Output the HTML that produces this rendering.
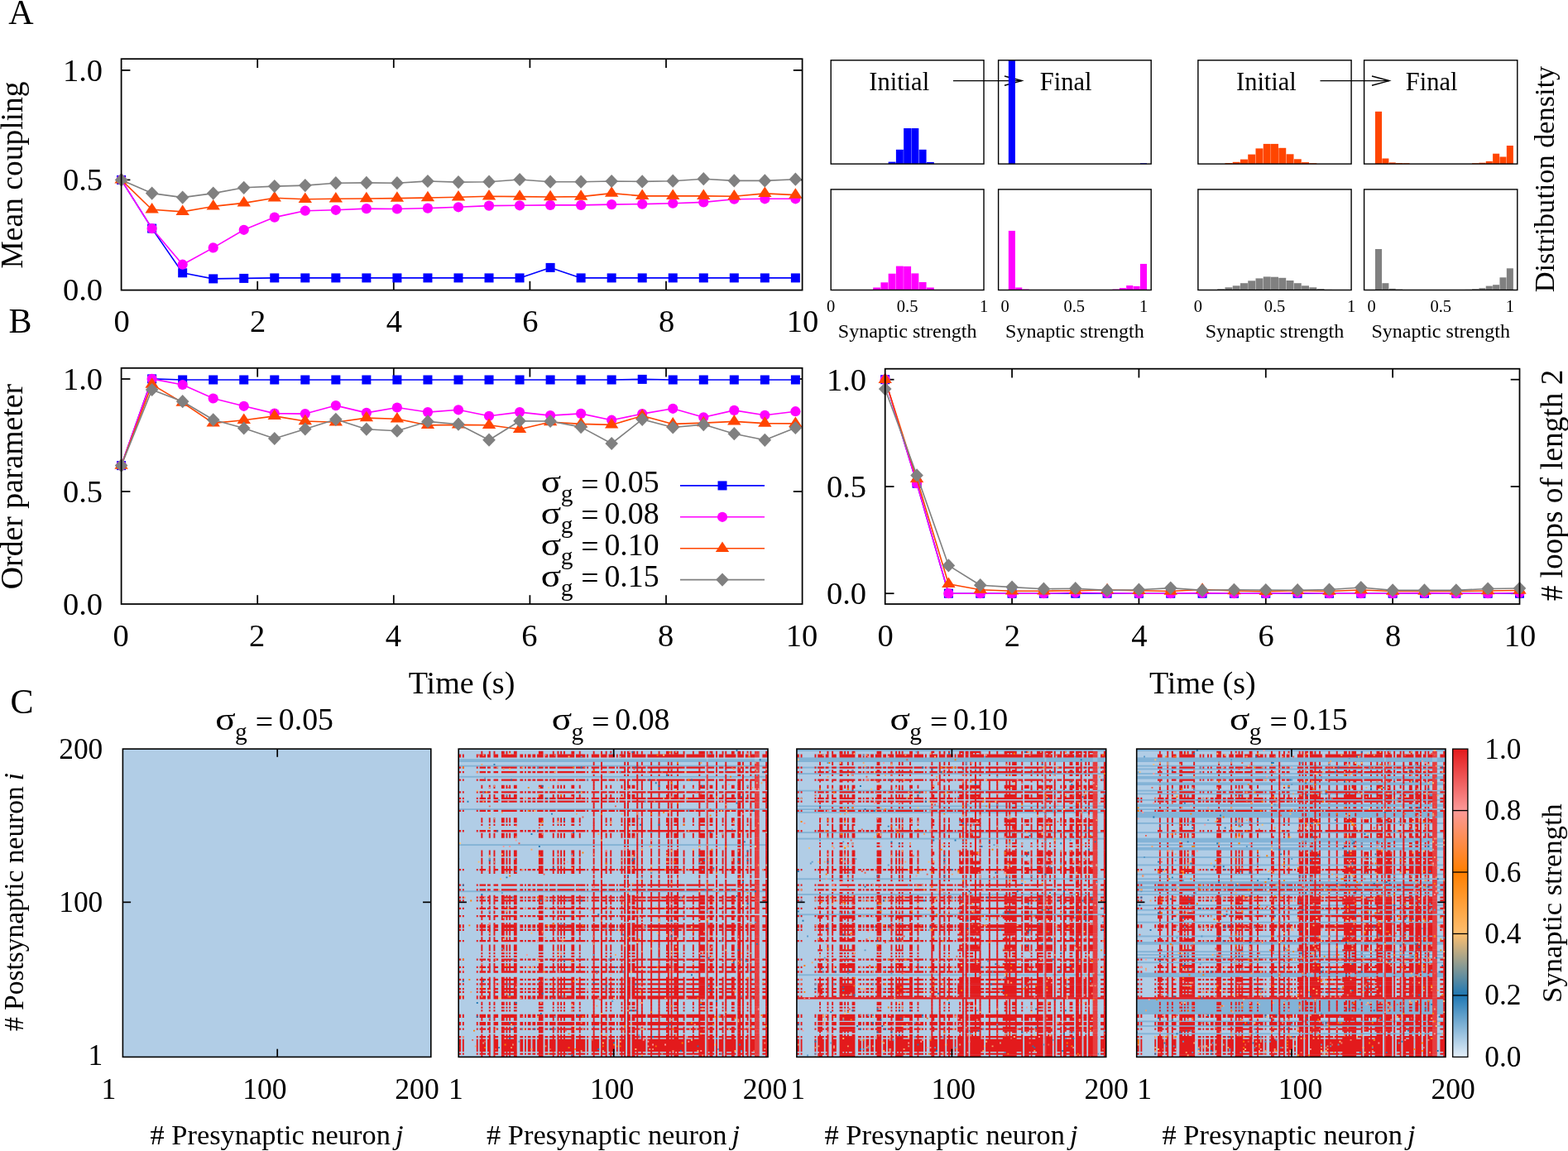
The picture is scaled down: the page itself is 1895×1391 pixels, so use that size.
<!DOCTYPE html>
<html lang="en"><head><meta charset="utf-8"><title>Figure</title>
<style>
html,body{margin:0;padding:0;background:#fff;}
body{width:1895px;height:1391px;overflow:hidden;}
svg{display:block;font-family:'Liberation Serif', 'DejaVu Serif', serif;fill:#000;}
svg text{fill:#000;}
</style></head><body>
<svg width="1895" height="1391" viewBox="0 0 1895 1391">
<rect width="1895" height="1391" fill="#fff"/>
<line x1="311.20" y1="350.60" x2="311.20" y2="339.80" stroke="#000" stroke-width="1.75"/>
<line x1="311.20" y1="71.20" x2="311.20" y2="82.00" stroke="#000" stroke-width="1.75"/>
<line x1="475.80" y1="350.60" x2="475.80" y2="339.80" stroke="#000" stroke-width="1.75"/>
<line x1="475.80" y1="71.20" x2="475.80" y2="82.00" stroke="#000" stroke-width="1.75"/>
<line x1="640.40" y1="350.60" x2="640.40" y2="339.80" stroke="#000" stroke-width="1.75"/>
<line x1="640.40" y1="71.20" x2="640.40" y2="82.00" stroke="#000" stroke-width="1.75"/>
<line x1="805.00" y1="350.60" x2="805.00" y2="339.80" stroke="#000" stroke-width="1.75"/>
<line x1="805.00" y1="71.20" x2="805.00" y2="82.00" stroke="#000" stroke-width="1.75"/>
<line x1="146.60" y1="84.90" x2="157.40" y2="84.90" stroke="#000" stroke-width="1.75"/>
<line x1="969.60" y1="84.90" x2="958.80" y2="84.90" stroke="#000" stroke-width="1.75"/>
<line x1="146.60" y1="217.40" x2="157.40" y2="217.40" stroke="#000" stroke-width="1.75"/>
<line x1="969.60" y1="217.40" x2="958.80" y2="217.40" stroke="#000" stroke-width="1.75"/>
<polyline points="146.60,217.40 183.63,276.10 220.67,329.80 257.71,336.90 294.74,336.40 331.77,335.90 368.81,335.90 405.85,335.90 442.88,335.90 479.91,335.90 516.95,335.90 553.99,335.90 591.02,335.90 628.06,335.90 665.09,323.40 702.12,335.90 739.16,335.90 776.20,335.90 813.23,335.90 850.27,335.90 887.30,335.90 924.34,335.90 961.37,335.90" fill="none" stroke="#0000ff" stroke-width="1.6" stroke-linejoin="round"/>
<rect x="141.10" y="211.90" width="11.00" height="11.00" fill="#0000ff"/>
<rect x="178.13" y="270.60" width="11.00" height="11.00" fill="#0000ff"/>
<rect x="215.17" y="324.30" width="11.00" height="11.00" fill="#0000ff"/>
<rect x="252.21" y="331.40" width="11.00" height="11.00" fill="#0000ff"/>
<rect x="289.24" y="330.90" width="11.00" height="11.00" fill="#0000ff"/>
<rect x="326.27" y="330.40" width="11.00" height="11.00" fill="#0000ff"/>
<rect x="363.31" y="330.40" width="11.00" height="11.00" fill="#0000ff"/>
<rect x="400.35" y="330.40" width="11.00" height="11.00" fill="#0000ff"/>
<rect x="437.38" y="330.40" width="11.00" height="11.00" fill="#0000ff"/>
<rect x="474.41" y="330.40" width="11.00" height="11.00" fill="#0000ff"/>
<rect x="511.45" y="330.40" width="11.00" height="11.00" fill="#0000ff"/>
<rect x="548.49" y="330.40" width="11.00" height="11.00" fill="#0000ff"/>
<rect x="585.52" y="330.40" width="11.00" height="11.00" fill="#0000ff"/>
<rect x="622.56" y="330.40" width="11.00" height="11.00" fill="#0000ff"/>
<rect x="659.59" y="317.90" width="11.00" height="11.00" fill="#0000ff"/>
<rect x="696.62" y="330.40" width="11.00" height="11.00" fill="#0000ff"/>
<rect x="733.66" y="330.40" width="11.00" height="11.00" fill="#0000ff"/>
<rect x="770.70" y="330.40" width="11.00" height="11.00" fill="#0000ff"/>
<rect x="807.73" y="330.40" width="11.00" height="11.00" fill="#0000ff"/>
<rect x="844.77" y="330.40" width="11.00" height="11.00" fill="#0000ff"/>
<rect x="881.80" y="330.40" width="11.00" height="11.00" fill="#0000ff"/>
<rect x="918.84" y="330.40" width="11.00" height="11.00" fill="#0000ff"/>
<rect x="955.87" y="330.40" width="11.00" height="11.00" fill="#0000ff"/>
<polyline points="146.60,217.40 183.63,276.10 220.67,319.70 257.71,299.40 294.74,277.80 331.77,262.60 368.81,254.70 405.85,253.80 442.88,252.10 479.91,252.50 516.95,251.60 553.99,250.30 591.02,248.60 628.06,248.30 665.09,247.90 702.12,247.90 739.16,247.10 776.20,246.60 813.23,245.70 850.27,244.40 887.30,240.70 924.34,240.30 961.37,240.30" fill="none" stroke="#ff00ff" stroke-width="1.6" stroke-linejoin="round"/>
<circle cx="146.60" cy="217.40" r="6.1" fill="#ff00ff"/>
<circle cx="183.63" cy="276.10" r="6.1" fill="#ff00ff"/>
<circle cx="220.67" cy="319.70" r="6.1" fill="#ff00ff"/>
<circle cx="257.71" cy="299.40" r="6.1" fill="#ff00ff"/>
<circle cx="294.74" cy="277.80" r="6.1" fill="#ff00ff"/>
<circle cx="331.77" cy="262.60" r="6.1" fill="#ff00ff"/>
<circle cx="368.81" cy="254.70" r="6.1" fill="#ff00ff"/>
<circle cx="405.85" cy="253.80" r="6.1" fill="#ff00ff"/>
<circle cx="442.88" cy="252.10" r="6.1" fill="#ff00ff"/>
<circle cx="479.91" cy="252.50" r="6.1" fill="#ff00ff"/>
<circle cx="516.95" cy="251.60" r="6.1" fill="#ff00ff"/>
<circle cx="553.99" cy="250.30" r="6.1" fill="#ff00ff"/>
<circle cx="591.02" cy="248.60" r="6.1" fill="#ff00ff"/>
<circle cx="628.06" cy="248.30" r="6.1" fill="#ff00ff"/>
<circle cx="665.09" cy="247.90" r="6.1" fill="#ff00ff"/>
<circle cx="702.12" cy="247.90" r="6.1" fill="#ff00ff"/>
<circle cx="739.16" cy="247.10" r="6.1" fill="#ff00ff"/>
<circle cx="776.20" cy="246.60" r="6.1" fill="#ff00ff"/>
<circle cx="813.23" cy="245.70" r="6.1" fill="#ff00ff"/>
<circle cx="850.27" cy="244.40" r="6.1" fill="#ff00ff"/>
<circle cx="887.30" cy="240.70" r="6.1" fill="#ff00ff"/>
<circle cx="924.34" cy="240.30" r="6.1" fill="#ff00ff"/>
<circle cx="961.37" cy="240.30" r="6.1" fill="#ff00ff"/>
<polyline points="146.60,217.40 183.63,253.30 220.67,255.90 257.71,249.40 294.74,245.40 331.77,239.30 368.81,240.70 405.85,240.30 442.88,240.00 479.91,239.60 516.95,239.00 553.99,238.30 591.02,237.30 628.06,237.60 665.09,238.00 702.12,237.60 739.16,233.60 776.20,236.90 813.23,236.90 850.27,236.90 887.30,237.30 924.34,233.90 961.37,235.60" fill="none" stroke="#ff4500" stroke-width="1.6" stroke-linejoin="round"/>
<polygon points="146.60,209.10 154.80,221.60 138.40,221.60" fill="#ff4500"/>
<polygon points="183.63,245.00 191.83,257.50 175.44,257.50" fill="#ff4500"/>
<polygon points="220.67,247.60 228.87,260.10 212.47,260.10" fill="#ff4500"/>
<polygon points="257.71,241.10 265.91,253.60 249.51,253.60" fill="#ff4500"/>
<polygon points="294.74,237.10 302.94,249.60 286.54,249.60" fill="#ff4500"/>
<polygon points="331.77,231.00 339.97,243.50 323.57,243.50" fill="#ff4500"/>
<polygon points="368.81,232.40 377.01,244.90 360.61,244.90" fill="#ff4500"/>
<polygon points="405.85,232.00 414.05,244.50 397.65,244.50" fill="#ff4500"/>
<polygon points="442.88,231.70 451.08,244.20 434.68,244.20" fill="#ff4500"/>
<polygon points="479.91,231.30 488.11,243.80 471.71,243.80" fill="#ff4500"/>
<polygon points="516.95,230.70 525.15,243.20 508.75,243.20" fill="#ff4500"/>
<polygon points="553.99,230.00 562.19,242.50 545.78,242.50" fill="#ff4500"/>
<polygon points="591.02,229.00 599.22,241.50 582.82,241.50" fill="#ff4500"/>
<polygon points="628.06,229.30 636.26,241.80 619.86,241.80" fill="#ff4500"/>
<polygon points="665.09,229.70 673.29,242.20 656.89,242.20" fill="#ff4500"/>
<polygon points="702.12,229.30 710.33,241.80 693.92,241.80" fill="#ff4500"/>
<polygon points="739.16,225.30 747.36,237.80 730.96,237.80" fill="#ff4500"/>
<polygon points="776.20,228.60 784.40,241.10 768.00,241.10" fill="#ff4500"/>
<polygon points="813.23,228.60 821.43,241.10 805.03,241.10" fill="#ff4500"/>
<polygon points="850.27,228.60 858.47,241.10 842.07,241.10" fill="#ff4500"/>
<polygon points="887.30,229.00 895.50,241.50 879.10,241.50" fill="#ff4500"/>
<polygon points="924.34,225.60 932.54,238.10 916.14,238.10" fill="#ff4500"/>
<polygon points="961.37,227.30 969.57,239.80 953.17,239.80" fill="#ff4500"/>
<polyline points="146.60,217.40 183.63,233.60 220.67,238.60 257.71,233.60 294.74,226.80 331.77,225.10 368.81,224.10 405.85,221.20 442.88,220.90 479.91,221.20 516.95,219.00 553.99,220.10 591.02,219.70 628.06,217.00 665.09,219.70 702.12,219.70 739.16,219.00 776.20,219.40 813.23,218.70 850.27,216.20 887.30,218.40 924.34,218.40 961.37,216.70" fill="none" stroke="#808080" stroke-width="1.6" stroke-linejoin="round"/>
<polygon points="146.60,209.30 154.40,217.40 146.60,225.50 138.80,217.40" fill="#808080"/>
<polygon points="183.63,225.50 191.44,233.60 183.63,241.70 175.83,233.60" fill="#808080"/>
<polygon points="220.67,230.50 228.47,238.60 220.67,246.70 212.87,238.60" fill="#808080"/>
<polygon points="257.71,225.50 265.51,233.60 257.71,241.70 249.91,233.60" fill="#808080"/>
<polygon points="294.74,218.70 302.54,226.80 294.74,234.90 286.94,226.80" fill="#808080"/>
<polygon points="331.77,217.00 339.57,225.10 331.77,233.20 323.97,225.10" fill="#808080"/>
<polygon points="368.81,216.00 376.61,224.10 368.81,232.20 361.01,224.10" fill="#808080"/>
<polygon points="405.85,213.10 413.65,221.20 405.85,229.30 398.05,221.20" fill="#808080"/>
<polygon points="442.88,212.80 450.68,220.90 442.88,229.00 435.08,220.90" fill="#808080"/>
<polygon points="479.91,213.10 487.71,221.20 479.91,229.30 472.11,221.20" fill="#808080"/>
<polygon points="516.95,210.90 524.75,219.00 516.95,227.10 509.15,219.00" fill="#808080"/>
<polygon points="553.99,212.00 561.78,220.10 553.99,228.20 546.19,220.10" fill="#808080"/>
<polygon points="591.02,211.60 598.82,219.70 591.02,227.80 583.22,219.70" fill="#808080"/>
<polygon points="628.06,208.90 635.86,217.00 628.06,225.10 620.26,217.00" fill="#808080"/>
<polygon points="665.09,211.60 672.89,219.70 665.09,227.80 657.29,219.70" fill="#808080"/>
<polygon points="702.12,211.60 709.92,219.70 702.12,227.80 694.33,219.70" fill="#808080"/>
<polygon points="739.16,210.90 746.96,219.00 739.16,227.10 731.36,219.00" fill="#808080"/>
<polygon points="776.20,211.30 784.00,219.40 776.20,227.50 768.40,219.40" fill="#808080"/>
<polygon points="813.23,210.60 821.03,218.70 813.23,226.80 805.43,218.70" fill="#808080"/>
<polygon points="850.27,208.10 858.07,216.20 850.27,224.30 842.47,216.20" fill="#808080"/>
<polygon points="887.30,210.30 895.10,218.40 887.30,226.50 879.50,218.40" fill="#808080"/>
<polygon points="924.34,210.30 932.14,218.40 924.34,226.50 916.54,218.40" fill="#808080"/>
<polygon points="961.37,208.60 969.17,216.70 961.37,224.80 953.57,216.70" fill="#808080"/>
<rect x="146.60" y="71.20" width="823.00" height="279.40" fill="none" stroke="#000" stroke-width="1.75"/>
<text x="124.00" y="97.90" font-size="38.5" text-anchor="end">1.0</text>
<text x="124.00" y="230.40" font-size="38.5" text-anchor="end">0.5</text>
<text x="124.00" y="363.00" font-size="38.5" text-anchor="end">0.0</text>
<text x="147.10" y="401.30" font-size="38.5" text-anchor="middle">0</text>
<text x="311.70" y="401.30" font-size="38.5" text-anchor="middle">2</text>
<text x="476.30" y="401.30" font-size="38.5" text-anchor="middle">4</text>
<text x="640.90" y="401.30" font-size="38.5" text-anchor="middle">6</text>
<text x="805.50" y="401.30" font-size="38.5" text-anchor="middle">8</text>
<text x="970.10" y="401.30" font-size="38.5" text-anchor="middle">10</text>
<text x="27.00" y="211.50" font-size="37.5" text-anchor="middle" transform="rotate(-90 27.00 211.50)">Mean coupling</text>
<text x="25.50" y="29.20" font-size="42" text-anchor="middle">A</text>
<text x="24.50" y="401.70" font-size="42" text-anchor="middle">B</text>
<text x="26.50" y="862.00" font-size="42" text-anchor="middle">C</text>
<g fill="#0000ff">
<rect x="1073.65" y="195.60" width="8.94" height="2.50"/>
<rect x="1082.89" y="180.80" width="8.94" height="17.30"/>
<rect x="1092.13" y="155.00" width="8.94" height="43.10"/>
<rect x="1101.37" y="155.00" width="8.94" height="43.10"/>
<rect x="1110.61" y="180.80" width="8.94" height="17.30"/>
<rect x="1119.85" y="195.90" width="8.94" height="2.20"/>
</g>
<rect x="1004.20" y="72.80" width="184.80" height="125.30" fill="none" stroke="#000" stroke-width="1.4"/>
<line x1="1152.00" y1="97.60" x2="1235.00" y2="97.60" stroke="#000" stroke-width="1.4"/>
<polyline points="1214.00,92.00 1235.00,97.60 1214.00,103.20" fill="none" stroke="#000" stroke-width="1.4"/>
<g fill="#0000ff">
<rect x="1218.84" y="72.80" width="8.07" height="125.30"/>
<rect x="1377.96" y="197.30" width="8.07" height="0.80"/>
</g>
<rect x="1206.60" y="72.80" width="184.60" height="125.30" fill="none" stroke="#000" stroke-width="1.4"/>
<g fill="#ff00ff">
<rect x="1055.17" y="347.50" width="8.94" height="3.00"/>
<rect x="1064.41" y="341.30" width="8.94" height="9.20"/>
<rect x="1073.65" y="330.70" width="8.94" height="19.80"/>
<rect x="1082.89" y="321.60" width="8.94" height="28.90"/>
<rect x="1092.13" y="321.90" width="8.94" height="28.60"/>
<rect x="1101.37" y="330.40" width="8.94" height="20.10"/>
<rect x="1110.61" y="341.00" width="8.94" height="9.50"/>
<rect x="1119.85" y="347.50" width="8.94" height="3.00"/>
</g>
<rect x="1004.20" y="228.90" width="184.80" height="121.60" fill="none" stroke="#000" stroke-width="1.4"/>
<g fill="#ff00ff">
<rect x="1218.84" y="278.90" width="8.07" height="71.60"/>
<rect x="1227.21" y="347.50" width="8.07" height="3.00"/>
<rect x="1235.59" y="349.60" width="8.07" height="0.90"/>
<rect x="1344.46" y="349.60" width="8.07" height="0.90"/>
<rect x="1352.84" y="348.10" width="8.07" height="2.40"/>
<rect x="1361.21" y="345.00" width="8.07" height="5.50"/>
<rect x="1369.59" y="345.90" width="8.07" height="4.60"/>
<rect x="1377.96" y="318.90" width="8.07" height="31.60"/>
</g>
<rect x="1206.60" y="228.90" width="184.60" height="121.60" fill="none" stroke="#000" stroke-width="1.4"/>
<g fill="#ff4500">
<rect x="1480.46" y="197.10" width="8.96" height="1.00"/>
<rect x="1489.72" y="195.80" width="8.96" height="2.30"/>
<rect x="1498.98" y="192.60" width="8.96" height="5.50"/>
<rect x="1508.24" y="186.60" width="8.96" height="11.50"/>
<rect x="1517.50" y="179.40" width="8.96" height="18.70"/>
<rect x="1526.76" y="173.90" width="8.96" height="24.20"/>
<rect x="1536.02" y="173.90" width="8.96" height="24.20"/>
<rect x="1545.28" y="178.80" width="8.96" height="19.30"/>
<rect x="1554.54" y="186.30" width="8.96" height="11.80"/>
<rect x="1563.80" y="192.30" width="8.96" height="5.80"/>
<rect x="1573.06" y="196.10" width="8.96" height="2.00"/>
<rect x="1582.32" y="197.30" width="8.96" height="0.80"/>
</g>
<rect x="1447.90" y="72.80" width="185.20" height="125.30" fill="none" stroke="#000" stroke-width="1.4"/>
<line x1="1595.50" y1="97.60" x2="1679.00" y2="97.60" stroke="#000" stroke-width="1.4"/>
<polyline points="1658.00,92.00 1679.00,97.60 1658.00,103.20" fill="none" stroke="#000" stroke-width="1.4"/>
<g fill="#ff4500">
<rect x="1661.98" y="134.80" width="8.06" height="63.30"/>
<rect x="1670.34" y="191.50" width="8.06" height="6.60"/>
<rect x="1678.70" y="196.40" width="8.06" height="1.70"/>
<rect x="1687.06" y="197.10" width="8.06" height="1.00"/>
<rect x="1695.42" y="197.30" width="8.06" height="0.80"/>
<rect x="1779.02" y="197.30" width="8.06" height="0.80"/>
<rect x="1787.38" y="196.70" width="8.06" height="1.40"/>
<rect x="1795.74" y="194.90" width="8.06" height="3.20"/>
<rect x="1804.10" y="185.70" width="8.06" height="12.40"/>
<rect x="1812.46" y="189.50" width="8.06" height="8.60"/>
<rect x="1820.82" y="176.00" width="8.06" height="22.10"/>
</g>
<rect x="1648.60" y="72.80" width="185.20" height="125.30" fill="none" stroke="#000" stroke-width="1.4"/>
<g fill="#808080">
<rect x="1471.20" y="349.30" width="8.96" height="1.20"/>
<rect x="1480.46" y="347.30" width="8.96" height="3.20"/>
<rect x="1489.72" y="345.30" width="8.96" height="5.20"/>
<rect x="1498.98" y="342.20" width="8.96" height="8.30"/>
<rect x="1508.24" y="339.30" width="8.96" height="11.20"/>
<rect x="1517.50" y="336.40" width="8.96" height="14.10"/>
<rect x="1526.76" y="334.40" width="8.96" height="16.10"/>
<rect x="1536.02" y="334.70" width="8.96" height="15.80"/>
<rect x="1545.28" y="335.80" width="8.96" height="14.70"/>
<rect x="1554.54" y="339.00" width="8.96" height="11.50"/>
<rect x="1563.80" y="342.20" width="8.96" height="8.30"/>
<rect x="1573.06" y="345.30" width="8.96" height="5.20"/>
<rect x="1582.32" y="347.30" width="8.96" height="3.20"/>
<rect x="1591.58" y="349.10" width="8.96" height="1.40"/>
<rect x="1600.84" y="349.90" width="8.96" height="0.60"/>
</g>
<rect x="1447.90" y="228.90" width="185.20" height="121.60" fill="none" stroke="#000" stroke-width="1.4"/>
<g fill="#808080">
<rect x="1661.98" y="301.00" width="8.06" height="49.50"/>
<rect x="1670.34" y="342.20" width="8.06" height="8.30"/>
<rect x="1678.70" y="348.80" width="8.06" height="1.70"/>
<rect x="1687.06" y="349.60" width="8.06" height="0.90"/>
<rect x="1770.66" y="349.90" width="8.06" height="0.60"/>
<rect x="1779.02" y="349.30" width="8.06" height="1.20"/>
<rect x="1787.38" y="348.20" width="8.06" height="2.30"/>
<rect x="1795.74" y="345.60" width="8.06" height="4.90"/>
<rect x="1804.10" y="344.20" width="8.06" height="6.30"/>
<rect x="1812.46" y="335.30" width="8.06" height="15.20"/>
<rect x="1820.82" y="324.30" width="8.06" height="26.20"/>
</g>
<rect x="1648.60" y="228.90" width="185.20" height="121.60" fill="none" stroke="#000" stroke-width="1.4"/>
<text x="1086.70" y="108.50" font-size="30.5" text-anchor="middle">Initial</text>
<text x="1288.10" y="108.50" font-size="30.5" text-anchor="middle">Final</text>
<text x="1096.60" y="407.70" font-size="24.05" text-anchor="middle">Synaptic strength</text>
<text x="1298.90" y="407.70" font-size="24.05" text-anchor="middle">Synaptic strength</text>
<text x="1004.20" y="376.60" font-size="20.5" text-anchor="middle">0</text>
<text x="1096.60" y="376.60" font-size="20.5" text-anchor="middle">0.5</text>
<text x="1189.00" y="376.60" font-size="20.5" text-anchor="middle">1</text>
<text x="1214.50" y="376.60" font-size="20.5" text-anchor="middle">0</text>
<text x="1298.25" y="376.60" font-size="20.5" text-anchor="middle">0.5</text>
<text x="1382.00" y="376.60" font-size="20.5" text-anchor="middle">1</text>
<text x="1530.40" y="108.50" font-size="30.5" text-anchor="middle">Initial</text>
<text x="1730.10" y="108.50" font-size="30.5" text-anchor="middle">Final</text>
<text x="1540.50" y="407.70" font-size="24.05" text-anchor="middle">Synaptic strength</text>
<text x="1741.20" y="407.70" font-size="24.05" text-anchor="middle">Synaptic strength</text>
<text x="1447.90" y="376.60" font-size="20.5" text-anchor="middle">0</text>
<text x="1540.50" y="376.60" font-size="20.5" text-anchor="middle">0.5</text>
<text x="1633.10" y="376.60" font-size="20.5" text-anchor="middle">1</text>
<text x="1657.65" y="376.60" font-size="20.5" text-anchor="middle">0</text>
<text x="1741.25" y="376.60" font-size="20.5" text-anchor="middle">0.5</text>
<text x="1824.85" y="376.60" font-size="20.5" text-anchor="middle">1</text>
<text x="1878.00" y="216.50" font-size="34.3" text-anchor="middle" transform="rotate(-90 1878.00 216.50)">Distribution density</text>
<line x1="311.20" y1="730.00" x2="311.20" y2="719.20" stroke="#000" stroke-width="1.75"/>
<line x1="311.20" y1="444.80" x2="311.20" y2="455.60" stroke="#000" stroke-width="1.75"/>
<line x1="475.80" y1="730.00" x2="475.80" y2="719.20" stroke="#000" stroke-width="1.75"/>
<line x1="475.80" y1="444.80" x2="475.80" y2="455.60" stroke="#000" stroke-width="1.75"/>
<line x1="640.40" y1="730.00" x2="640.40" y2="719.20" stroke="#000" stroke-width="1.75"/>
<line x1="640.40" y1="444.80" x2="640.40" y2="455.60" stroke="#000" stroke-width="1.75"/>
<line x1="805.00" y1="730.00" x2="805.00" y2="719.20" stroke="#000" stroke-width="1.75"/>
<line x1="805.00" y1="444.80" x2="805.00" y2="455.60" stroke="#000" stroke-width="1.75"/>
<line x1="146.60" y1="458.00" x2="157.40" y2="458.00" stroke="#000" stroke-width="1.75"/>
<line x1="969.60" y1="458.00" x2="958.80" y2="458.00" stroke="#000" stroke-width="1.75"/>
<line x1="146.60" y1="594.00" x2="157.40" y2="594.00" stroke="#000" stroke-width="1.75"/>
<line x1="969.60" y1="594.00" x2="958.80" y2="594.00" stroke="#000" stroke-width="1.75"/>
<polyline points="146.60,562.60 183.63,457.90 220.67,459.00 257.71,459.00 294.74,459.00 331.77,459.00 368.81,459.00 405.85,459.00 442.88,459.00 479.91,459.00 516.95,459.00 553.99,459.00 591.02,459.00 628.06,459.00 665.09,459.00 702.12,459.00 739.16,459.00 776.20,458.40 813.23,459.00 850.27,459.00 887.30,459.00 924.34,459.00 961.37,459.00" fill="none" stroke="#0000ff" stroke-width="1.6" stroke-linejoin="round"/>
<rect x="141.10" y="557.10" width="11.00" height="11.00" fill="#0000ff"/>
<rect x="178.13" y="452.40" width="11.00" height="11.00" fill="#0000ff"/>
<rect x="215.17" y="453.50" width="11.00" height="11.00" fill="#0000ff"/>
<rect x="252.21" y="453.50" width="11.00" height="11.00" fill="#0000ff"/>
<rect x="289.24" y="453.50" width="11.00" height="11.00" fill="#0000ff"/>
<rect x="326.27" y="453.50" width="11.00" height="11.00" fill="#0000ff"/>
<rect x="363.31" y="453.50" width="11.00" height="11.00" fill="#0000ff"/>
<rect x="400.35" y="453.50" width="11.00" height="11.00" fill="#0000ff"/>
<rect x="437.38" y="453.50" width="11.00" height="11.00" fill="#0000ff"/>
<rect x="474.41" y="453.50" width="11.00" height="11.00" fill="#0000ff"/>
<rect x="511.45" y="453.50" width="11.00" height="11.00" fill="#0000ff"/>
<rect x="548.49" y="453.50" width="11.00" height="11.00" fill="#0000ff"/>
<rect x="585.52" y="453.50" width="11.00" height="11.00" fill="#0000ff"/>
<rect x="622.56" y="453.50" width="11.00" height="11.00" fill="#0000ff"/>
<rect x="659.59" y="453.50" width="11.00" height="11.00" fill="#0000ff"/>
<rect x="696.62" y="453.50" width="11.00" height="11.00" fill="#0000ff"/>
<rect x="733.66" y="453.50" width="11.00" height="11.00" fill="#0000ff"/>
<rect x="770.70" y="452.90" width="11.00" height="11.00" fill="#0000ff"/>
<rect x="807.73" y="453.50" width="11.00" height="11.00" fill="#0000ff"/>
<rect x="844.77" y="453.50" width="11.00" height="11.00" fill="#0000ff"/>
<rect x="881.80" y="453.50" width="11.00" height="11.00" fill="#0000ff"/>
<rect x="918.84" y="453.50" width="11.00" height="11.00" fill="#0000ff"/>
<rect x="955.87" y="453.50" width="11.00" height="11.00" fill="#0000ff"/>
<polyline points="146.60,562.60 183.63,457.90 220.67,465.00 257.71,481.50 294.74,490.80 331.77,499.60 368.81,500.10 405.85,490.10 442.88,498.90 479.91,492.50 516.95,498.10 553.99,495.30 591.02,502.80 628.06,498.10 665.09,502.10 702.12,499.90 739.16,507.70 776.20,500.10 813.23,493.80 850.27,504.30 887.30,495.90 924.34,501.80 961.37,497.20" fill="none" stroke="#ff00ff" stroke-width="1.6" stroke-linejoin="round"/>
<circle cx="146.60" cy="562.60" r="6.1" fill="#ff00ff"/>
<circle cx="183.63" cy="457.90" r="6.1" fill="#ff00ff"/>
<circle cx="220.67" cy="465.00" r="6.1" fill="#ff00ff"/>
<circle cx="257.71" cy="481.50" r="6.1" fill="#ff00ff"/>
<circle cx="294.74" cy="490.80" r="6.1" fill="#ff00ff"/>
<circle cx="331.77" cy="499.60" r="6.1" fill="#ff00ff"/>
<circle cx="368.81" cy="500.10" r="6.1" fill="#ff00ff"/>
<circle cx="405.85" cy="490.10" r="6.1" fill="#ff00ff"/>
<circle cx="442.88" cy="498.90" r="6.1" fill="#ff00ff"/>
<circle cx="479.91" cy="492.50" r="6.1" fill="#ff00ff"/>
<circle cx="516.95" cy="498.10" r="6.1" fill="#ff00ff"/>
<circle cx="553.99" cy="495.30" r="6.1" fill="#ff00ff"/>
<circle cx="591.02" cy="502.80" r="6.1" fill="#ff00ff"/>
<circle cx="628.06" cy="498.10" r="6.1" fill="#ff00ff"/>
<circle cx="665.09" cy="502.10" r="6.1" fill="#ff00ff"/>
<circle cx="702.12" cy="499.90" r="6.1" fill="#ff00ff"/>
<circle cx="739.16" cy="507.70" r="6.1" fill="#ff00ff"/>
<circle cx="776.20" cy="500.10" r="6.1" fill="#ff00ff"/>
<circle cx="813.23" cy="493.80" r="6.1" fill="#ff00ff"/>
<circle cx="850.27" cy="504.30" r="6.1" fill="#ff00ff"/>
<circle cx="887.30" cy="495.90" r="6.1" fill="#ff00ff"/>
<circle cx="924.34" cy="501.80" r="6.1" fill="#ff00ff"/>
<circle cx="961.37" cy="497.20" r="6.1" fill="#ff00ff"/>
<polyline points="146.60,562.60 183.63,464.60 220.67,486.60 257.71,511.40 294.74,507.70 331.77,502.90 368.81,509.00 405.85,510.20 442.88,505.10 479.91,506.30 516.95,513.90 553.99,513.40 591.02,513.80 628.06,518.70 665.09,510.00 702.12,512.40 739.16,513.40 776.20,502.60 813.23,512.40 850.27,511.10 887.30,509.40 924.34,511.60 961.37,511.90" fill="none" stroke="#ff4500" stroke-width="1.6" stroke-linejoin="round"/>
<polygon points="146.60,554.30 154.80,566.80 138.40,566.80" fill="#ff4500"/>
<polygon points="183.63,456.30 191.83,468.80 175.44,468.80" fill="#ff4500"/>
<polygon points="220.67,478.30 228.87,490.80 212.47,490.80" fill="#ff4500"/>
<polygon points="257.71,503.10 265.91,515.60 249.51,515.60" fill="#ff4500"/>
<polygon points="294.74,499.40 302.94,511.90 286.54,511.90" fill="#ff4500"/>
<polygon points="331.77,494.60 339.97,507.10 323.57,507.10" fill="#ff4500"/>
<polygon points="368.81,500.70 377.01,513.20 360.61,513.20" fill="#ff4500"/>
<polygon points="405.85,501.90 414.05,514.40 397.65,514.40" fill="#ff4500"/>
<polygon points="442.88,496.80 451.08,509.30 434.68,509.30" fill="#ff4500"/>
<polygon points="479.91,498.00 488.11,510.50 471.71,510.50" fill="#ff4500"/>
<polygon points="516.95,505.60 525.15,518.10 508.75,518.10" fill="#ff4500"/>
<polygon points="553.99,505.10 562.19,517.60 545.78,517.60" fill="#ff4500"/>
<polygon points="591.02,505.50 599.22,518.00 582.82,518.00" fill="#ff4500"/>
<polygon points="628.06,510.40 636.26,522.90 619.86,522.90" fill="#ff4500"/>
<polygon points="665.09,501.70 673.29,514.20 656.89,514.20" fill="#ff4500"/>
<polygon points="702.12,504.10 710.33,516.60 693.92,516.60" fill="#ff4500"/>
<polygon points="739.16,505.10 747.36,517.60 730.96,517.60" fill="#ff4500"/>
<polygon points="776.20,494.30 784.40,506.80 768.00,506.80" fill="#ff4500"/>
<polygon points="813.23,504.10 821.43,516.60 805.03,516.60" fill="#ff4500"/>
<polygon points="850.27,502.80 858.47,515.30 842.07,515.30" fill="#ff4500"/>
<polygon points="887.30,501.10 895.50,513.60 879.10,513.60" fill="#ff4500"/>
<polygon points="924.34,503.30 932.54,515.80 916.14,515.80" fill="#ff4500"/>
<polygon points="961.37,503.60 969.57,516.10 953.17,516.10" fill="#ff4500"/>
<polyline points="146.60,562.60 183.63,471.00 220.67,485.20 257.71,507.30 294.74,517.50 331.77,530.00 368.81,518.50 405.85,506.80 442.88,518.70 479.91,520.70 516.95,509.40 553.99,512.70 591.02,531.70 628.06,508.70 665.09,509.00 702.12,516.10 739.16,536.00 776.20,506.80 813.23,516.50 850.27,513.10 887.30,524.20 924.34,531.80 961.37,517.00" fill="none" stroke="#808080" stroke-width="1.6" stroke-linejoin="round"/>
<polygon points="146.60,554.50 154.40,562.60 146.60,570.70 138.80,562.60" fill="#808080"/>
<polygon points="183.63,462.90 191.44,471.00 183.63,479.10 175.83,471.00" fill="#808080"/>
<polygon points="220.67,477.10 228.47,485.20 220.67,493.30 212.87,485.20" fill="#808080"/>
<polygon points="257.71,499.20 265.51,507.30 257.71,515.40 249.91,507.30" fill="#808080"/>
<polygon points="294.74,509.40 302.54,517.50 294.74,525.60 286.94,517.50" fill="#808080"/>
<polygon points="331.77,521.90 339.57,530.00 331.77,538.10 323.97,530.00" fill="#808080"/>
<polygon points="368.81,510.40 376.61,518.50 368.81,526.60 361.01,518.50" fill="#808080"/>
<polygon points="405.85,498.70 413.65,506.80 405.85,514.90 398.05,506.80" fill="#808080"/>
<polygon points="442.88,510.60 450.68,518.70 442.88,526.80 435.08,518.70" fill="#808080"/>
<polygon points="479.91,512.60 487.71,520.70 479.91,528.80 472.11,520.70" fill="#808080"/>
<polygon points="516.95,501.30 524.75,509.40 516.95,517.50 509.15,509.40" fill="#808080"/>
<polygon points="553.99,504.60 561.78,512.70 553.99,520.80 546.19,512.70" fill="#808080"/>
<polygon points="591.02,523.60 598.82,531.70 591.02,539.80 583.22,531.70" fill="#808080"/>
<polygon points="628.06,500.60 635.86,508.70 628.06,516.80 620.26,508.70" fill="#808080"/>
<polygon points="665.09,500.90 672.89,509.00 665.09,517.10 657.29,509.00" fill="#808080"/>
<polygon points="702.12,508.00 709.92,516.10 702.12,524.20 694.33,516.10" fill="#808080"/>
<polygon points="739.16,527.90 746.96,536.00 739.16,544.10 731.36,536.00" fill="#808080"/>
<polygon points="776.20,498.70 784.00,506.80 776.20,514.90 768.40,506.80" fill="#808080"/>
<polygon points="813.23,508.40 821.03,516.50 813.23,524.60 805.43,516.50" fill="#808080"/>
<polygon points="850.27,505.00 858.07,513.10 850.27,521.20 842.47,513.10" fill="#808080"/>
<polygon points="887.30,516.10 895.10,524.20 887.30,532.30 879.50,524.20" fill="#808080"/>
<polygon points="924.34,523.70 932.14,531.80 924.34,539.90 916.54,531.80" fill="#808080"/>
<polygon points="961.37,508.90 969.17,517.00 961.37,525.10 953.57,517.00" fill="#808080"/>
<rect x="146.60" y="444.80" width="823.00" height="285.20" fill="none" stroke="#000" stroke-width="1.75"/>
<text x="124.00" y="471.00" font-size="38.5" text-anchor="end">1.0</text>
<text x="124.00" y="607.00" font-size="38.5" text-anchor="end">0.5</text>
<text x="124.00" y="743.00" font-size="38.5" text-anchor="end">0.0</text>
<text x="146.10" y="780.80" font-size="38.5" text-anchor="middle">0</text>
<text x="310.70" y="780.80" font-size="38.5" text-anchor="middle">2</text>
<text x="475.30" y="780.80" font-size="38.5" text-anchor="middle">4</text>
<text x="639.90" y="780.80" font-size="38.5" text-anchor="middle">6</text>
<text x="804.50" y="780.80" font-size="38.5" text-anchor="middle">8</text>
<text x="969.10" y="780.80" font-size="38.5" text-anchor="middle">10</text>
<text x="27.00" y="588.00" font-size="37.75" text-anchor="middle" transform="rotate(-90 27.00 588.00)">Order parameter</text>
<text x="558.00" y="838.10" font-size="38.1" text-anchor="middle">Time (s)</text>
<text transform="translate(653.80 594.90) scale(1.2 1)" font-size="37.8">σ</text>
<text x="677.68" y="606.24" font-size="29.48">g</text>
<text x="702.30" y="597.50" font-size="37.8">=</text>
<text x="796.60" y="594.90" font-size="37.8" text-anchor="end">0.05</text>
<line x1="822.00" y1="586.90" x2="924.00" y2="586.90" stroke="#0000ff" stroke-width="1.6"/>
<rect x="867.50" y="581.40" width="11.00" height="11.00" fill="#0000ff"/>
<text transform="translate(653.80 632.80) scale(1.2 1)" font-size="37.8">σ</text>
<text x="677.68" y="644.14" font-size="29.48">g</text>
<text x="702.30" y="635.40" font-size="37.8">=</text>
<text x="796.60" y="632.80" font-size="37.8" text-anchor="end">0.08</text>
<line x1="822.00" y1="624.80" x2="924.00" y2="624.80" stroke="#ff00ff" stroke-width="1.6"/>
<circle cx="873.00" cy="624.80" r="6.1" fill="#ff00ff"/>
<text transform="translate(653.80 670.70) scale(1.2 1)" font-size="37.8">σ</text>
<text x="677.68" y="682.04" font-size="29.48">g</text>
<text x="702.30" y="673.30" font-size="37.8">=</text>
<text x="796.60" y="670.70" font-size="37.8" text-anchor="end">0.10</text>
<line x1="822.00" y1="662.70" x2="924.00" y2="662.70" stroke="#ff4500" stroke-width="1.6"/>
<polygon points="873.00,654.40 881.20,666.90 864.80,666.90" fill="#ff4500"/>
<text transform="translate(653.80 708.60) scale(1.2 1)" font-size="37.8">σ</text>
<text x="677.68" y="719.94" font-size="29.48">g</text>
<text x="702.30" y="711.20" font-size="37.8">=</text>
<text x="796.60" y="708.60" font-size="37.8" text-anchor="end">0.15</text>
<line x1="822.00" y1="700.60" x2="924.00" y2="700.60" stroke="#808080" stroke-width="1.6"/>
<polygon points="873.00,692.50 880.80,700.60 873.00,708.70 865.20,700.60" fill="#808080"/>
<line x1="1223.06" y1="730.00" x2="1223.06" y2="719.20" stroke="#000" stroke-width="1.75"/>
<line x1="1223.06" y1="445.70" x2="1223.06" y2="456.50" stroke="#000" stroke-width="1.75"/>
<line x1="1376.42" y1="730.00" x2="1376.42" y2="719.20" stroke="#000" stroke-width="1.75"/>
<line x1="1376.42" y1="445.70" x2="1376.42" y2="456.50" stroke="#000" stroke-width="1.75"/>
<line x1="1529.78" y1="730.00" x2="1529.78" y2="719.20" stroke="#000" stroke-width="1.75"/>
<line x1="1529.78" y1="445.70" x2="1529.78" y2="456.50" stroke="#000" stroke-width="1.75"/>
<line x1="1683.14" y1="730.00" x2="1683.14" y2="719.20" stroke="#000" stroke-width="1.75"/>
<line x1="1683.14" y1="445.70" x2="1683.14" y2="456.50" stroke="#000" stroke-width="1.75"/>
<line x1="1069.70" y1="458.70" x2="1080.50" y2="458.70" stroke="#000" stroke-width="1.75"/>
<line x1="1836.50" y1="458.70" x2="1825.70" y2="458.70" stroke="#000" stroke-width="1.75"/>
<line x1="1069.70" y1="588.00" x2="1080.50" y2="588.00" stroke="#000" stroke-width="1.75"/>
<line x1="1836.50" y1="588.00" x2="1825.70" y2="588.00" stroke="#000" stroke-width="1.75"/>
<line x1="1069.70" y1="717.20" x2="1080.50" y2="717.20" stroke="#000" stroke-width="1.75"/>
<line x1="1836.50" y1="717.20" x2="1825.70" y2="717.20" stroke="#000" stroke-width="1.75"/>
<polyline points="1069.70,458.70 1108.04,584.20 1146.38,717.20 1184.72,717.20 1223.06,717.20 1261.40,717.20 1299.74,717.20 1338.08,717.20 1376.42,717.20 1414.76,717.20 1453.10,717.20 1491.44,717.20 1529.78,717.20 1568.12,717.20 1606.46,717.20 1644.80,717.20 1683.14,717.20 1721.48,717.20 1759.82,717.20 1798.16,717.20 1836.50,717.20" fill="none" stroke="#0000ff" stroke-width="1.6" stroke-linejoin="round"/>
<rect x="1064.20" y="453.20" width="11.00" height="11.00" fill="#0000ff"/>
<rect x="1102.54" y="578.70" width="11.00" height="11.00" fill="#0000ff"/>
<rect x="1140.88" y="711.70" width="11.00" height="11.00" fill="#0000ff"/>
<rect x="1179.22" y="711.70" width="11.00" height="11.00" fill="#0000ff"/>
<rect x="1217.56" y="711.70" width="11.00" height="11.00" fill="#0000ff"/>
<rect x="1255.90" y="711.70" width="11.00" height="11.00" fill="#0000ff"/>
<rect x="1294.24" y="711.70" width="11.00" height="11.00" fill="#0000ff"/>
<rect x="1332.58" y="711.70" width="11.00" height="11.00" fill="#0000ff"/>
<rect x="1370.92" y="711.70" width="11.00" height="11.00" fill="#0000ff"/>
<rect x="1409.26" y="711.70" width="11.00" height="11.00" fill="#0000ff"/>
<rect x="1447.60" y="711.70" width="11.00" height="11.00" fill="#0000ff"/>
<rect x="1485.94" y="711.70" width="11.00" height="11.00" fill="#0000ff"/>
<rect x="1524.28" y="711.70" width="11.00" height="11.00" fill="#0000ff"/>
<rect x="1562.62" y="711.70" width="11.00" height="11.00" fill="#0000ff"/>
<rect x="1600.96" y="711.70" width="11.00" height="11.00" fill="#0000ff"/>
<rect x="1639.30" y="711.70" width="11.00" height="11.00" fill="#0000ff"/>
<rect x="1677.64" y="711.70" width="11.00" height="11.00" fill="#0000ff"/>
<rect x="1715.98" y="711.70" width="11.00" height="11.00" fill="#0000ff"/>
<rect x="1754.32" y="711.70" width="11.00" height="11.00" fill="#0000ff"/>
<rect x="1792.66" y="711.70" width="11.00" height="11.00" fill="#0000ff"/>
<rect x="1831.00" y="711.70" width="11.00" height="11.00" fill="#0000ff"/>
<polyline points="1069.70,458.70 1108.04,584.20 1146.38,717.20 1184.72,717.20 1223.06,717.20 1261.40,717.20 1299.74,716.30 1338.08,716.80 1376.42,717.20 1414.76,717.20 1453.10,716.60 1491.44,717.20 1529.78,717.20 1568.12,716.50 1606.46,717.20 1644.80,717.20 1683.14,717.20 1721.48,716.60 1759.82,717.20 1798.16,717.20 1836.50,716.50" fill="none" stroke="#ff00ff" stroke-width="1.6" stroke-linejoin="round"/>
<circle cx="1069.70" cy="458.70" r="6.1" fill="#ff00ff"/>
<circle cx="1108.04" cy="584.20" r="6.1" fill="#ff00ff"/>
<circle cx="1146.38" cy="717.20" r="6.1" fill="#ff00ff"/>
<circle cx="1184.72" cy="717.20" r="6.1" fill="#ff00ff"/>
<circle cx="1223.06" cy="717.20" r="6.1" fill="#ff00ff"/>
<circle cx="1261.40" cy="717.20" r="6.1" fill="#ff00ff"/>
<circle cx="1299.74" cy="716.30" r="6.1" fill="#ff00ff"/>
<circle cx="1338.08" cy="716.80" r="6.1" fill="#ff00ff"/>
<circle cx="1376.42" cy="717.20" r="6.1" fill="#ff00ff"/>
<circle cx="1414.76" cy="717.20" r="6.1" fill="#ff00ff"/>
<circle cx="1453.10" cy="716.60" r="6.1" fill="#ff00ff"/>
<circle cx="1491.44" cy="717.20" r="6.1" fill="#ff00ff"/>
<circle cx="1529.78" cy="717.20" r="6.1" fill="#ff00ff"/>
<circle cx="1568.12" cy="716.50" r="6.1" fill="#ff00ff"/>
<circle cx="1606.46" cy="717.20" r="6.1" fill="#ff00ff"/>
<circle cx="1644.80" cy="717.20" r="6.1" fill="#ff00ff"/>
<circle cx="1683.14" cy="717.20" r="6.1" fill="#ff00ff"/>
<circle cx="1721.48" cy="716.60" r="6.1" fill="#ff00ff"/>
<circle cx="1759.82" cy="717.20" r="6.1" fill="#ff00ff"/>
<circle cx="1798.16" cy="717.20" r="6.1" fill="#ff00ff"/>
<circle cx="1836.50" cy="716.50" r="6.1" fill="#ff00ff"/>
<polyline points="1069.70,458.70 1108.04,578.90 1146.38,705.70 1184.72,712.70 1223.06,714.20 1261.40,714.20 1299.74,713.80 1338.08,713.00 1376.42,713.80 1414.76,714.50 1453.10,712.50 1491.44,714.00 1529.78,714.80 1568.12,713.80 1606.46,714.50 1644.80,713.00 1683.14,714.50 1721.48,714.50 1759.82,714.50 1798.16,714.00 1836.50,713.50" fill="none" stroke="#ff4500" stroke-width="1.6" stroke-linejoin="round"/>
<polygon points="1069.70,450.40 1077.90,462.90 1061.50,462.90" fill="#ff4500"/>
<polygon points="1108.04,570.60 1116.24,583.10 1099.84,583.10" fill="#ff4500"/>
<polygon points="1146.38,697.40 1154.58,709.90 1138.18,709.90" fill="#ff4500"/>
<polygon points="1184.72,704.40 1192.92,716.90 1176.52,716.90" fill="#ff4500"/>
<polygon points="1223.06,705.90 1231.26,718.40 1214.86,718.40" fill="#ff4500"/>
<polygon points="1261.40,705.90 1269.60,718.40 1253.20,718.40" fill="#ff4500"/>
<polygon points="1299.74,705.50 1307.94,718.00 1291.54,718.00" fill="#ff4500"/>
<polygon points="1338.08,704.70 1346.28,717.20 1329.88,717.20" fill="#ff4500"/>
<polygon points="1376.42,705.50 1384.62,718.00 1368.22,718.00" fill="#ff4500"/>
<polygon points="1414.76,706.20 1422.96,718.70 1406.56,718.70" fill="#ff4500"/>
<polygon points="1453.10,704.20 1461.30,716.70 1444.90,716.70" fill="#ff4500"/>
<polygon points="1491.44,705.70 1499.64,718.20 1483.24,718.20" fill="#ff4500"/>
<polygon points="1529.78,706.50 1537.98,719.00 1521.58,719.00" fill="#ff4500"/>
<polygon points="1568.12,705.50 1576.32,718.00 1559.92,718.00" fill="#ff4500"/>
<polygon points="1606.46,706.20 1614.66,718.70 1598.26,718.70" fill="#ff4500"/>
<polygon points="1644.80,704.70 1653.00,717.20 1636.60,717.20" fill="#ff4500"/>
<polygon points="1683.14,706.20 1691.34,718.70 1674.94,718.70" fill="#ff4500"/>
<polygon points="1721.48,706.20 1729.68,718.70 1713.28,718.70" fill="#ff4500"/>
<polygon points="1759.82,706.20 1768.02,718.70 1751.62,718.70" fill="#ff4500"/>
<polygon points="1798.16,705.70 1806.36,718.20 1789.96,718.20" fill="#ff4500"/>
<polygon points="1836.50,705.20 1844.70,717.70 1828.30,717.70" fill="#ff4500"/>
<polyline points="1069.70,470.10 1108.04,574.40 1146.38,683.40 1184.72,707.20 1223.06,709.60 1261.40,711.70 1299.74,711.20 1338.08,713.40 1376.42,712.70 1414.76,710.60 1453.10,713.40 1491.44,712.80 1529.78,713.00 1568.12,713.20 1606.46,712.50 1644.80,710.00 1683.14,713.40 1721.48,713.40 1759.82,713.40 1798.16,711.50 1836.50,711.00" fill="none" stroke="#808080" stroke-width="1.6" stroke-linejoin="round"/>
<polygon points="1069.70,462.00 1077.50,470.10 1069.70,478.20 1061.90,470.10" fill="#808080"/>
<polygon points="1108.04,566.30 1115.84,574.40 1108.04,582.50 1100.24,574.40" fill="#808080"/>
<polygon points="1146.38,675.30 1154.18,683.40 1146.38,691.50 1138.58,683.40" fill="#808080"/>
<polygon points="1184.72,699.10 1192.52,707.20 1184.72,715.30 1176.92,707.20" fill="#808080"/>
<polygon points="1223.06,701.50 1230.86,709.60 1223.06,717.70 1215.26,709.60" fill="#808080"/>
<polygon points="1261.40,703.60 1269.20,711.70 1261.40,719.80 1253.60,711.70" fill="#808080"/>
<polygon points="1299.74,703.10 1307.54,711.20 1299.74,719.30 1291.94,711.20" fill="#808080"/>
<polygon points="1338.08,705.30 1345.88,713.40 1338.08,721.50 1330.28,713.40" fill="#808080"/>
<polygon points="1376.42,704.60 1384.22,712.70 1376.42,720.80 1368.62,712.70" fill="#808080"/>
<polygon points="1414.76,702.50 1422.56,710.60 1414.76,718.70 1406.96,710.60" fill="#808080"/>
<polygon points="1453.10,705.30 1460.90,713.40 1453.10,721.50 1445.30,713.40" fill="#808080"/>
<polygon points="1491.44,704.70 1499.24,712.80 1491.44,720.90 1483.64,712.80" fill="#808080"/>
<polygon points="1529.78,704.90 1537.58,713.00 1529.78,721.10 1521.98,713.00" fill="#808080"/>
<polygon points="1568.12,705.10 1575.92,713.20 1568.12,721.30 1560.32,713.20" fill="#808080"/>
<polygon points="1606.46,704.40 1614.26,712.50 1606.46,720.60 1598.66,712.50" fill="#808080"/>
<polygon points="1644.80,701.90 1652.60,710.00 1644.80,718.10 1637.00,710.00" fill="#808080"/>
<polygon points="1683.14,705.30 1690.94,713.40 1683.14,721.50 1675.34,713.40" fill="#808080"/>
<polygon points="1721.48,705.30 1729.28,713.40 1721.48,721.50 1713.68,713.40" fill="#808080"/>
<polygon points="1759.82,705.30 1767.62,713.40 1759.82,721.50 1752.02,713.40" fill="#808080"/>
<polygon points="1798.16,703.40 1805.96,711.50 1798.16,719.60 1790.36,711.50" fill="#808080"/>
<polygon points="1836.50,702.90 1844.30,711.00 1836.50,719.10 1828.70,711.00" fill="#808080"/>
<rect x="1069.70" y="445.70" width="766.80" height="284.30" fill="none" stroke="#000" stroke-width="1.75"/>
<text x="1047.00" y="471.70" font-size="38.5" text-anchor="end">1.0</text>
<text x="1047.00" y="601.00" font-size="38.5" text-anchor="end">0.5</text>
<text x="1047.00" y="730.20" font-size="38.5" text-anchor="end">0.0</text>
<text x="1070.10" y="780.80" font-size="38.5" text-anchor="middle">0</text>
<text x="1223.46" y="780.80" font-size="38.5" text-anchor="middle">2</text>
<text x="1376.82" y="780.80" font-size="38.5" text-anchor="middle">4</text>
<text x="1530.18" y="780.80" font-size="38.5" text-anchor="middle">6</text>
<text x="1683.54" y="780.80" font-size="38.5" text-anchor="middle">8</text>
<text x="1836.90" y="780.80" font-size="38.5" text-anchor="middle">10</text>
<text x="1453.30" y="838.10" font-size="38.1" text-anchor="middle">Time (s)</text>
<text x="1888.00" y="586.50" font-size="37.3" text-anchor="middle" transform="rotate(-90 1888.00 586.50)"># loops of length 2</text>
<rect x="148.40" y="905.10" width="372.40" height="372.30" fill="#b1cde6"/>
<line x1="335.20" y1="905.10" x2="335.20" y2="914.82" stroke="#000" stroke-width="1.7"/>
<line x1="335.20" y1="1277.40" x2="335.20" y2="1267.68" stroke="#000" stroke-width="1.7"/>
<line x1="148.40" y1="1090.35" x2="158.12" y2="1090.35" stroke="#000" stroke-width="1.7"/>
<line x1="520.80" y1="1090.35" x2="511.08" y2="1090.35" stroke="#000" stroke-width="1.7"/>
<rect x="148.40" y="905.10" width="372.40" height="372.30" fill="none" stroke="#000" stroke-width="1.6"/>
<text transform="translate(260.20 882.30) scale(1.2 1)" font-size="37.8">σ</text>
<text x="284.08" y="893.64" font-size="29.48">g</text>
<text x="308.70" y="884.90" font-size="37.8">=</text>
<text x="403.00" y="882.30" font-size="37.8" text-anchor="end">0.05</text>
<text x="131.50" y="1328.10" font-size="35.6" text-anchor="middle">1</text>
<text x="319.90" y="1328.10" font-size="35.6" text-anchor="middle">100</text>
<text x="504.00" y="1328.10" font-size="35.6" text-anchor="middle">200</text>
<text x="334.50" y="1382.5" font-size="34.4" text-anchor="middle"># Presynaptic neuron <tspan font-style="italic" dx="-2.6">j</tspan></text>
<rect x="554.20" y="905.10" width="373.80" height="372.30" fill="#b1cde6"/>
<clipPath id="h1c"><rect x="554.20" y="905.10" width="373.80" height="372.30"/></clipPath>
<g clip-path="url(#h1c)">
<rect x="554.20" y="1076.28" width="373.80" height="1.87" fill="#74a9cf" opacity="0.75"/>
<rect x="554.20" y="1020.16" width="373.80" height="1.87" fill="#74a9cf" opacity="0.75"/>
<rect x="554.20" y="977.13" width="373.80" height="1.87" fill="#74a9cf" opacity="0.75"/>
<rect x="554.20" y="937.84" width="373.80" height="1.87" fill="#74a9cf" opacity="0.75"/>
<rect x="554.20" y="924.74" width="373.80" height="1.87" fill="#74a9cf" opacity="0.75"/>
<rect x="554.20" y="917.26" width="373.80" height="3.74" fill="#74a9cf" opacity="0.75"/>
<defs>
<path id="h1p0" d="M553.3 0h3.8v1h-3.8zM558.9 0h1.9v1h-1.9zM575.8 0h1.9v1h-1.9zM579.6 0h7.5v1h-7.5zM589.0 0h3.8v1h-3.8zM596.5 0h5.6v1h-5.6zM605.9 0h18.8v1h-18.8zM628.4 0h3.8v1h-3.8zM634.0 0h1.9v1h-1.9zM637.8 0h3.8v1h-3.8zM643.4 0h3.8v1h-3.8zM649.1 0h7.5v1h-7.5zM658.5 0h3.8v1h-3.8zM664.1 0h7.5v1h-7.5zM673.5 0h20.7v1h-20.7zM696.0 0h11.3v1h-11.3zM709.2 0h1.9v1h-1.9zM714.8 0h9.4v1h-9.4zM726.1 0h7.5v1h-7.5zM735.5 0h7.5v1h-7.5zM744.9 0h1.9v1h-1.9zM748.6 0h7.5v1h-7.5zM758.0 0h3.8v1h-3.8zM763.6 0h16.9v1h-16.9zM782.4 0h45.1v1h-45.1zM829.4 0h22.5v1h-22.5zM853.8 0h9.4v1h-9.4zM865.1 0h1.9v1h-1.9zM868.8 0h5.6v1h-5.6zM876.3 0h13.1v1h-13.1zM891.4 0h7.5v1h-7.5zM900.8 0h3.8v1h-3.8zM906.4 0h11.3v1h-11.3zM921.4 0h7.5v1h-7.5z"/>
<path id="h1p1" d="M581.4 0h1.9v1h-1.9zM590.8 0h1.9v1h-1.9zM596.5 0h1.9v1h-1.9zM605.9 0h3.8v1h-3.8zM611.5 0h1.9v1h-1.9zM615.2 0h1.9v1h-1.9zM620.9 0h3.8v1h-3.8zM650.9 0h5.6v1h-5.6zM667.8 0h1.9v1h-1.9zM673.5 0h1.9v1h-1.9zM677.2 0h1.9v1h-1.9zM681.0 0h1.9v1h-1.9zM690.4 0h3.8v1h-3.8zM699.8 0h1.9v1h-1.9zM716.7 0h1.9v1h-1.9zM726.1 0h1.9v1h-1.9zM731.7 0h1.9v1h-1.9zM737.3 0h1.9v1h-1.9zM750.5 0h1.9v1h-1.9zM754.2 0h1.9v1h-1.9zM758.0 0h3.8v1h-3.8zM763.6 0h3.8v1h-3.8zM769.3 0h1.9v1h-1.9zM774.9 0h1.9v1h-1.9zM786.2 0h1.9v1h-1.9zM795.6 0h1.9v1h-1.9zM805.0 0h3.8v1h-3.8zM810.6 0h1.9v1h-1.9zM814.4 0h5.6v1h-5.6zM825.6 0h1.9v1h-1.9zM836.9 0h1.9v1h-1.9zM844.4 0h7.5v1h-7.5zM853.8 0h1.9v1h-1.9zM857.6 0h3.8v1h-3.8zM865.1 0h1.9v1h-1.9zM872.6 0h1.9v1h-1.9zM876.3 0h1.9v1h-1.9zM883.9 0h3.8v1h-3.8zM891.4 0h3.8v1h-3.8zM897.0 0h1.9v1h-1.9zM902.6 0h1.9v1h-1.9zM906.4 0h1.9v1h-1.9zM912.0 0h5.6v1h-5.6zM925.2 0h3.8v1h-3.8z"/>
<path id="h1p2" d="M716.7 0h1.9v1h-1.9zM726.1 0h1.9v1h-1.9zM754.2 0h1.9v1h-1.9zM758.0 0h1.9v1h-1.9zM769.3 0h1.9v1h-1.9zM774.9 0h1.9v1h-1.9zM786.2 0h1.9v1h-1.9zM795.6 0h1.9v1h-1.9zM806.8 0h1.9v1h-1.9zM810.6 0h1.9v1h-1.9zM818.1 0h1.9v1h-1.9zM844.4 0h1.9v1h-1.9zM853.8 0h1.9v1h-1.9zM865.1 0h1.9v1h-1.9zM876.3 0h1.9v1h-1.9zM891.4 0h3.8v1h-3.8zM897.0 0h1.9v1h-1.9zM906.4 0h1.9v1h-1.9zM912.0 0h5.6v1h-5.6zM925.2 0h3.8v1h-3.8z"/>
<path id="h1p3" d="M716.7 0h1.9v1h-1.9zM726.1 0h1.9v1h-1.9zM754.2 0h1.9v1h-1.9zM758.0 0h1.9v1h-1.9zM769.3 0h1.9v1h-1.9zM774.9 0h1.9v1h-1.9zM786.2 0h1.9v1h-1.9zM795.6 0h1.9v1h-1.9zM806.8 0h1.9v1h-1.9zM810.6 0h1.9v1h-1.9zM818.1 0h1.9v1h-1.9zM844.4 0h1.9v1h-1.9zM853.8 0h1.9v1h-1.9zM865.1 0h1.9v1h-1.9zM876.3 0h1.9v1h-1.9zM891.4 0h3.8v1h-3.8zM897.0 0h1.9v1h-1.9zM906.4 0h1.9v1h-1.9zM912.0 0h5.6v1h-5.6zM925.2 0h3.8v1h-3.8z"/>
<path id="h1p4" d="M726.1 0h1.9v1h-1.9zM769.3 0h1.9v1h-1.9zM853.8 0h1.9v1h-1.9zM876.3 0h1.9v1h-1.9zM897.0 0h1.9v1h-1.9zM912.0 0h5.6v1h-5.6zM925.2 0h3.8v1h-3.8z"/>
<path id="h1p5" d=""/>
</defs>
<g fill="#e31a1c">
<use href="#h1p1" transform="translate(0 1274.39) scale(1 4.14)"/>
<use href="#h1p0" transform="translate(0 1272.52) scale(1 2.27)"/>
<use href="#h1p1" transform="translate(0 1270.65) scale(1 2.27)"/>
<use href="#h1p0" transform="translate(0 1255.69) scale(1 15.37)"/>
<use href="#h1p1" transform="translate(0 1253.81) scale(1 2.27)"/>
<use href="#h1p0" transform="translate(0 1251.94) scale(1 2.27)"/>
<use href="#h1p1" transform="translate(0 1250.07) scale(1 2.27)"/>
<use href="#h1p3" transform="translate(0 1248.20) scale(1 2.27)"/>
<use href="#h1p1" transform="translate(0 1244.46) scale(1 4.14)"/>
<use href="#h1p0" transform="translate(0 1242.59) scale(1 2.27)"/>
<use href="#h1p1" transform="translate(0 1240.72) scale(1 2.27)"/>
<use href="#h1p3" transform="translate(0 1238.85) scale(1 2.27)"/>
<use href="#h1p0" transform="translate(0 1235.11) scale(1 4.14)"/>
<use href="#h1p3" transform="translate(0 1233.23) scale(1 2.27)"/>
<use href="#h1p1" transform="translate(0 1229.49) scale(1 4.14)"/>
<use href="#h1p0" transform="translate(0 1225.75) scale(1 4.14)"/>
<use href="#h1p3" transform="translate(0 1222.01) scale(1 4.14)"/>
<use href="#h1p1" transform="translate(0 1220.14) scale(1 2.27)"/>
<use href="#h1p3" transform="translate(0 1218.27) scale(1 2.27)"/>
<use href="#h1p1" transform="translate(0 1216.40) scale(1 2.27)"/>
<use href="#h1p3" transform="translate(0 1214.53) scale(1 2.27)"/>
<use href="#h1p1" transform="translate(0 1210.78) scale(1 4.14)"/>
<use href="#h1p3" transform="translate(0 1207.04) scale(1 4.14)"/>
<use href="#h1p0" transform="translate(0 1203.30) scale(1 4.14)"/>
<use href="#h1p1" transform="translate(0 1199.56) scale(1 4.14)"/>
<use href="#h1p0" transform="translate(0 1197.69) scale(1 2.27)"/>
<use href="#h1p1" transform="translate(0 1195.82) scale(1 2.27)"/>
<use href="#h1p0" transform="translate(0 1193.95) scale(1 2.27)"/>
<use href="#h1p1" transform="translate(0 1190.21) scale(1 4.14)"/>
<use href="#h1p0" transform="translate(0 1188.33) scale(1 2.27)"/>
<use href="#h1p1" transform="translate(0 1184.59) scale(1 4.14)"/>
<use href="#h1p0" transform="translate(0 1182.72) scale(1 2.27)"/>
<use href="#h1p1" transform="translate(0 1180.85) scale(1 2.27)"/>
<use href="#h1p3" transform="translate(0 1175.24) scale(1 6.01)"/>
<use href="#h1p0" transform="translate(0 1173.37) scale(1 2.27)"/>
<use href="#h1p1" transform="translate(0 1169.63) scale(1 4.14)"/>
<use href="#h1p0" transform="translate(0 1167.76) scale(1 2.27)"/>
<use href="#h1p1" transform="translate(0 1164.01) scale(1 4.14)"/>
<use href="#h1p3" transform="translate(0 1162.14) scale(1 2.27)"/>
<use href="#h1p1" transform="translate(0 1160.27) scale(1 2.27)"/>
<use href="#h1p0" transform="translate(0 1158.40) scale(1 2.27)"/>
<use href="#h1p3" transform="translate(0 1156.53) scale(1 2.27)"/>
<use href="#h1p1" transform="translate(0 1154.66) scale(1 2.27)"/>
<use href="#h1p3" transform="translate(0 1152.79) scale(1 2.27)"/>
<use href="#h1p1" transform="translate(0 1150.92) scale(1 2.27)"/>
<use href="#h1p3" transform="translate(0 1149.05) scale(1 2.27)"/>
<use href="#h1p1" transform="translate(0 1141.56) scale(1 7.88)"/>
<use href="#h1p3" transform="translate(0 1137.82) scale(1 4.14)"/>
<use href="#h1p0" transform="translate(0 1135.95) scale(1 2.27)"/>
<use href="#h1p1" transform="translate(0 1132.21) scale(1 4.14)"/>
<use href="#h1p3" transform="translate(0 1130.34) scale(1 2.27)"/>
<use href="#h1p1" transform="translate(0 1124.73) scale(1 6.01)"/>
<use href="#h1p0" transform="translate(0 1122.85) scale(1 2.27)"/>
<use href="#h1p1" transform="translate(0 1120.98) scale(1 2.27)"/>
<use href="#h1p0" transform="translate(0 1117.24) scale(1 4.14)"/>
<use href="#h1p1" transform="translate(0 1115.37) scale(1 2.27)"/>
<use href="#h1p4" transform="translate(0 1113.50) scale(1 2.27)"/>
<use href="#h1p2" transform="translate(0 1111.63) scale(1 2.27)"/>
<use href="#h1p1" transform="translate(0 1107.89) scale(1 4.14)"/>
<use href="#h1p0" transform="translate(0 1106.02) scale(1 2.27)"/>
<use href="#h1p1" transform="translate(0 1100.40) scale(1 4.14)"/>
<use href="#h1p3" transform="translate(0 1098.53) scale(1 2.27)"/>
<use href="#h1p0" transform="translate(0 1096.66) scale(1 2.27)"/>
<use href="#h1p1" transform="translate(0 1094.79) scale(1 2.27)"/>
<use href="#h1p3" transform="translate(0 1092.92) scale(1 2.27)"/>
<use href="#h1p1" transform="translate(0 1089.18) scale(1 4.14)"/>
<use href="#h1p0" transform="translate(0 1087.31) scale(1 2.27)"/>
<use href="#h1p1" transform="translate(0 1085.44) scale(1 2.27)"/>
<use href="#h1p0" transform="translate(0 1083.57) scale(1 2.27)"/>
<use href="#h1p1" transform="translate(0 1081.70) scale(1 2.27)"/>
<use href="#h1p3" transform="translate(0 1079.82) scale(1 2.27)"/>
<use href="#h1p2" transform="translate(0 1077.95) scale(1 2.27)"/>
<use href="#h1p4" transform="translate(0 1076.08) scale(1 2.27)"/>
<use href="#h1p0" transform="translate(0 1074.21) scale(1 2.27)"/>
<use href="#h1p4" transform="translate(0 1072.34) scale(1 2.27)"/>
<use href="#h1p3" transform="translate(0 1070.47) scale(1 2.27)"/>
<use href="#h1p0" transform="translate(0 1068.60) scale(1 2.27)"/>
<use href="#h1p3" transform="translate(0 1064.86) scale(1 4.14)"/>
<use href="#h1p2" transform="translate(0 1062.99) scale(1 2.27)"/>
<use href="#h1p2" transform="translate(0 1057.37) scale(1 4.14)"/>
<use href="#h1p4" transform="translate(0 1055.50) scale(1 2.27)"/>
<use href="#h1p1" transform="translate(0 1051.76) scale(1 4.14)"/>
<use href="#h1p0" transform="translate(0 1049.89) scale(1 2.27)"/>
<use href="#h1p1" transform="translate(0 1046.15) scale(1 4.14)"/>
<use href="#h1p4" transform="translate(0 1044.28) scale(1 2.27)"/>
<use href="#h1p1" transform="translate(0 1036.80) scale(1 7.88)"/>
<use href="#h1p4" transform="translate(0 1034.92) scale(1 2.27)"/>
<use href="#h1p1" transform="translate(0 1027.44) scale(1 7.88)"/>
<use href="#h1p3" transform="translate(0 1025.57) scale(1 2.27)"/>
<use href="#h1p4" transform="translate(0 1023.70) scale(1 2.27)"/>
<use href="#h1p2" transform="translate(0 1021.83) scale(1 2.27)"/>
<use href="#h1p4" transform="translate(0 1019.96) scale(1 2.27)"/>
<use href="#h1p2" transform="translate(0 1018.09) scale(1 2.27)"/>
<use href="#h1p3" transform="translate(0 1014.34) scale(1 4.14)"/>
<use href="#h1p4" transform="translate(0 1012.47) scale(1 2.27)"/>
<use href="#h1p1" transform="translate(0 1006.86) scale(1 6.01)"/>
<use href="#h1p3" transform="translate(0 1004.99) scale(1 2.27)"/>
<use href="#h1p0" transform="translate(0 1003.12) scale(1 2.27)"/>
<use href="#h1p2" transform="translate(0 997.51) scale(1 6.01)"/>
<use href="#h1p1" transform="translate(0 995.64) scale(1 2.27)"/>
<use href="#h1p3" transform="translate(0 993.77) scale(1 2.27)"/>
<use href="#h1p1" transform="translate(0 988.15) scale(1 6.01)"/>
<use href="#h1p4" transform="translate(0 986.28) scale(1 2.27)"/>
<use href="#h1p3" transform="translate(0 980.67) scale(1 6.01)"/>
<use href="#h1p0" transform="translate(0 978.80) scale(1 2.27)"/>
<use href="#h1p2" transform="translate(0 975.06) scale(1 2.27)"/>
<use href="#h1p3" transform="translate(0 971.32) scale(1 4.14)"/>
<use href="#h1p2" transform="translate(0 969.44) scale(1 2.27)"/>
<use href="#h1p0" transform="translate(0 967.57) scale(1 2.27)"/>
<use href="#h1p4" transform="translate(0 965.70) scale(1 2.27)"/>
<use href="#h1p0" transform="translate(0 963.83) scale(1 2.27)"/>
<use href="#h1p1" transform="translate(0 960.09) scale(1 4.14)"/>
<use href="#h1p3" transform="translate(0 958.22) scale(1 2.27)"/>
<use href="#h1p0" transform="translate(0 956.35) scale(1 2.27)"/>
<use href="#h1p2" transform="translate(0 952.61) scale(1 2.27)"/>
<use href="#h1p1" transform="translate(0 948.87) scale(1 4.14)"/>
<use href="#h1p3" transform="translate(0 945.12) scale(1 4.14)"/>
<use href="#h1p2" transform="translate(0 943.25) scale(1 2.27)"/>
<use href="#h1p0" transform="translate(0 941.38) scale(1 2.27)"/>
<use href="#h1p4" transform="translate(0 937.64) scale(1 4.14)"/>
<use href="#h1p2" transform="translate(0 935.77) scale(1 2.27)"/>
<use href="#h1p0" transform="translate(0 932.03) scale(1 2.27)"/>
<use href="#h1p2" transform="translate(0 930.16) scale(1 2.27)"/>
<use href="#h1p3" transform="translate(0 928.29) scale(1 2.27)"/>
<use href="#h1p0" transform="translate(0 926.41) scale(1 2.27)"/>
<use href="#h1p4" transform="translate(0 924.54) scale(1 2.27)"/>
<use href="#h1p2" transform="translate(0 920.80) scale(1 4.14)"/>
<use href="#h1p0" transform="translate(0 911.45) scale(1 4.14)"/>
<use href="#h1p1" transform="translate(0 907.71) scale(1 4.14)"/>
</g>
<rect x="853.80" y="905.10" width="1.88" height="372.30" fill="#fff" opacity="0.16"/>
<rect x="912.03" y="905.10" width="1.88" height="372.30" fill="#fff" opacity="0.16"/>
<rect x="913.91" y="905.10" width="1.88" height="372.30" fill="#fff" opacity="0.16"/>
<rect x="915.79" y="905.10" width="1.88" height="372.30" fill="#fff" opacity="0.16"/>
<path fill="#5b9bc9" d="M699.8 1156.7h1.9v1.9h-1.9zM900.8 1033.3h1.9v1.9h-1.9zM765.5 1037.0h1.9v1.9h-1.9zM891.4 1035.1h1.9v1.9h-1.9zM716.7 1153.0h1.9v1.9h-1.9zM882.0 1074.4h1.9v1.9h-1.9zM774.9 1059.4h1.9v1.9h-1.9zM912.0 1113.7h1.9v1.9h-1.9zM913.9 936.0h1.9v1.9h-1.9zM709.2 941.6h1.9v1.9h-1.9zM895.1 1269.0h1.9v1.9h-1.9zM666.0 1205.4h1.9v1.9h-1.9zM590.8 1037.0h1.9v1.9h-1.9zM641.5 1205.4h1.9v1.9h-1.9zM816.2 1048.2h1.9v1.9h-1.9zM786.2 1053.8h1.9v1.9h-1.9zM666.0 1087.5h1.9v1.9h-1.9zM613.4 1188.5h1.9v1.9h-1.9zM910.2 1182.9h1.9v1.9h-1.9zM870.7 1136.2h1.9v1.9h-1.9zM895.1 1203.5h1.9v1.9h-1.9zM737.3 909.8h1.9v1.9h-1.9zM630.3 1242.8h1.9v1.9h-1.9zM825.6 1108.1h1.9v1.9h-1.9zM619.0 1158.6h1.9v1.9h-1.9zM605.9 1078.2h1.9v1.9h-1.9zM743.0 1123.1h1.9v1.9h-1.9zM669.7 1227.8h1.9v1.9h-1.9zM876.3 930.4h1.9v1.9h-1.9zM716.7 1239.0h1.9v1.9h-1.9zM821.9 1083.8h1.9v1.9h-1.9zM786.2 1005.2h1.9v1.9h-1.9zM650.9 1184.8h1.9v1.9h-1.9zM649.1 926.6h1.9v1.9h-1.9zM748.6 932.2h1.9v1.9h-1.9zM857.6 909.8h1.9v1.9h-1.9zM895.1 1158.6h1.9v1.9h-1.9zM771.2 988.4h1.9v1.9h-1.9zM883.9 1001.4h1.9v1.9h-1.9zM669.7 1242.8h1.9v1.9h-1.9zM622.8 1052.0h1.9v1.9h-1.9zM831.3 979.0h1.9v1.9h-1.9zM679.1 1203.5h1.9v1.9h-1.9zM853.8 1100.6h1.9v1.9h-1.9zM684.7 1087.5h1.9v1.9h-1.9zM808.7 1201.6h1.9v1.9h-1.9zM605.9 1145.5h1.9v1.9h-1.9zM778.7 1119.3h1.9v1.9h-1.9zM865.1 1254.0h1.9v1.9h-1.9zM619.0 1083.8h1.9v1.9h-1.9zM677.2 1115.6h1.9v1.9h-1.9zM602.1 965.9h1.9v1.9h-1.9zM908.3 1205.4h1.9v1.9h-1.9zM620.9 1239.0h1.9v1.9h-1.9zM729.8 1194.1h1.9v1.9h-1.9zM553.3 1037.0h1.9v1.9h-1.9zM690.4 1031.4h1.9v1.9h-1.9zM583.3 956.5h1.9v1.9h-1.9zM771.2 1250.3h1.9v1.9h-1.9zM731.7 1121.2h1.9v1.9h-1.9zM682.9 1117.4h1.9v1.9h-1.9zM848.2 1050.1h1.9v1.9h-1.9zM684.7 1272.7h1.9v1.9h-1.9zM626.5 1257.8h1.9v1.9h-1.9zM855.7 1115.6h1.9v1.9h-1.9zM778.7 967.8h1.9v1.9h-1.9zM705.4 1276.5h1.9v1.9h-1.9zM870.7 1272.7h1.9v1.9h-1.9zM611.5 960.3h1.9v1.9h-1.9zM620.9 1037.0h1.9v1.9h-1.9zM868.8 1226.0h1.9v1.9h-1.9zM585.2 939.7h1.9v1.9h-1.9zM590.8 1229.7h1.9v1.9h-1.9zM805.0 1239.0h1.9v1.9h-1.9zM867.0 1267.1h1.9v1.9h-1.9zM902.6 949.1h1.9v1.9h-1.9zM701.7 913.5h1.9v1.9h-1.9zM795.6 1156.7h1.9v1.9h-1.9zM752.4 1173.6h1.9v1.9h-1.9zM596.5 1040.7h1.9v1.9h-1.9zM773.0 1252.1h1.9v1.9h-1.9zM590.8 1100.6h1.9v1.9h-1.9zM739.2 1209.1h1.9v1.9h-1.9zM735.5 1158.6h1.9v1.9h-1.9z"/>
<path fill="#fb9a99" d="M709.2 1194.1h1.9v1.9h-1.9zM754.2 1025.8h1.9v1.9h-1.9zM611.5 1239.0h1.9v1.9h-1.9zM673.5 1031.4h1.9v1.9h-1.9zM820.0 1053.8h1.9v1.9h-1.9zM635.9 1153.0h1.9v1.9h-1.9zM806.8 1162.3h1.9v1.9h-1.9zM716.7 1070.7h1.9v1.9h-1.9zM831.3 1257.8h1.9v1.9h-1.9zM759.9 907.9h1.9v1.9h-1.9zM743.0 1050.1h1.9v1.9h-1.9zM782.4 1257.8h1.9v1.9h-1.9zM780.5 1254.0h1.9v1.9h-1.9zM774.9 1192.3h1.9v1.9h-1.9zM897.0 982.7h1.9v1.9h-1.9zM810.6 1126.8h1.9v1.9h-1.9zM859.4 1143.6h1.9v1.9h-1.9zM844.4 1151.1h1.9v1.9h-1.9zM776.8 1117.4h1.9v1.9h-1.9zM774.9 1239.0h1.9v1.9h-1.9zM782.4 1263.4h1.9v1.9h-1.9zM684.7 1040.7h1.9v1.9h-1.9zM838.8 979.0h1.9v1.9h-1.9zM868.8 1023.9h1.9v1.9h-1.9zM915.8 952.8h1.9v1.9h-1.9zM878.2 1151.1h1.9v1.9h-1.9zM872.6 1070.7h1.9v1.9h-1.9zM598.3 1188.5h1.9v1.9h-1.9zM773.0 1211.0h1.9v1.9h-1.9zM806.8 980.9h1.9v1.9h-1.9zM624.6 1188.5h1.9v1.9h-1.9zM803.1 1261.5h1.9v1.9h-1.9zM673.5 945.3h1.9v1.9h-1.9zM816.2 1270.9h1.9v1.9h-1.9zM748.6 1124.9h1.9v1.9h-1.9zM902.6 1048.2h1.9v1.9h-1.9zM891.4 1134.3h1.9v1.9h-1.9zM902.6 1240.9h1.9v1.9h-1.9zM690.4 962.2h1.9v1.9h-1.9zM590.8 950.9h1.9v1.9h-1.9zM831.3 1096.9h1.9v1.9h-1.9zM590.8 1115.6h1.9v1.9h-1.9zM810.6 1091.3h1.9v1.9h-1.9zM829.4 1252.1h1.9v1.9h-1.9zM844.4 1042.6h1.9v1.9h-1.9zM821.9 1192.3h1.9v1.9h-1.9zM607.7 1111.8h1.9v1.9h-1.9zM675.4 1173.6h1.9v1.9h-1.9zM611.5 1139.9h1.9v1.9h-1.9zM622.8 1192.3h1.9v1.9h-1.9zM812.5 1173.6h1.9v1.9h-1.9zM737.3 1177.3h1.9v1.9h-1.9zM716.7 1199.8h1.9v1.9h-1.9zM731.7 1027.6h1.9v1.9h-1.9zM558.9 1171.7h1.9v1.9h-1.9zM855.7 1123.1h1.9v1.9h-1.9zM865.1 1035.1h1.9v1.9h-1.9zM697.9 1072.5h1.9v1.9h-1.9zM833.1 1132.4h1.9v1.9h-1.9zM589.0 1050.1h1.9v1.9h-1.9zM615.2 1022.0h1.9v1.9h-1.9zM613.4 967.8h1.9v1.9h-1.9zM915.8 1218.5h1.9v1.9h-1.9zM870.7 967.8h1.9v1.9h-1.9zM585.2 1083.8h1.9v1.9h-1.9zM865.1 1216.6h1.9v1.9h-1.9zM607.7 1022.0h1.9v1.9h-1.9zM784.3 1022.0h1.9v1.9h-1.9zM912.0 952.8h1.9v1.9h-1.9zM690.4 1212.9h1.9v1.9h-1.9zM711.0 1252.1h1.9v1.9h-1.9zM602.1 1188.5h1.9v1.9h-1.9zM788.1 1261.5h1.9v1.9h-1.9zM846.3 1269.0h1.9v1.9h-1.9zM823.7 1123.1h1.9v1.9h-1.9zM726.1 930.4h1.9v1.9h-1.9zM649.1 1136.2h1.9v1.9h-1.9zM761.8 1182.9h1.9v1.9h-1.9zM622.8 1014.5h1.9v1.9h-1.9zM677.2 1134.3h1.9v1.9h-1.9zM774.9 924.7h1.9v1.9h-1.9zM906.4 986.5h1.9v1.9h-1.9zM690.4 1033.3h1.9v1.9h-1.9zM733.6 913.5h1.9v1.9h-1.9zM786.2 1014.5h1.9v1.9h-1.9zM634.0 1096.9h1.9v1.9h-1.9zM836.9 1274.6h1.9v1.9h-1.9zM622.8 997.7h1.9v1.9h-1.9zM776.8 1255.9h1.9v1.9h-1.9zM767.4 1029.5h1.9v1.9h-1.9zM906.4 980.9h1.9v1.9h-1.9zM791.8 941.6h1.9v1.9h-1.9zM677.2 1151.1h1.9v1.9h-1.9zM712.9 1098.7h1.9v1.9h-1.9zM641.5 1074.4h1.9v1.9h-1.9zM553.3 969.6h1.9v1.9h-1.9zM666.0 941.6h1.9v1.9h-1.9zM609.6 1254.0h1.9v1.9h-1.9zM833.1 1186.7h1.9v1.9h-1.9zM867.0 1173.6h1.9v1.9h-1.9zM880.1 947.2h1.9v1.9h-1.9z"/>
<path fill="#1f78b4" d="M722.3 1104.3h1.9v1.9h-1.9zM701.7 926.6h1.9v1.9h-1.9zM681.0 1160.5h1.9v1.9h-1.9zM835.0 1255.9h1.9v1.9h-1.9zM893.2 1261.5h1.9v1.9h-1.9zM654.7 949.1h1.9v1.9h-1.9zM581.4 1080.0h1.9v1.9h-1.9zM602.1 1265.2h1.9v1.9h-1.9zM805.0 936.0h1.9v1.9h-1.9zM917.7 917.3h1.9v1.9h-1.9zM897.0 1065.1h1.9v1.9h-1.9zM812.5 1123.1h1.9v1.9h-1.9zM716.7 1186.7h1.9v1.9h-1.9zM743.0 1168.0h1.9v1.9h-1.9zM846.3 1154.9h1.9v1.9h-1.9zM761.8 1220.3h1.9v1.9h-1.9zM865.1 1209.1h1.9v1.9h-1.9zM855.7 1156.7h1.9v1.9h-1.9zM795.6 949.1h1.9v1.9h-1.9zM596.5 922.9h1.9v1.9h-1.9zM731.7 1190.4h1.9v1.9h-1.9zM575.8 1211.0h1.9v1.9h-1.9zM615.2 1235.3h1.9v1.9h-1.9zM681.0 1154.9h1.9v1.9h-1.9zM906.4 1171.7h1.9v1.9h-1.9zM649.1 1003.3h1.9v1.9h-1.9zM564.5 967.8h1.9v1.9h-1.9zM851.9 1074.4h1.9v1.9h-1.9zM765.5 1037.0h1.9v1.9h-1.9zM885.7 1162.3h1.9v1.9h-1.9zM912.0 1076.3h1.9v1.9h-1.9zM720.4 1173.6h1.9v1.9h-1.9zM701.7 1087.5h1.9v1.9h-1.9zM690.4 1274.6h1.9v1.9h-1.9zM575.8 1227.8h1.9v1.9h-1.9zM891.4 1147.4h1.9v1.9h-1.9zM758.0 1057.6h1.9v1.9h-1.9zM660.3 964.0h1.9v1.9h-1.9zM889.5 1081.9h1.9v1.9h-1.9zM773.0 995.8h1.9v1.9h-1.9zM641.5 1007.1h1.9v1.9h-1.9zM650.9 1022.0h1.9v1.9h-1.9zM788.1 1252.1h1.9v1.9h-1.9zM844.4 1033.3h1.9v1.9h-1.9zM767.4 1220.3h1.9v1.9h-1.9zM667.8 1048.2h1.9v1.9h-1.9zM697.9 1226.0h1.9v1.9h-1.9zM767.4 1188.5h1.9v1.9h-1.9zM752.4 1128.7h1.9v1.9h-1.9zM902.6 1091.3h1.9v1.9h-1.9zM763.6 907.9h1.9v1.9h-1.9zM898.9 1016.4h1.9v1.9h-1.9zM927.1 969.6h1.9v1.9h-1.9zM810.6 1111.8h1.9v1.9h-1.9zM835.0 941.6h1.9v1.9h-1.9zM681.0 990.2h1.9v1.9h-1.9zM821.9 1269.0h1.9v1.9h-1.9zM654.7 1199.8h1.9v1.9h-1.9zM857.6 1005.2h1.9v1.9h-1.9zM891.4 1040.7h1.9v1.9h-1.9zM615.2 1254.0h1.9v1.9h-1.9zM927.1 1224.1h1.9v1.9h-1.9zM835.0 1177.3h1.9v1.9h-1.9zM558.9 1184.8h1.9v1.9h-1.9zM795.6 995.8h1.9v1.9h-1.9zM763.6 1038.9h1.9v1.9h-1.9zM600.2 1003.3h1.9v1.9h-1.9zM844.4 1042.6h1.9v1.9h-1.9zM622.8 1211.0h1.9v1.9h-1.9zM617.1 1242.8h1.9v1.9h-1.9zM784.3 941.6h1.9v1.9h-1.9zM558.9 1068.8h1.9v1.9h-1.9zM861.3 1048.2h1.9v1.9h-1.9zM842.5 1263.4h1.9v1.9h-1.9zM791.8 945.3h1.9v1.9h-1.9zM652.8 1224.1h1.9v1.9h-1.9zM615.2 1276.5h1.9v1.9h-1.9zM590.8 1038.9h1.9v1.9h-1.9zM850.0 1038.9h1.9v1.9h-1.9zM688.5 1106.2h1.9v1.9h-1.9zM910.2 979.0h1.9v1.9h-1.9zM666.0 982.7h1.9v1.9h-1.9zM664.1 1242.8h1.9v1.9h-1.9zM855.7 1190.4h1.9v1.9h-1.9zM699.8 956.5h1.9v1.9h-1.9zM722.3 1267.1h1.9v1.9h-1.9zM857.6 1196.0h1.9v1.9h-1.9zM895.1 962.2h1.9v1.9h-1.9zM900.8 1160.5h1.9v1.9h-1.9zM767.4 926.6h1.9v1.9h-1.9zM737.3 1156.7h1.9v1.9h-1.9zM617.1 941.6h1.9v1.9h-1.9zM902.6 1027.6h1.9v1.9h-1.9zM846.3 1212.9h1.9v1.9h-1.9zM583.3 1184.8h1.9v1.9h-1.9zM889.5 906.0h1.9v1.9h-1.9zM611.5 1059.4h1.9v1.9h-1.9zM615.2 1201.6h1.9v1.9h-1.9zM889.5 969.6h1.9v1.9h-1.9zM848.2 949.1h1.9v1.9h-1.9zM913.9 1139.9h1.9v1.9h-1.9zM652.8 1087.5h1.9v1.9h-1.9zM808.7 1237.2h1.9v1.9h-1.9zM902.6 1038.9h1.9v1.9h-1.9zM921.4 932.2h1.9v1.9h-1.9zM692.3 1005.2h1.9v1.9h-1.9zM810.6 1130.5h1.9v1.9h-1.9zM645.3 1242.8h1.9v1.9h-1.9zM741.1 1259.6h1.9v1.9h-1.9z"/>
<path fill="#c9a98e" d="M774.9 1110.0h1.9v1.9h-1.9zM728.0 1269.0h1.9v1.9h-1.9zM681.0 1046.3h1.9v1.9h-1.9zM652.8 1089.4h1.9v1.9h-1.9zM850.0 1124.9h1.9v1.9h-1.9zM596.5 988.4h1.9v1.9h-1.9zM805.0 1029.5h1.9v1.9h-1.9zM925.2 1005.2h1.9v1.9h-1.9zM677.2 1108.1h1.9v1.9h-1.9zM759.9 1216.6h1.9v1.9h-1.9zM816.2 907.9h1.9v1.9h-1.9zM801.2 911.6h1.9v1.9h-1.9zM784.3 1267.1h1.9v1.9h-1.9zM716.7 1139.9h1.9v1.9h-1.9zM913.9 930.4h1.9v1.9h-1.9zM774.9 1242.8h1.9v1.9h-1.9zM682.9 1203.5h1.9v1.9h-1.9zM690.4 1220.3h1.9v1.9h-1.9zM906.4 1151.1h1.9v1.9h-1.9zM722.3 1205.4h1.9v1.9h-1.9zM744.9 1272.7h1.9v1.9h-1.9zM923.3 1235.3h1.9v1.9h-1.9zM583.3 1259.6h1.9v1.9h-1.9zM840.7 1242.8h1.9v1.9h-1.9zM912.0 921.0h1.9v1.9h-1.9zM925.2 928.5h1.9v1.9h-1.9zM883.9 1038.9h1.9v1.9h-1.9zM883.9 1037.0h1.9v1.9h-1.9zM799.3 1272.7h1.9v1.9h-1.9zM925.2 1044.5h1.9v1.9h-1.9zM797.5 1083.8h1.9v1.9h-1.9zM846.3 1040.7h1.9v1.9h-1.9zM893.2 1171.7h1.9v1.9h-1.9zM912.0 928.5h1.9v1.9h-1.9zM607.7 1108.1h1.9v1.9h-1.9zM703.5 1242.8h1.9v1.9h-1.9zM750.5 1038.9h1.9v1.9h-1.9zM600.2 926.6h1.9v1.9h-1.9zM748.6 913.5h1.9v1.9h-1.9zM611.5 1085.6h1.9v1.9h-1.9zM865.1 1130.5h1.9v1.9h-1.9zM913.9 945.3h1.9v1.9h-1.9zM771.2 1106.2h1.9v1.9h-1.9zM895.1 1117.4h1.9v1.9h-1.9zM754.2 1248.4h1.9v1.9h-1.9zM701.7 1269.0h1.9v1.9h-1.9zM797.5 1227.8h1.9v1.9h-1.9zM611.5 1053.8h1.9v1.9h-1.9zM853.8 1020.2h1.9v1.9h-1.9zM681.0 1040.7h1.9v1.9h-1.9zM872.6 1007.1h1.9v1.9h-1.9zM773.0 1242.8h1.9v1.9h-1.9z"/>
<path fill="#ee5a4a" d="M865.1 982.7h1.9v1.9h-1.9zM810.6 969.6h1.9v1.9h-1.9zM782.4 932.2h1.9v1.9h-1.9zM626.5 1018.3h1.9v1.9h-1.9zM891.4 1164.2h1.9v1.9h-1.9zM643.4 1083.8h1.9v1.9h-1.9zM701.7 964.0h1.9v1.9h-1.9zM883.9 926.6h1.9v1.9h-1.9zM791.8 1231.6h1.9v1.9h-1.9zM758.0 1214.7h1.9v1.9h-1.9zM686.6 1168.0h1.9v1.9h-1.9zM654.7 1184.8h1.9v1.9h-1.9zM613.4 950.9h1.9v1.9h-1.9zM893.2 1070.7h1.9v1.9h-1.9zM848.2 1207.2h1.9v1.9h-1.9zM795.6 984.6h1.9v1.9h-1.9zM613.4 1203.5h1.9v1.9h-1.9zM774.9 1186.7h1.9v1.9h-1.9zM705.4 926.6h1.9v1.9h-1.9zM898.9 1242.8h1.9v1.9h-1.9zM718.6 1226.0h1.9v1.9h-1.9zM667.8 1115.6h1.9v1.9h-1.9zM741.1 1194.1h1.9v1.9h-1.9zM716.7 1130.5h1.9v1.9h-1.9zM874.5 1227.8h1.9v1.9h-1.9zM630.3 1227.8h1.9v1.9h-1.9zM850.0 1149.2h1.9v1.9h-1.9zM876.3 1076.3h1.9v1.9h-1.9zM880.1 1050.1h1.9v1.9h-1.9zM823.7 1173.6h1.9v1.9h-1.9zM716.7 1196.0h1.9v1.9h-1.9zM754.2 1240.9h1.9v1.9h-1.9zM598.3 1267.1h1.9v1.9h-1.9zM857.6 977.1h1.9v1.9h-1.9zM836.9 950.9h1.9v1.9h-1.9zM598.3 1242.8h1.9v1.9h-1.9zM752.4 1182.9h1.9v1.9h-1.9zM686.6 1194.1h1.9v1.9h-1.9zM846.3 958.4h1.9v1.9h-1.9zM816.2 1115.6h1.9v1.9h-1.9zM729.8 1123.1h1.9v1.9h-1.9zM716.7 1138.0h1.9v1.9h-1.9zM729.8 1123.1h1.9v1.9h-1.9zM682.9 1244.7h1.9v1.9h-1.9zM690.4 1007.1h1.9v1.9h-1.9zM861.3 1050.1h1.9v1.9h-1.9zM716.7 1175.4h1.9v1.9h-1.9zM765.5 1010.8h1.9v1.9h-1.9zM590.8 973.4h1.9v1.9h-1.9zM724.2 1235.3h1.9v1.9h-1.9zM810.6 1040.7h1.9v1.9h-1.9zM795.6 1145.5h1.9v1.9h-1.9zM773.0 1188.5h1.9v1.9h-1.9zM795.6 1111.8h1.9v1.9h-1.9zM891.4 1130.5h1.9v1.9h-1.9zM714.8 1255.9h1.9v1.9h-1.9zM850.0 1242.8h1.9v1.9h-1.9zM673.5 1181.1h1.9v1.9h-1.9zM805.0 934.1h1.9v1.9h-1.9zM759.9 1048.2h1.9v1.9h-1.9zM720.4 1175.4h1.9v1.9h-1.9zM906.4 975.3h1.9v1.9h-1.9zM669.7 911.6h1.9v1.9h-1.9zM611.5 1151.1h1.9v1.9h-1.9zM677.2 1156.7h1.9v1.9h-1.9zM765.5 928.5h1.9v1.9h-1.9zM605.9 1031.4h1.9v1.9h-1.9zM808.7 1205.4h1.9v1.9h-1.9zM703.5 986.5h1.9v1.9h-1.9zM585.2 1257.8h1.9v1.9h-1.9zM820.0 964.0h1.9v1.9h-1.9zM784.3 1173.6h1.9v1.9h-1.9zM664.1 1267.1h1.9v1.9h-1.9zM656.6 1055.7h1.9v1.9h-1.9zM838.8 1096.9h1.9v1.9h-1.9zM808.7 1166.1h1.9v1.9h-1.9zM743.0 973.4h1.9v1.9h-1.9zM799.3 932.2h1.9v1.9h-1.9zM553.3 1197.9h1.9v1.9h-1.9zM724.2 1207.2h1.9v1.9h-1.9zM654.7 1126.8h1.9v1.9h-1.9zM838.8 1173.6h1.9v1.9h-1.9zM808.7 1087.5h1.9v1.9h-1.9zM769.3 1080.0h1.9v1.9h-1.9zM865.1 1053.8h1.9v1.9h-1.9zM795.6 1164.2h1.9v1.9h-1.9zM650.9 999.6h1.9v1.9h-1.9zM810.6 928.5h1.9v1.9h-1.9zM818.1 1059.4h1.9v1.9h-1.9zM650.9 960.3h1.9v1.9h-1.9zM910.2 1269.0h1.9v1.9h-1.9zM818.1 1132.4h1.9v1.9h-1.9zM577.7 911.6h1.9v1.9h-1.9zM667.8 1270.9h1.9v1.9h-1.9zM876.3 975.3h1.9v1.9h-1.9zM840.7 956.5h1.9v1.9h-1.9zM673.5 1192.3h1.9v1.9h-1.9zM735.5 1096.9h1.9v1.9h-1.9zM570.2 1255.9h1.9v1.9h-1.9z"/>
<path fill="#fdbf6f" d="M882.0 979.0h1.9v1.9h-1.9zM605.9 1031.4h1.9v1.9h-1.9zM652.8 995.8h1.9v1.9h-1.9zM724.2 911.6h1.9v1.9h-1.9zM865.1 1192.3h1.9v1.9h-1.9zM786.2 1022.0h1.9v1.9h-1.9zM590.8 982.7h1.9v1.9h-1.9zM808.7 979.0h1.9v1.9h-1.9zM763.6 1048.2h1.9v1.9h-1.9zM641.5 1126.8h1.9v1.9h-1.9zM846.3 1248.4h1.9v1.9h-1.9zM604.0 1061.3h1.9v1.9h-1.9zM602.1 1205.4h1.9v1.9h-1.9zM855.7 1138.0h1.9v1.9h-1.9zM836.9 1025.8h1.9v1.9h-1.9zM658.5 1083.8h1.9v1.9h-1.9zM726.1 1224.1h1.9v1.9h-1.9zM662.2 1117.4h1.9v1.9h-1.9zM827.5 932.2h1.9v1.9h-1.9zM870.7 979.0h1.9v1.9h-1.9zM615.2 928.5h1.9v1.9h-1.9zM741.1 1205.4h1.9v1.9h-1.9zM774.9 1274.6h1.9v1.9h-1.9zM694.1 1242.8h1.9v1.9h-1.9zM835.0 1119.3h1.9v1.9h-1.9zM863.2 1229.7h1.9v1.9h-1.9zM650.9 1160.5h1.9v1.9h-1.9zM810.6 1149.2h1.9v1.9h-1.9zM697.9 1182.9h1.9v1.9h-1.9zM686.6 913.5h1.9v1.9h-1.9zM883.9 1160.5h1.9v1.9h-1.9zM579.6 1169.8h1.9v1.9h-1.9zM848.2 1276.5h1.9v1.9h-1.9zM803.1 1205.4h1.9v1.9h-1.9zM750.5 962.2h1.9v1.9h-1.9zM855.7 1038.9h1.9v1.9h-1.9zM643.4 1168.0h1.9v1.9h-1.9zM848.2 1218.5h1.9v1.9h-1.9zM681.0 1134.3h1.9v1.9h-1.9zM844.4 1022.0h1.9v1.9h-1.9zM835.0 1255.9h1.9v1.9h-1.9zM555.1 1018.3h1.9v1.9h-1.9zM810.6 1027.6h1.9v1.9h-1.9zM761.8 1173.6h1.9v1.9h-1.9zM793.7 1126.8h1.9v1.9h-1.9zM774.9 1169.8h1.9v1.9h-1.9zM816.2 1143.6h1.9v1.9h-1.9zM863.2 1261.5h1.9v1.9h-1.9zM763.6 1033.3h1.9v1.9h-1.9zM825.6 1085.6h1.9v1.9h-1.9zM776.8 1242.8h1.9v1.9h-1.9zM887.6 1269.0h1.9v1.9h-1.9zM816.2 954.7h1.9v1.9h-1.9zM859.4 1154.9h1.9v1.9h-1.9zM645.3 979.0h1.9v1.9h-1.9zM912.0 1022.0h1.9v1.9h-1.9zM853.8 1110.0h1.9v1.9h-1.9zM607.7 1134.3h1.9v1.9h-1.9zM805.0 1128.7h1.9v1.9h-1.9zM590.8 1196.0h1.9v1.9h-1.9zM910.2 1081.9h1.9v1.9h-1.9zM855.7 1033.3h1.9v1.9h-1.9zM773.0 1063.2h1.9v1.9h-1.9zM690.4 1048.2h1.9v1.9h-1.9zM748.6 1257.8h1.9v1.9h-1.9zM893.2 1005.2h1.9v1.9h-1.9zM669.7 932.2h1.9v1.9h-1.9zM604.0 1205.4h1.9v1.9h-1.9zM615.2 909.8h1.9v1.9h-1.9zM662.2 950.9h1.9v1.9h-1.9zM876.3 1147.4h1.9v1.9h-1.9zM701.7 956.5h1.9v1.9h-1.9zM818.1 1134.3h1.9v1.9h-1.9zM694.1 1106.2h1.9v1.9h-1.9zM805.0 1040.7h1.9v1.9h-1.9zM795.6 1111.8h1.9v1.9h-1.9zM731.7 1250.3h1.9v1.9h-1.9zM808.7 1173.6h1.9v1.9h-1.9zM927.1 1222.2h1.9v1.9h-1.9zM632.2 1242.8h1.9v1.9h-1.9zM861.3 1074.4h1.9v1.9h-1.9zM728.0 1259.6h1.9v1.9h-1.9zM617.1 1237.2h1.9v1.9h-1.9zM801.2 911.6h1.9v1.9h-1.9zM590.8 1033.3h1.9v1.9h-1.9zM577.7 1040.7h1.9v1.9h-1.9zM887.6 1197.9h1.9v1.9h-1.9zM613.4 1096.9h1.9v1.9h-1.9zM575.8 954.7h1.9v1.9h-1.9zM897.0 1093.1h1.9v1.9h-1.9zM769.3 1138.0h1.9v1.9h-1.9zM774.9 1025.8h1.9v1.9h-1.9zM692.3 1239.0h1.9v1.9h-1.9zM726.1 1248.4h1.9v1.9h-1.9zM788.1 1121.2h1.9v1.9h-1.9zM746.7 1123.1h1.9v1.9h-1.9zM891.4 1233.4h1.9v1.9h-1.9zM767.4 1267.1h1.9v1.9h-1.9zM637.8 1168.0h1.9v1.9h-1.9zM786.2 1046.3h1.9v1.9h-1.9zM611.5 1130.5h1.9v1.9h-1.9zM673.5 1153.0h1.9v1.9h-1.9z"/>
<path fill="#ff7f00" d="M716.7 930.4h1.9v1.9h-1.9zM829.4 964.0h1.9v1.9h-1.9zM585.2 1265.2h1.9v1.9h-1.9zM703.5 1227.8h1.9v1.9h-1.9zM846.3 1211.0h1.9v1.9h-1.9zM686.6 1248.4h1.9v1.9h-1.9zM904.5 913.5h1.9v1.9h-1.9zM893.2 1162.3h1.9v1.9h-1.9zM865.1 1053.8h1.9v1.9h-1.9zM731.7 1042.6h1.9v1.9h-1.9zM868.8 1227.8h1.9v1.9h-1.9zM771.2 1134.3h1.9v1.9h-1.9zM566.4 1182.9h1.9v1.9h-1.9zM686.6 1265.2h1.9v1.9h-1.9zM876.3 1022.0h1.9v1.9h-1.9zM694.1 1267.1h1.9v1.9h-1.9zM615.2 1057.6h1.9v1.9h-1.9zM568.3 1087.5h1.9v1.9h-1.9zM758.0 1132.4h1.9v1.9h-1.9zM786.2 982.7h1.9v1.9h-1.9zM865.1 962.2h1.9v1.9h-1.9zM812.5 1242.8h1.9v1.9h-1.9zM692.3 926.6h1.9v1.9h-1.9zM637.8 979.0h1.9v1.9h-1.9zM637.8 950.9h1.9v1.9h-1.9zM818.1 969.6h1.9v1.9h-1.9zM690.4 1160.5h1.9v1.9h-1.9zM566.4 1117.4h1.9v1.9h-1.9zM654.7 992.1h1.9v1.9h-1.9zM842.5 1205.4h1.9v1.9h-1.9zM649.1 1083.8h1.9v1.9h-1.9zM835.0 1235.3h1.9v1.9h-1.9zM667.8 1115.6h1.9v1.9h-1.9zM773.0 1197.9h1.9v1.9h-1.9zM803.1 1096.9h1.9v1.9h-1.9zM853.8 1066.9h1.9v1.9h-1.9zM859.4 1025.8h1.9v1.9h-1.9zM673.5 1147.4h1.9v1.9h-1.9zM793.7 911.6h1.9v1.9h-1.9zM558.9 926.6h1.9v1.9h-1.9zM902.6 1181.1h1.9v1.9h-1.9zM836.9 1124.9h1.9v1.9h-1.9zM831.3 941.6h1.9v1.9h-1.9zM814.4 1040.7h1.9v1.9h-1.9zM823.7 1259.6h1.9v1.9h-1.9zM596.5 1276.5h1.9v1.9h-1.9zM786.2 1222.2h1.9v1.9h-1.9zM726.1 982.7h1.9v1.9h-1.9zM919.5 1226.0h1.9v1.9h-1.9zM801.2 980.9h1.9v1.9h-1.9zM590.8 999.6h1.9v1.9h-1.9zM558.9 1158.6h1.9v1.9h-1.9zM902.6 1078.2h1.9v1.9h-1.9zM925.2 1239.0h1.9v1.9h-1.9zM754.2 1239.0h1.9v1.9h-1.9zM818.1 1149.2h1.9v1.9h-1.9zM662.2 1272.7h1.9v1.9h-1.9zM609.6 1261.5h1.9v1.9h-1.9zM788.1 1136.2h1.9v1.9h-1.9zM703.5 1117.4h1.9v1.9h-1.9zM572.0 1244.7h1.9v1.9h-1.9zM808.7 907.9h1.9v1.9h-1.9zM893.2 1059.4h1.9v1.9h-1.9zM748.6 1263.4h1.9v1.9h-1.9zM861.3 1237.2h1.9v1.9h-1.9zM793.7 1168.0h1.9v1.9h-1.9zM677.2 960.3h1.9v1.9h-1.9zM791.8 1263.4h1.9v1.9h-1.9zM650.9 960.3h1.9v1.9h-1.9zM553.3 1087.5h1.9v1.9h-1.9zM650.9 1033.3h1.9v1.9h-1.9zM803.1 1050.1h1.9v1.9h-1.9zM863.2 1227.8h1.9v1.9h-1.9zM728.0 1263.4h1.9v1.9h-1.9zM615.2 1203.5h1.9v1.9h-1.9zM553.3 1136.2h1.9v1.9h-1.9zM587.1 956.5h1.9v1.9h-1.9zM660.3 1117.4h1.9v1.9h-1.9zM741.1 1261.5h1.9v1.9h-1.9zM810.6 1214.7h1.9v1.9h-1.9zM857.6 984.6h1.9v1.9h-1.9zM818.1 921.0h1.9v1.9h-1.9zM887.6 1229.7h1.9v1.9h-1.9zM703.5 1029.5h1.9v1.9h-1.9zM581.4 1192.3h1.9v1.9h-1.9zM656.6 1173.6h1.9v1.9h-1.9zM927.1 1138.0h1.9v1.9h-1.9zM825.6 995.8h1.9v1.9h-1.9zM692.3 1184.8h1.9v1.9h-1.9zM611.5 1166.1h1.9v1.9h-1.9zM769.3 1098.7h1.9v1.9h-1.9zM882.0 937.8h1.9v1.9h-1.9zM853.8 1111.8h1.9v1.9h-1.9zM906.4 1240.9h1.9v1.9h-1.9zM810.6 945.3h1.9v1.9h-1.9zM744.9 1263.4h1.9v1.9h-1.9z"/>
<path fill="#f4a46a" d="M844.4 1076.3h1.9v1.9h-1.9zM774.9 1211.0h1.9v1.9h-1.9zM861.3 1089.4h1.9v1.9h-1.9zM598.3 1242.8h1.9v1.9h-1.9zM752.4 1244.7h1.9v1.9h-1.9zM726.1 1014.5h1.9v1.9h-1.9zM560.8 1083.8h1.9v1.9h-1.9zM791.8 1095.0h1.9v1.9h-1.9zM654.7 1124.9h1.9v1.9h-1.9zM844.4 1110.0h1.9v1.9h-1.9zM769.3 982.7h1.9v1.9h-1.9zM895.1 1151.1h1.9v1.9h-1.9zM842.5 1269.0h1.9v1.9h-1.9zM581.4 1203.5h1.9v1.9h-1.9zM857.6 1130.5h1.9v1.9h-1.9zM658.5 1263.4h1.9v1.9h-1.9zM720.4 1214.7h1.9v1.9h-1.9zM641.5 1025.8h1.9v1.9h-1.9zM697.9 1166.1h1.9v1.9h-1.9zM575.8 932.2h1.9v1.9h-1.9zM649.1 1227.8h1.9v1.9h-1.9zM773.0 930.4h1.9v1.9h-1.9zM759.9 997.7h1.9v1.9h-1.9zM696.0 982.7h1.9v1.9h-1.9zM846.3 921.0h1.9v1.9h-1.9zM679.1 1136.2h1.9v1.9h-1.9zM829.4 1205.4h1.9v1.9h-1.9zM885.7 992.1h1.9v1.9h-1.9zM776.8 1119.3h1.9v1.9h-1.9zM808.7 1184.8h1.9v1.9h-1.9zM761.8 1237.2h1.9v1.9h-1.9zM880.1 1242.8h1.9v1.9h-1.9zM838.8 1237.2h1.9v1.9h-1.9zM801.2 964.0h1.9v1.9h-1.9zM915.8 1044.5h1.9v1.9h-1.9zM737.3 994.0h1.9v1.9h-1.9zM836.9 1164.2h1.9v1.9h-1.9zM666.0 1188.5h1.9v1.9h-1.9zM908.3 950.9h1.9v1.9h-1.9zM611.5 1199.8h1.9v1.9h-1.9zM735.5 932.2h1.9v1.9h-1.9zM805.0 1033.3h1.9v1.9h-1.9zM641.5 1267.1h1.9v1.9h-1.9zM795.6 1110.0h1.9v1.9h-1.9zM808.7 964.0h1.9v1.9h-1.9zM660.3 1096.9h1.9v1.9h-1.9zM919.5 945.3h1.9v1.9h-1.9zM833.1 1242.8h1.9v1.9h-1.9zM786.2 1052.0h1.9v1.9h-1.9zM607.7 928.5h1.9v1.9h-1.9zM690.4 1212.9h1.9v1.9h-1.9zM853.8 1149.2h1.9v1.9h-1.9zM573.9 1263.4h1.9v1.9h-1.9zM673.5 992.1h1.9v1.9h-1.9zM823.7 1050.1h1.9v1.9h-1.9zM897.0 924.7h1.9v1.9h-1.9zM810.6 1066.9h1.9v1.9h-1.9zM581.4 922.9h1.9v1.9h-1.9zM786.2 1145.5h1.9v1.9h-1.9zM906.4 1115.6h1.9v1.9h-1.9zM630.3 926.6h1.9v1.9h-1.9zM611.5 1100.6h1.9v1.9h-1.9zM763.6 1066.9h1.9v1.9h-1.9zM628.4 1205.4h1.9v1.9h-1.9zM758.0 1220.3h1.9v1.9h-1.9zM605.9 980.9h1.9v1.9h-1.9zM921.4 1186.7h1.9v1.9h-1.9zM658.5 1087.5h1.9v1.9h-1.9zM810.6 1153.0h1.9v1.9h-1.9zM885.7 928.5h1.9v1.9h-1.9zM754.2 1141.8h1.9v1.9h-1.9zM630.3 1050.1h1.9v1.9h-1.9zM568.3 1197.9h1.9v1.9h-1.9zM658.5 1132.4h1.9v1.9h-1.9zM649.1 1158.6h1.9v1.9h-1.9zM583.3 967.8h1.9v1.9h-1.9zM602.1 1074.4h1.9v1.9h-1.9zM750.5 982.7h1.9v1.9h-1.9zM867.0 1078.2h1.9v1.9h-1.9zM735.5 1096.9h1.9v1.9h-1.9zM831.3 1003.3h1.9v1.9h-1.9zM876.3 971.5h1.9v1.9h-1.9zM759.9 1091.3h1.9v1.9h-1.9zM816.2 1250.3h1.9v1.9h-1.9zM774.9 1169.8h1.9v1.9h-1.9zM617.1 1265.2h1.9v1.9h-1.9zM634.0 964.0h1.9v1.9h-1.9zM773.0 1199.8h1.9v1.9h-1.9zM810.6 1231.6h1.9v1.9h-1.9zM752.4 1091.3h1.9v1.9h-1.9zM743.0 1153.0h1.9v1.9h-1.9zM722.3 1007.1h1.9v1.9h-1.9zM876.3 1222.2h1.9v1.9h-1.9zM650.9 950.9h1.9v1.9h-1.9zM590.8 1126.8h1.9v1.9h-1.9zM758.0 1078.2h1.9v1.9h-1.9zM681.0 1196.0h1.9v1.9h-1.9zM557.0 1203.5h1.9v1.9h-1.9z"/>
<path fill="#f08a70" d="M893.2 926.6h1.9v1.9h-1.9zM915.8 994.0h1.9v1.9h-1.9zM589.0 1117.4h1.9v1.9h-1.9zM921.4 1050.1h1.9v1.9h-1.9zM596.5 949.1h1.9v1.9h-1.9zM885.7 1196.0h1.9v1.9h-1.9zM831.3 1050.1h1.9v1.9h-1.9zM857.6 1145.5h1.9v1.9h-1.9zM848.2 1274.6h1.9v1.9h-1.9zM701.7 1235.3h1.9v1.9h-1.9zM660.3 1182.9h1.9v1.9h-1.9zM750.5 1085.6h1.9v1.9h-1.9zM774.9 1085.6h1.9v1.9h-1.9zM902.6 909.8h1.9v1.9h-1.9zM891.4 1160.5h1.9v1.9h-1.9zM906.4 1162.3h1.9v1.9h-1.9zM697.9 941.6h1.9v1.9h-1.9zM716.7 1031.4h1.9v1.9h-1.9zM677.2 1095.0h1.9v1.9h-1.9zM848.2 1151.1h1.9v1.9h-1.9zM865.1 1008.9h1.9v1.9h-1.9zM806.8 1040.7h1.9v1.9h-1.9zM774.9 1149.2h1.9v1.9h-1.9zM598.3 1158.6h1.9v1.9h-1.9zM836.9 1171.7h1.9v1.9h-1.9zM699.8 1169.8h1.9v1.9h-1.9zM596.5 1040.7h1.9v1.9h-1.9zM737.3 1184.8h1.9v1.9h-1.9zM789.9 967.8h1.9v1.9h-1.9zM553.3 1263.4h1.9v1.9h-1.9zM709.2 1087.5h1.9v1.9h-1.9zM581.4 1164.2h1.9v1.9h-1.9zM812.5 1168.0h1.9v1.9h-1.9zM607.7 1147.4h1.9v1.9h-1.9zM912.0 999.6h1.9v1.9h-1.9zM891.4 1027.6h1.9v1.9h-1.9zM583.3 911.6h1.9v1.9h-1.9zM677.2 1151.1h1.9v1.9h-1.9zM788.1 1267.1h1.9v1.9h-1.9zM654.7 1007.1h1.9v1.9h-1.9zM744.9 941.6h1.9v1.9h-1.9zM622.8 1010.8h1.9v1.9h-1.9zM737.3 992.1h1.9v1.9h-1.9zM812.5 1269.0h1.9v1.9h-1.9zM923.3 1267.1h1.9v1.9h-1.9zM891.4 1231.6h1.9v1.9h-1.9zM758.0 952.8h1.9v1.9h-1.9zM906.4 1229.7h1.9v1.9h-1.9zM658.5 911.6h1.9v1.9h-1.9zM923.3 1259.6h1.9v1.9h-1.9zM619.0 1050.1h1.9v1.9h-1.9zM726.1 1111.8h1.9v1.9h-1.9zM558.9 1252.1h1.9v1.9h-1.9zM619.0 1261.5h1.9v1.9h-1.9zM769.3 980.9h1.9v1.9h-1.9zM769.3 1005.2h1.9v1.9h-1.9zM652.8 1211.0h1.9v1.9h-1.9zM810.6 962.2h1.9v1.9h-1.9zM902.6 1147.4h1.9v1.9h-1.9z"/>
</g>
<line x1="741.70" y1="905.10" x2="741.70" y2="914.82" stroke="#000" stroke-width="1.7"/>
<line x1="741.70" y1="1277.40" x2="741.70" y2="1267.68" stroke="#000" stroke-width="1.7"/>
<line x1="554.20" y1="1090.35" x2="563.92" y2="1090.35" stroke="#000" stroke-width="1.7"/>
<line x1="928.00" y1="1090.35" x2="918.28" y2="1090.35" stroke="#000" stroke-width="1.7"/>
<rect x="554.20" y="905.10" width="373.80" height="372.30" fill="none" stroke="#000" stroke-width="1.6"/>
<text transform="translate(666.70 882.30) scale(1.2 1)" font-size="37.8">σ</text>
<text x="690.58" y="893.64" font-size="29.48">g</text>
<text x="715.20" y="884.90" font-size="37.8">=</text>
<text x="809.50" y="882.30" font-size="37.8" text-anchor="end">0.08</text>
<text x="550.90" y="1328.10" font-size="35.6" text-anchor="middle">1</text>
<text x="739.60" y="1328.10" font-size="35.6" text-anchor="middle">100</text>
<text x="924.50" y="1328.10" font-size="35.6" text-anchor="middle">200</text>
<text x="741.00" y="1382.5" font-size="34.4" text-anchor="middle"># Presynaptic neuron <tspan font-style="italic" dx="-2.6">j</tspan></text>
<rect x="962.90" y="905.10" width="373.80" height="372.30" fill="#b1cde6"/>
<clipPath id="h2c"><rect x="962.90" y="905.10" width="373.80" height="372.30"/></clipPath>
<g clip-path="url(#h2c)">
<rect x="962.90" y="1177.31" width="373.80" height="1.87" fill="#74a9cf" opacity="0.75"/>
<rect x="962.90" y="1104.35" width="373.80" height="1.87" fill="#74a9cf" opacity="0.75"/>
<rect x="962.90" y="1080.02" width="373.80" height="1.87" fill="#74a9cf" opacity="0.75"/>
<rect x="962.90" y="1061.32" width="373.80" height="1.87" fill="#74a9cf" opacity="0.75"/>
<rect x="962.90" y="1012.67" width="373.80" height="1.87" fill="#74a9cf" opacity="0.75"/>
<rect x="962.90" y="1005.19" width="373.80" height="1.87" fill="#74a9cf" opacity="0.75"/>
<rect x="962.90" y="980.87" width="373.80" height="1.87" fill="#74a9cf" opacity="0.75"/>
<rect x="962.90" y="977.13" width="373.80" height="1.87" fill="#74a9cf" opacity="0.75"/>
<rect x="962.90" y="973.39" width="373.80" height="1.87" fill="#74a9cf" opacity="0.75"/>
<rect x="962.90" y="954.68" width="373.80" height="1.87" fill="#74a9cf" opacity="0.75"/>
<rect x="962.90" y="934.10" width="373.80" height="1.87" fill="#74a9cf" opacity="0.75"/>
<rect x="962.90" y="926.61" width="373.80" height="1.87" fill="#74a9cf" opacity="0.75"/>
<rect x="962.90" y="915.39" width="373.80" height="5.61" fill="#74a9cf" opacity="0.75"/>
<rect x="962.90" y="904.16" width="373.80" height="3.74" fill="#74a9cf" opacity="0.75"/>
<defs>
<path id="h2p-3" d="M962.0 0h375.7v1h-375.7z"/>
<path id="h2p0" d="M962.0 0h3.8v1h-3.8zM967.6 0h1.9v1h-1.9zM984.5 0h1.9v1h-1.9zM988.3 0h7.5v1h-7.5zM997.7 0h3.8v1h-3.8zM1005.2 0h5.6v1h-5.6zM1014.6 0h18.8v1h-18.8zM1037.1 0h3.8v1h-3.8zM1042.7 0h1.9v1h-1.9zM1046.5 0h3.8v1h-3.8zM1052.1 0h3.8v1h-3.8zM1057.8 0h7.5v1h-7.5zM1067.2 0h3.8v1h-3.8zM1072.8 0h7.5v1h-7.5zM1082.2 0h20.7v1h-20.7zM1104.7 0h11.3v1h-11.3zM1117.9 0h1.9v1h-1.9zM1123.5 0h9.4v1h-9.4zM1134.8 0h7.5v1h-7.5zM1144.2 0h7.5v1h-7.5zM1153.6 0h1.9v1h-1.9zM1157.3 0h7.5v1h-7.5zM1166.7 0h3.8v1h-3.8zM1172.3 0h16.9v1h-16.9zM1191.1 0h45.1v1h-45.1zM1238.1 0h22.5v1h-22.5zM1262.5 0h9.4v1h-9.4zM1273.8 0h1.9v1h-1.9zM1277.5 0h5.6v1h-5.6zM1285.0 0h13.1v1h-13.1zM1300.1 0h7.5v1h-7.5zM1309.5 0h3.8v1h-3.8zM1315.1 0h11.3v1h-11.3zM1330.1 0h7.5v1h-7.5z"/>
<path id="h2p1" d="M962.0 0h3.8v1h-3.8zM967.6 0h1.9v1h-1.9zM984.5 0h1.9v1h-1.9zM988.3 0h7.5v1h-7.5zM997.7 0h3.8v1h-3.8zM1005.2 0h5.6v1h-5.6zM1014.6 0h18.8v1h-18.8zM1037.1 0h3.8v1h-3.8zM1042.7 0h1.9v1h-1.9zM1046.5 0h3.8v1h-3.8zM1052.1 0h3.8v1h-3.8zM1057.8 0h7.5v1h-7.5zM1067.2 0h3.8v1h-3.8zM1072.8 0h7.5v1h-7.5zM1082.2 0h20.7v1h-20.7zM1104.7 0h11.3v1h-11.3zM1117.9 0h1.9v1h-1.9zM1123.5 0h9.4v1h-9.4zM1134.8 0h7.5v1h-7.5zM1144.2 0h7.5v1h-7.5zM1153.6 0h1.9v1h-1.9zM1157.3 0h7.5v1h-7.5zM1166.7 0h3.8v1h-3.8zM1172.3 0h16.9v1h-16.9zM1191.1 0h45.1v1h-45.1zM1238.1 0h22.5v1h-22.5zM1262.5 0h9.4v1h-9.4zM1273.8 0h1.9v1h-1.9zM1277.5 0h5.6v1h-5.6zM1285.0 0h13.1v1h-13.1zM1300.1 0h7.5v1h-7.5zM1309.5 0h3.8v1h-3.8zM1315.1 0h11.3v1h-11.3zM1330.1 0h7.5v1h-7.5z"/>
<path id="h2p2" d="M988.3 0h5.6v1h-5.6zM999.5 0h1.9v1h-1.9zM1005.2 0h1.9v1h-1.9zM1014.6 0h18.8v1h-18.8zM1059.6 0h5.6v1h-5.6zM1076.5 0h1.9v1h-1.9zM1082.2 0h9.4v1h-9.4zM1099.1 0h3.8v1h-3.8zM1108.5 0h1.9v1h-1.9zM1125.4 0h3.8v1h-3.8zM1134.8 0h1.9v1h-1.9zM1140.4 0h1.9v1h-1.9zM1146.0 0h1.9v1h-1.9zM1157.3 0h7.5v1h-7.5zM1166.7 0h3.8v1h-3.8zM1172.3 0h13.1v1h-13.1zM1194.9 0h1.9v1h-1.9zM1204.3 0h1.9v1h-1.9zM1211.8 0h16.9v1h-16.9zM1234.3 0h1.9v1h-1.9zM1238.1 0h5.6v1h-5.6zM1245.6 0h1.9v1h-1.9zM1251.2 0h9.4v1h-9.4zM1262.5 0h9.4v1h-9.4zM1273.8 0h1.9v1h-1.9zM1281.3 0h1.9v1h-1.9zM1285.0 0h3.8v1h-3.8zM1292.6 0h5.6v1h-5.6zM1300.1 0h7.5v1h-7.5zM1309.5 0h3.8v1h-3.8zM1315.1 0h11.3v1h-11.3zM1333.9 0h3.8v1h-3.8z"/>
<path id="h2p3" d="M990.1 0h1.9v1h-1.9zM999.5 0h1.9v1h-1.9zM1005.2 0h1.9v1h-1.9zM1014.6 0h3.8v1h-3.8zM1020.2 0h1.9v1h-1.9zM1023.9 0h1.9v1h-1.9zM1029.6 0h3.8v1h-3.8zM1059.6 0h5.6v1h-5.6zM1076.5 0h1.9v1h-1.9zM1082.2 0h1.9v1h-1.9zM1085.9 0h1.9v1h-1.9zM1089.7 0h1.9v1h-1.9zM1099.1 0h3.8v1h-3.8zM1108.5 0h1.9v1h-1.9zM1125.4 0h3.8v1h-3.8zM1134.8 0h1.9v1h-1.9zM1140.4 0h1.9v1h-1.9zM1146.0 0h1.9v1h-1.9zM1159.2 0h5.6v1h-5.6zM1166.7 0h3.8v1h-3.8zM1172.3 0h13.1v1h-13.1zM1194.9 0h1.9v1h-1.9zM1204.3 0h1.9v1h-1.9zM1213.7 0h15.0v1h-15.0zM1234.3 0h1.9v1h-1.9zM1238.1 0h5.6v1h-5.6zM1245.6 0h1.9v1h-1.9zM1253.1 0h7.5v1h-7.5zM1262.5 0h9.4v1h-9.4zM1273.8 0h1.9v1h-1.9zM1281.3 0h1.9v1h-1.9zM1285.0 0h3.8v1h-3.8zM1292.6 0h5.6v1h-5.6zM1300.1 0h7.5v1h-7.5zM1309.5 0h3.8v1h-3.8zM1315.1 0h11.3v1h-11.3zM1333.9 0h3.8v1h-3.8z"/>
<path id="h2p4" d="M990.1 0h1.9v1h-1.9zM999.5 0h1.9v1h-1.9zM1005.2 0h1.9v1h-1.9zM1014.6 0h3.8v1h-3.8zM1020.2 0h1.9v1h-1.9zM1023.9 0h1.9v1h-1.9zM1029.6 0h3.8v1h-3.8zM1059.6 0h5.6v1h-5.6zM1076.5 0h1.9v1h-1.9zM1082.2 0h1.9v1h-1.9zM1085.9 0h1.9v1h-1.9zM1089.7 0h1.9v1h-1.9zM1099.1 0h3.8v1h-3.8zM1108.5 0h1.9v1h-1.9zM1125.4 0h1.9v1h-1.9zM1134.8 0h1.9v1h-1.9zM1140.4 0h1.9v1h-1.9zM1146.0 0h1.9v1h-1.9zM1159.2 0h1.9v1h-1.9zM1162.9 0h1.9v1h-1.9zM1166.7 0h3.8v1h-3.8zM1172.3 0h3.8v1h-3.8zM1178.0 0h1.9v1h-1.9zM1183.6 0h1.9v1h-1.9zM1194.9 0h1.9v1h-1.9zM1204.3 0h1.9v1h-1.9zM1213.7 0h3.8v1h-3.8zM1219.3 0h1.9v1h-1.9zM1223.1 0h5.6v1h-5.6zM1234.3 0h1.9v1h-1.9zM1245.6 0h1.9v1h-1.9zM1253.1 0h7.5v1h-7.5zM1262.5 0h1.9v1h-1.9zM1266.3 0h3.8v1h-3.8zM1273.8 0h1.9v1h-1.9zM1281.3 0h1.9v1h-1.9zM1285.0 0h1.9v1h-1.9zM1292.6 0h3.8v1h-3.8zM1300.1 0h3.8v1h-3.8zM1305.7 0h1.9v1h-1.9zM1311.3 0h1.9v1h-1.9zM1315.1 0h1.9v1h-1.9zM1320.7 0h5.6v1h-5.6zM1333.9 0h3.8v1h-3.8z"/>
<path id="h2p5" d="M990.1 0h1.9v1h-1.9zM999.5 0h1.9v1h-1.9zM1005.2 0h1.9v1h-1.9zM1014.6 0h3.8v1h-3.8zM1020.2 0h1.9v1h-1.9zM1023.9 0h1.9v1h-1.9zM1029.6 0h3.8v1h-3.8zM1059.6 0h5.6v1h-5.6zM1076.5 0h1.9v1h-1.9zM1082.2 0h1.9v1h-1.9zM1085.9 0h1.9v1h-1.9zM1089.7 0h1.9v1h-1.9zM1099.1 0h3.8v1h-3.8zM1108.5 0h1.9v1h-1.9zM1125.4 0h1.9v1h-1.9zM1134.8 0h1.9v1h-1.9zM1140.4 0h1.9v1h-1.9zM1146.0 0h1.9v1h-1.9zM1159.2 0h1.9v1h-1.9zM1162.9 0h1.9v1h-1.9zM1166.7 0h3.8v1h-3.8zM1172.3 0h3.8v1h-3.8zM1178.0 0h1.9v1h-1.9zM1183.6 0h1.9v1h-1.9zM1194.9 0h1.9v1h-1.9zM1204.3 0h1.9v1h-1.9zM1213.7 0h3.8v1h-3.8zM1219.3 0h1.9v1h-1.9zM1223.1 0h5.6v1h-5.6zM1234.3 0h1.9v1h-1.9zM1245.6 0h1.9v1h-1.9zM1253.1 0h7.5v1h-7.5zM1262.5 0h1.9v1h-1.9zM1266.3 0h3.8v1h-3.8zM1273.8 0h1.9v1h-1.9zM1281.3 0h1.9v1h-1.9zM1285.0 0h1.9v1h-1.9zM1292.6 0h3.8v1h-3.8zM1300.1 0h3.8v1h-3.8zM1305.7 0h1.9v1h-1.9zM1311.3 0h1.9v1h-1.9zM1315.1 0h1.9v1h-1.9zM1320.7 0h5.6v1h-5.6zM1333.9 0h3.8v1h-3.8z"/>
<path id="h2p6" d="M990.1 0h1.9v1h-1.9zM1005.2 0h1.9v1h-1.9zM1014.6 0h3.8v1h-3.8zM1023.9 0h1.9v1h-1.9zM1029.6 0h1.9v1h-1.9zM1059.6 0h3.8v1h-3.8zM1076.5 0h1.9v1h-1.9zM1085.9 0h1.9v1h-1.9zM1089.7 0h1.9v1h-1.9zM1099.1 0h1.9v1h-1.9zM1125.4 0h1.9v1h-1.9zM1134.8 0h1.9v1h-1.9zM1140.4 0h1.9v1h-1.9zM1146.0 0h1.9v1h-1.9zM1162.9 0h1.9v1h-1.9zM1166.7 0h1.9v1h-1.9zM1172.3 0h1.9v1h-1.9zM1178.0 0h1.9v1h-1.9zM1183.6 0h1.9v1h-1.9zM1194.9 0h1.9v1h-1.9zM1204.3 0h1.9v1h-1.9zM1215.5 0h1.9v1h-1.9zM1219.3 0h1.9v1h-1.9zM1223.1 0h5.6v1h-5.6zM1234.3 0h1.9v1h-1.9zM1245.6 0h1.9v1h-1.9zM1253.1 0h1.9v1h-1.9zM1258.7 0h1.9v1h-1.9zM1262.5 0h1.9v1h-1.9zM1268.1 0h1.9v1h-1.9zM1273.8 0h1.9v1h-1.9zM1285.0 0h1.9v1h-1.9zM1292.6 0h3.8v1h-3.8zM1300.1 0h3.8v1h-3.8zM1305.7 0h1.9v1h-1.9zM1311.3 0h1.9v1h-1.9zM1315.1 0h1.9v1h-1.9zM1320.7 0h5.6v1h-5.6zM1333.9 0h3.8v1h-3.8z"/>
<path id="h2p7" d="M1125.4 0h1.9v1h-1.9zM1134.8 0h1.9v1h-1.9zM1162.9 0h1.9v1h-1.9zM1166.7 0h1.9v1h-1.9zM1178.0 0h1.9v1h-1.9zM1183.6 0h1.9v1h-1.9zM1194.9 0h1.9v1h-1.9zM1204.3 0h1.9v1h-1.9zM1215.5 0h1.9v1h-1.9zM1219.3 0h1.9v1h-1.9zM1226.8 0h1.9v1h-1.9zM1253.1 0h1.9v1h-1.9zM1262.5 0h1.9v1h-1.9zM1273.8 0h1.9v1h-1.9zM1285.0 0h1.9v1h-1.9zM1300.1 0h3.8v1h-3.8zM1305.7 0h1.9v1h-1.9zM1315.1 0h1.9v1h-1.9zM1320.7 0h5.6v1h-5.6zM1333.9 0h3.8v1h-3.8z"/>
<path id="h2p8" d="M1125.4 0h1.9v1h-1.9zM1134.8 0h1.9v1h-1.9zM1162.9 0h1.9v1h-1.9zM1166.7 0h1.9v1h-1.9zM1178.0 0h1.9v1h-1.9zM1183.6 0h1.9v1h-1.9zM1194.9 0h1.9v1h-1.9zM1204.3 0h1.9v1h-1.9zM1215.5 0h1.9v1h-1.9zM1219.3 0h1.9v1h-1.9zM1226.8 0h1.9v1h-1.9zM1253.1 0h1.9v1h-1.9zM1262.5 0h1.9v1h-1.9zM1273.8 0h1.9v1h-1.9zM1285.0 0h1.9v1h-1.9zM1300.1 0h3.8v1h-3.8zM1305.7 0h1.9v1h-1.9zM1315.1 0h1.9v1h-1.9zM1320.7 0h5.6v1h-5.6zM1333.9 0h3.8v1h-3.8z"/>
<path id="h2p9" d="M1134.8 0h1.9v1h-1.9zM1178.0 0h1.9v1h-1.9zM1262.5 0h1.9v1h-1.9zM1285.0 0h1.9v1h-1.9zM1305.7 0h1.9v1h-1.9zM1320.7 0h5.6v1h-5.6zM1333.9 0h3.8v1h-3.8z"/>
<path id="h2p10" d=""/>
</defs>
<g fill="#e31a1c">
<use href="#h2p2" transform="translate(0 1274.39) scale(1 4.14)"/>
<use href="#h2p0" transform="translate(0 1272.52) scale(1 2.27)"/>
<use href="#h2p3" transform="translate(0 1270.65) scale(1 2.27)"/>
<use href="#h2p0" transform="translate(0 1255.69) scale(1 15.37)"/>
<use href="#h2p2" transform="translate(0 1253.81) scale(1 2.27)"/>
<use href="#h2p0" transform="translate(0 1251.94) scale(1 2.27)"/>
<use href="#h2p5" transform="translate(0 1250.07) scale(1 2.27)"/>
<use href="#h2p8" transform="translate(0 1248.20) scale(1 2.27)"/>
<use href="#h2p5" transform="translate(0 1246.33) scale(1 2.27)"/>
<use href="#h2p2" transform="translate(0 1244.46) scale(1 2.27)"/>
<use href="#h2p0" transform="translate(0 1242.59) scale(1 2.27)"/>
<use href="#h2p2" transform="translate(0 1240.72) scale(1 2.27)"/>
<use href="#h2p7" transform="translate(0 1238.85) scale(1 2.27)"/>
<use href="#h2p0" transform="translate(0 1235.11) scale(1 4.14)"/>
<use href="#h2p8" transform="translate(0 1233.23) scale(1 2.27)"/>
<use href="#h2p2" transform="translate(0 1229.49) scale(1 4.14)"/>
<use href="#h2p0" transform="translate(0 1225.75) scale(1 4.14)"/>
<use href="#h2p8" transform="translate(0 1222.01) scale(1 4.14)"/>
<use href="#h2p5" transform="translate(0 1220.14) scale(1 2.27)"/>
<use href="#h2p7" transform="translate(0 1218.27) scale(1 2.27)"/>
<use href="#h2p5" transform="translate(0 1216.40) scale(1 2.27)"/>
<use href="#h2p8" transform="translate(0 1214.53) scale(1 2.27)"/>
<use href="#h2p5" transform="translate(0 1210.78) scale(1 4.14)"/>
<use href="#h2p8" transform="translate(0 1208.91) scale(1 2.27)"/>
<use href="#h2p7" transform="translate(0 1207.04) scale(1 2.27)"/>
<use href="#h2p-3" transform="translate(0 1205.17) scale(1 2.27)"/>
<use href="#h2p0" transform="translate(0 1203.30) scale(1 2.27)"/>
<use href="#h2p3" transform="translate(0 1201.43) scale(1 2.27)"/>
<use href="#h2p2" transform="translate(0 1199.56) scale(1 2.27)"/>
<use href="#h2p0" transform="translate(0 1197.69) scale(1 2.27)"/>
<use href="#h2p2" transform="translate(0 1195.82) scale(1 2.27)"/>
<use href="#h2p0" transform="translate(0 1193.95) scale(1 2.27)"/>
<use href="#h2p2" transform="translate(0 1190.21) scale(1 4.14)"/>
<use href="#h2p0" transform="translate(0 1188.33) scale(1 2.27)"/>
<use href="#h2p3" transform="translate(0 1184.59) scale(1 4.14)"/>
<use href="#h2p1" transform="translate(0 1182.72) scale(1 2.27)"/>
<use href="#h2p3" transform="translate(0 1180.85) scale(1 2.27)"/>
<use href="#h2p8" transform="translate(0 1177.11) scale(1 4.14)"/>
<use href="#h2p7" transform="translate(0 1175.24) scale(1 2.27)"/>
<use href="#h2p0" transform="translate(0 1173.37) scale(1 2.27)"/>
<use href="#h2p3" transform="translate(0 1169.63) scale(1 4.14)"/>
<use href="#h2p0" transform="translate(0 1167.76) scale(1 2.27)"/>
<use href="#h2p2" transform="translate(0 1164.01) scale(1 4.14)"/>
<use href="#h2p8" transform="translate(0 1162.14) scale(1 2.27)"/>
<use href="#h2p3" transform="translate(0 1160.27) scale(1 2.27)"/>
<use href="#h2p0" transform="translate(0 1158.40) scale(1 2.27)"/>
<use href="#h2p7" transform="translate(0 1156.53) scale(1 2.27)"/>
<use href="#h2p5" transform="translate(0 1154.66) scale(1 2.27)"/>
<use href="#h2p8" transform="translate(0 1152.79) scale(1 2.27)"/>
<use href="#h2p5" transform="translate(0 1150.92) scale(1 2.27)"/>
<use href="#h2p8" transform="translate(0 1149.05) scale(1 2.27)"/>
<use href="#h2p2" transform="translate(0 1147.18) scale(1 2.27)"/>
<use href="#h2p3" transform="translate(0 1141.56) scale(1 6.01)"/>
<use href="#h2p8" transform="translate(0 1139.69) scale(1 2.27)"/>
<use href="#h2p7" transform="translate(0 1137.82) scale(1 2.27)"/>
<use href="#h2p0" transform="translate(0 1135.95) scale(1 2.27)"/>
<use href="#h2p2" transform="translate(0 1134.08) scale(1 2.27)"/>
<use href="#h2p4" transform="translate(0 1132.21) scale(1 2.27)"/>
<use href="#h2p7" transform="translate(0 1130.34) scale(1 2.27)"/>
<use href="#h2p2" transform="translate(0 1128.47) scale(1 2.27)"/>
<use href="#h2p3" transform="translate(0 1124.73) scale(1 4.14)"/>
<use href="#h2p1" transform="translate(0 1122.85) scale(1 2.27)"/>
<use href="#h2p3" transform="translate(0 1120.98) scale(1 2.27)"/>
<use href="#h2p0" transform="translate(0 1119.11) scale(1 2.27)"/>
<use href="#h2p1" transform="translate(0 1117.24) scale(1 2.27)"/>
<use href="#h2p3" transform="translate(0 1115.37) scale(1 2.27)"/>
<use href="#h2p9" transform="translate(0 1113.50) scale(1 2.27)"/>
<use href="#h2p6" transform="translate(0 1111.63) scale(1 2.27)"/>
<use href="#h2p3" transform="translate(0 1109.76) scale(1 2.27)"/>
<use href="#h2p2" transform="translate(0 1107.89) scale(1 2.27)"/>
<use href="#h2p0" transform="translate(0 1106.02) scale(1 2.27)"/>
<use href="#h2p3" transform="translate(0 1100.40) scale(1 4.14)"/>
<use href="#h2p8" transform="translate(0 1098.53) scale(1 2.27)"/>
<use href="#h2p1" transform="translate(0 1096.66) scale(1 2.27)"/>
<use href="#h2p3" transform="translate(0 1094.79) scale(1 2.27)"/>
<use href="#h2p8" transform="translate(0 1092.92) scale(1 2.27)"/>
<use href="#h2p4" transform="translate(0 1091.05) scale(1 2.27)"/>
<use href="#h2p3" transform="translate(0 1089.18) scale(1 2.27)"/>
<use href="#h2p0" transform="translate(0 1087.31) scale(1 2.27)"/>
<use href="#h2p3" transform="translate(0 1085.44) scale(1 2.27)"/>
<use href="#h2p0" transform="translate(0 1083.57) scale(1 2.27)"/>
<use href="#h2p5" transform="translate(0 1081.70) scale(1 2.27)"/>
<use href="#h2p7" transform="translate(0 1079.82) scale(1 2.27)"/>
<use href="#h2p6" transform="translate(0 1077.95) scale(1 2.27)"/>
<use href="#h2p9" transform="translate(0 1076.08) scale(1 2.27)"/>
<use href="#h2p0" transform="translate(0 1074.21) scale(1 2.27)"/>
<use href="#h2p9" transform="translate(0 1072.34) scale(1 2.27)"/>
<use href="#h2p7" transform="translate(0 1070.47) scale(1 2.27)"/>
<use href="#h2p0" transform="translate(0 1068.60) scale(1 2.27)"/>
<use href="#h2p8" transform="translate(0 1066.73) scale(1 2.27)"/>
<use href="#h2p7" transform="translate(0 1064.86) scale(1 2.27)"/>
<use href="#h2p6" transform="translate(0 1062.99) scale(1 2.27)"/>
<use href="#h2p6" transform="translate(0 1057.37) scale(1 4.14)"/>
<use href="#h2p9" transform="translate(0 1055.50) scale(1 2.27)"/>
<use href="#h2p3" transform="translate(0 1051.76) scale(1 4.14)"/>
<use href="#h2p1" transform="translate(0 1049.89) scale(1 2.27)"/>
<use href="#h2p3" transform="translate(0 1048.02) scale(1 2.27)"/>
<use href="#h2p4" transform="translate(0 1046.15) scale(1 2.27)"/>
<use href="#h2p9" transform="translate(0 1044.28) scale(1 2.27)"/>
<use href="#h2p3" transform="translate(0 1040.54) scale(1 4.14)"/>
<use href="#h2p4" transform="translate(0 1036.80) scale(1 4.14)"/>
<use href="#h2p9" transform="translate(0 1034.92) scale(1 2.27)"/>
<use href="#h2p4" transform="translate(0 1033.05) scale(1 2.27)"/>
<use href="#h2p3" transform="translate(0 1029.31) scale(1 4.14)"/>
<use href="#h2p5" transform="translate(0 1027.44) scale(1 2.27)"/>
<use href="#h2p7" transform="translate(0 1025.57) scale(1 2.27)"/>
<use href="#h2p9" transform="translate(0 1023.70) scale(1 2.27)"/>
<use href="#h2p6" transform="translate(0 1021.83) scale(1 2.27)"/>
<use href="#h2p9" transform="translate(0 1019.96) scale(1 2.27)"/>
<use href="#h2p6" transform="translate(0 1018.09) scale(1 2.27)"/>
<use href="#h2p8" transform="translate(0 1014.34) scale(1 4.14)"/>
<use href="#h2p9" transform="translate(0 1012.47) scale(1 2.27)"/>
<use href="#h2p3" transform="translate(0 1010.60) scale(1 2.27)"/>
<use href="#h2p4" transform="translate(0 1006.86) scale(1 4.14)"/>
<use href="#h2p8" transform="translate(0 1004.99) scale(1 2.27)"/>
<use href="#h2p0" transform="translate(0 1003.12) scale(1 2.27)"/>
<use href="#h2p6" transform="translate(0 997.51) scale(1 6.01)"/>
<use href="#h2p3" transform="translate(0 995.64) scale(1 2.27)"/>
<use href="#h2p8" transform="translate(0 993.77) scale(1 2.27)"/>
<use href="#h2p3" transform="translate(0 990.02) scale(1 4.14)"/>
<use href="#h2p5" transform="translate(0 988.15) scale(1 2.27)"/>
<use href="#h2p9" transform="translate(0 986.28) scale(1 2.27)"/>
<use href="#h2p7" transform="translate(0 982.54) scale(1 4.14)"/>
<use href="#h2p8" transform="translate(0 980.67) scale(1 2.27)"/>
<use href="#h2p1" transform="translate(0 978.80) scale(1 2.27)"/>
<use href="#h2p6" transform="translate(0 975.06) scale(1 2.27)"/>
<use href="#h2p7" transform="translate(0 973.19) scale(1 2.27)"/>
<use href="#h2p8" transform="translate(0 971.32) scale(1 2.27)"/>
<use href="#h2p6" transform="translate(0 969.44) scale(1 2.27)"/>
<use href="#h2p1" transform="translate(0 967.57) scale(1 2.27)"/>
<use href="#h2p9" transform="translate(0 965.70) scale(1 2.27)"/>
<use href="#h2p1" transform="translate(0 963.83) scale(1 2.27)"/>
<use href="#h2p3" transform="translate(0 960.09) scale(1 4.14)"/>
<use href="#h2p7" transform="translate(0 958.22) scale(1 2.27)"/>
<use href="#h2p1" transform="translate(0 956.35) scale(1 2.27)"/>
<use href="#h2p6" transform="translate(0 952.61) scale(1 2.27)"/>
<use href="#h2p3" transform="translate(0 948.87) scale(1 4.14)"/>
<use href="#h2p8" transform="translate(0 945.12) scale(1 4.14)"/>
<use href="#h2p6" transform="translate(0 943.25) scale(1 2.27)"/>
<use href="#h2p1" transform="translate(0 941.38) scale(1 2.27)"/>
<use href="#h2p9" transform="translate(0 937.64) scale(1 4.14)"/>
<use href="#h2p6" transform="translate(0 935.77) scale(1 2.27)"/>
<use href="#h2p1" transform="translate(0 932.03) scale(1 2.27)"/>
<use href="#h2p6" transform="translate(0 930.16) scale(1 2.27)"/>
<use href="#h2p8" transform="translate(0 928.29) scale(1 2.27)"/>
<use href="#h2p0" transform="translate(0 926.41) scale(1 2.27)"/>
<use href="#h2p9" transform="translate(0 924.54) scale(1 2.27)"/>
<use href="#h2p6" transform="translate(0 920.80) scale(1 4.14)"/>
<use href="#h2p1" transform="translate(0 911.45) scale(1 4.14)"/>
<use href="#h2p4" transform="translate(0 909.58) scale(1 2.27)"/>
<use href="#h2p3" transform="translate(0 907.71) scale(1 2.27)"/>
</g>
<rect x="1262.50" y="905.10" width="1.88" height="372.30" fill="#fff" opacity="0.16"/>
<rect x="1320.73" y="905.10" width="1.88" height="372.30" fill="#fff" opacity="0.16"/>
<rect x="1322.61" y="905.10" width="1.88" height="372.30" fill="#fff" opacity="0.16"/>
<rect x="1324.49" y="905.10" width="1.88" height="372.30" fill="#fff" opacity="0.16"/>
<path fill="#ee5a4a" d="M1240.0 1246.5h1.9v1.9h-1.9zM1087.8 1134.3h1.9v1.9h-1.9zM1273.8 1018.3h1.9v1.9h-1.9zM1162.9 945.3h1.9v1.9h-1.9zM1318.9 1042.6h1.9v1.9h-1.9zM1223.1 1001.4h1.9v1.9h-1.9zM1131.0 1117.4h1.9v1.9h-1.9zM1174.2 1081.9h1.9v1.9h-1.9zM1005.2 1250.3h1.9v1.9h-1.9zM1301.9 943.5h1.9v1.9h-1.9zM1270.0 1250.3h1.9v1.9h-1.9zM1298.2 1141.8h1.9v1.9h-1.9zM1232.4 1158.6h1.9v1.9h-1.9zM1046.5 1134.3h1.9v1.9h-1.9zM1332.0 930.4h1.9v1.9h-1.9zM1277.5 1119.3h1.9v1.9h-1.9zM1057.8 967.8h1.9v1.9h-1.9zM1194.9 1111.8h1.9v1.9h-1.9zM1172.3 921.0h1.9v1.9h-1.9zM1268.1 911.6h1.9v1.9h-1.9zM1318.9 1048.2h1.9v1.9h-1.9zM1136.7 926.6h1.9v1.9h-1.9zM1057.8 1050.1h1.9v1.9h-1.9zM1217.4 1027.6h1.9v1.9h-1.9zM1194.9 1065.1h1.9v1.9h-1.9zM1326.4 1158.6h1.9v1.9h-1.9zM1206.2 1166.1h1.9v1.9h-1.9zM1155.4 1154.9h1.9v1.9h-1.9zM1296.3 960.3h1.9v1.9h-1.9zM1022.1 1053.8h1.9v1.9h-1.9zM1162.9 936.0h1.9v1.9h-1.9zM1039.0 1226.0h1.9v1.9h-1.9zM1172.3 1005.2h1.9v1.9h-1.9zM1076.5 921.0h1.9v1.9h-1.9zM1281.3 992.1h1.9v1.9h-1.9zM1050.2 1096.9h1.9v1.9h-1.9zM1258.7 1132.4h1.9v1.9h-1.9zM1179.9 1164.2h1.9v1.9h-1.9zM1273.8 921.0h1.9v1.9h-1.9zM1270.0 1089.4h1.9v1.9h-1.9zM1224.9 1153.0h1.9v1.9h-1.9zM1055.9 941.6h1.9v1.9h-1.9zM1040.9 1052.0h1.9v1.9h-1.9zM1234.3 945.3h1.9v1.9h-1.9zM1097.2 1068.8h1.9v1.9h-1.9zM1072.8 1106.2h1.9v1.9h-1.9zM1108.5 1033.3h1.9v1.9h-1.9zM1099.1 1212.9h1.9v1.9h-1.9zM992.0 1128.7h1.9v1.9h-1.9zM1332.0 1117.4h1.9v1.9h-1.9zM1162.9 984.6h1.9v1.9h-1.9zM1067.2 979.0h1.9v1.9h-1.9zM1014.6 1007.1h1.9v1.9h-1.9zM1025.8 1218.5h1.9v1.9h-1.9zM1266.3 1261.5h1.9v1.9h-1.9zM1300.1 1057.6h1.9v1.9h-1.9zM1168.6 1126.8h1.9v1.9h-1.9zM1181.7 1095.0h1.9v1.9h-1.9zM1266.3 1095.0h1.9v1.9h-1.9zM1332.0 1267.1h1.9v1.9h-1.9zM1283.2 1237.2h1.9v1.9h-1.9zM1240.0 1145.5h1.9v1.9h-1.9zM1196.8 1136.2h1.9v1.9h-1.9zM1020.2 1031.4h1.9v1.9h-1.9zM967.6 1188.5h1.9v1.9h-1.9zM1238.1 1132.4h1.9v1.9h-1.9zM1067.2 1003.3h1.9v1.9h-1.9zM1170.5 1211.0h1.9v1.9h-1.9zM1179.9 962.2h1.9v1.9h-1.9zM1132.9 945.3h1.9v1.9h-1.9zM1023.9 1070.7h1.9v1.9h-1.9zM1029.6 1091.3h1.9v1.9h-1.9zM1174.2 1115.6h1.9v1.9h-1.9zM1176.1 1121.2h1.9v1.9h-1.9zM1007.0 1074.4h1.9v1.9h-1.9zM1078.4 1237.2h1.9v1.9h-1.9zM1040.9 1001.4h1.9v1.9h-1.9zM1119.7 1055.7h1.9v1.9h-1.9zM1176.1 1102.5h1.9v1.9h-1.9zM1251.2 1244.7h1.9v1.9h-1.9zM1243.7 1259.6h1.9v1.9h-1.9zM1245.6 1044.5h1.9v1.9h-1.9zM1249.4 1106.2h1.9v1.9h-1.9zM1292.6 969.6h1.9v1.9h-1.9zM984.5 960.3h1.9v1.9h-1.9zM1305.7 982.7h1.9v1.9h-1.9zM1074.7 1083.8h1.9v1.9h-1.9zM1204.3 1003.3h1.9v1.9h-1.9zM984.5 1123.1h1.9v1.9h-1.9zM1320.7 1244.7h1.9v1.9h-1.9zM1333.9 1248.4h1.9v1.9h-1.9zM1303.8 1046.3h1.9v1.9h-1.9zM1057.8 956.5h1.9v1.9h-1.9zM1179.9 1124.9h1.9v1.9h-1.9zM1102.8 1033.3h1.9v1.9h-1.9zM1253.1 1018.3h1.9v1.9h-1.9zM1061.5 1250.3h1.9v1.9h-1.9zM1240.0 1145.5h1.9v1.9h-1.9zM1069.0 1138.0h1.9v1.9h-1.9zM1067.2 1173.6h1.9v1.9h-1.9zM1317.0 1158.6h1.9v1.9h-1.9zM1309.5 1037.0h1.9v1.9h-1.9zM1181.7 1141.8h1.9v1.9h-1.9zM1258.7 1093.1h1.9v1.9h-1.9zM1279.4 1197.9h1.9v1.9h-1.9zM1031.5 1151.1h1.9v1.9h-1.9zM1221.2 1254.0h1.9v1.9h-1.9zM1046.5 937.8h1.9v1.9h-1.9zM1318.9 995.8h1.9v1.9h-1.9zM990.1 928.5h1.9v1.9h-1.9zM1087.8 1199.8h1.9v1.9h-1.9zM1082.2 1001.4h1.9v1.9h-1.9zM1255.0 1115.6h1.9v1.9h-1.9zM1275.7 911.6h1.9v1.9h-1.9zM1147.9 1081.9h1.9v1.9h-1.9zM1091.6 1227.8h1.9v1.9h-1.9zM1129.1 971.5h1.9v1.9h-1.9zM1200.5 1059.4h1.9v1.9h-1.9zM1091.6 1130.5h1.9v1.9h-1.9zM1187.4 1168.0h1.9v1.9h-1.9zM1174.2 1007.1h1.9v1.9h-1.9zM1044.6 1053.8h1.9v1.9h-1.9zM1266.3 992.1h1.9v1.9h-1.9zM988.3 1095.0h1.9v1.9h-1.9zM1129.1 913.5h1.9v1.9h-1.9zM1089.7 1175.4h1.9v1.9h-1.9zM1204.3 1248.4h1.9v1.9h-1.9zM1082.2 1121.2h1.9v1.9h-1.9zM1286.9 1143.6h1.9v1.9h-1.9zM1300.1 1063.2h1.9v1.9h-1.9zM1059.6 943.5h1.9v1.9h-1.9zM1260.6 975.3h1.9v1.9h-1.9zM1181.7 1108.1h1.9v1.9h-1.9zM1288.8 911.6h1.9v1.9h-1.9zM1027.7 1014.5h1.9v1.9h-1.9zM1258.7 1216.6h1.9v1.9h-1.9zM1116.0 1050.1h1.9v1.9h-1.9zM1245.6 1022.0h1.9v1.9h-1.9zM1061.5 1070.7h1.9v1.9h-1.9zM1213.7 1031.4h1.9v1.9h-1.9zM1193.0 1171.7h1.9v1.9h-1.9zM1260.6 1164.2h1.9v1.9h-1.9zM1146.0 928.5h1.9v1.9h-1.9zM1277.5 992.1h1.9v1.9h-1.9zM1093.4 1197.9h1.9v1.9h-1.9zM1112.2 1117.4h1.9v1.9h-1.9zM1095.3 917.3h1.9v1.9h-1.9zM1153.6 1226.0h1.9v1.9h-1.9zM1253.1 1149.2h1.9v1.9h-1.9zM1176.1 1160.5h1.9v1.9h-1.9zM1132.9 947.2h1.9v1.9h-1.9zM1303.8 1145.5h1.9v1.9h-1.9zM1076.5 936.0h1.9v1.9h-1.9zM1315.1 1154.9h1.9v1.9h-1.9zM1318.9 1188.5h1.9v1.9h-1.9z"/>
<path fill="#fdbf6f" d="M1238.1 1065.1h1.9v1.9h-1.9zM1125.4 969.6h1.9v1.9h-1.9zM1335.8 928.5h1.9v1.9h-1.9zM1202.4 967.8h1.9v1.9h-1.9zM1232.4 1141.8h1.9v1.9h-1.9zM1264.4 1089.4h1.9v1.9h-1.9zM1286.9 960.3h1.9v1.9h-1.9zM1116.0 1197.9h1.9v1.9h-1.9zM1266.3 1181.1h1.9v1.9h-1.9zM1085.9 1211.0h1.9v1.9h-1.9zM1273.8 1014.5h1.9v1.9h-1.9zM1215.5 1149.2h1.9v1.9h-1.9zM1189.2 1263.4h1.9v1.9h-1.9zM1189.2 964.0h1.9v1.9h-1.9zM1228.7 1117.4h1.9v1.9h-1.9zM1054.0 1227.8h1.9v1.9h-1.9zM1161.1 1166.1h1.9v1.9h-1.9zM1097.2 962.2h1.9v1.9h-1.9zM1125.4 1197.9h1.9v1.9h-1.9zM1108.5 1070.7h1.9v1.9h-1.9zM1018.3 1254.0h1.9v1.9h-1.9zM1093.4 1158.6h1.9v1.9h-1.9zM1301.9 994.0h1.9v1.9h-1.9zM1249.4 1250.3h1.9v1.9h-1.9zM1063.4 1007.1h1.9v1.9h-1.9zM1020.2 1022.0h1.9v1.9h-1.9zM1183.6 1222.2h1.9v1.9h-1.9zM1221.2 950.9h1.9v1.9h-1.9zM1224.9 1252.1h1.9v1.9h-1.9zM1178.0 1214.7h1.9v1.9h-1.9zM1050.2 1190.4h1.9v1.9h-1.9zM1050.2 1132.4h1.9v1.9h-1.9zM988.3 1276.5h1.9v1.9h-1.9zM1121.6 1040.7h1.9v1.9h-1.9zM1029.6 1081.9h1.9v1.9h-1.9zM1108.5 1091.3h1.9v1.9h-1.9zM1123.5 1181.1h1.9v1.9h-1.9zM1005.2 1091.3h1.9v1.9h-1.9zM1224.9 945.3h1.9v1.9h-1.9zM1179.9 1160.5h1.9v1.9h-1.9zM977.0 1023.9h1.9v1.9h-1.9zM1153.6 904.2h1.9v1.9h-1.9zM1294.4 1162.3h1.9v1.9h-1.9zM1258.7 1007.1h1.9v1.9h-1.9zM1174.2 1091.3h1.9v1.9h-1.9zM1055.9 932.2h1.9v1.9h-1.9zM1069.0 1087.5h1.9v1.9h-1.9zM1268.1 1080.0h1.9v1.9h-1.9zM1095.3 1168.0h1.9v1.9h-1.9zM1048.4 1087.5h1.9v1.9h-1.9zM1161.1 1010.8h1.9v1.9h-1.9zM1097.2 1252.1h1.9v1.9h-1.9zM1052.1 952.8h1.9v1.9h-1.9zM1127.3 1040.7h1.9v1.9h-1.9zM1027.7 1186.7h1.9v1.9h-1.9zM988.3 1040.7h1.9v1.9h-1.9zM1335.8 937.8h1.9v1.9h-1.9zM1059.6 1087.5h1.9v1.9h-1.9zM1055.9 1010.8h1.9v1.9h-1.9zM1249.4 979.0h1.9v1.9h-1.9zM1174.2 952.8h1.9v1.9h-1.9zM1018.3 1201.6h1.9v1.9h-1.9zM1020.2 1224.1h1.9v1.9h-1.9zM1318.9 1229.7h1.9v1.9h-1.9zM1067.2 1269.0h1.9v1.9h-1.9zM1328.2 1087.5h1.9v1.9h-1.9zM1121.6 967.8h1.9v1.9h-1.9zM1240.0 1027.6h1.9v1.9h-1.9zM1191.1 941.6h1.9v1.9h-1.9zM1307.6 1010.8h1.9v1.9h-1.9zM1076.5 922.9h1.9v1.9h-1.9zM1300.1 1053.8h1.9v1.9h-1.9zM1288.8 1182.9h1.9v1.9h-1.9zM1253.1 984.6h1.9v1.9h-1.9zM1142.3 1261.5h1.9v1.9h-1.9zM1307.6 1158.6h1.9v1.9h-1.9zM1234.3 1063.2h1.9v1.9h-1.9zM1138.5 1020.2h1.9v1.9h-1.9zM1294.4 1093.1h1.9v1.9h-1.9zM1213.7 1177.3h1.9v1.9h-1.9zM1121.6 1098.7h1.9v1.9h-1.9zM1108.5 975.3h1.9v1.9h-1.9zM1174.2 1100.6h1.9v1.9h-1.9zM1296.3 1169.8h1.9v1.9h-1.9zM1206.2 943.5h1.9v1.9h-1.9zM1127.3 1121.2h1.9v1.9h-1.9zM1219.3 1156.7h1.9v1.9h-1.9zM1080.3 1205.4h1.9v1.9h-1.9zM995.8 1231.6h1.9v1.9h-1.9zM1162.9 1091.3h1.9v1.9h-1.9zM1275.7 1117.4h1.9v1.9h-1.9zM1303.8 950.9h1.9v1.9h-1.9zM1025.8 934.1h1.9v1.9h-1.9zM1129.1 1087.5h1.9v1.9h-1.9zM1022.1 979.0h1.9v1.9h-1.9zM1082.2 1160.5h1.9v1.9h-1.9zM1277.5 926.6h1.9v1.9h-1.9zM1042.7 1194.1h1.9v1.9h-1.9zM1089.7 1239.0h1.9v1.9h-1.9zM1221.2 1186.7h1.9v1.9h-1.9zM1057.8 1096.9h1.9v1.9h-1.9zM1191.1 1257.8h1.9v1.9h-1.9zM1309.5 1124.9h1.9v1.9h-1.9zM963.8 917.3h1.9v1.9h-1.9zM1313.2 1055.7h1.9v1.9h-1.9zM1311.3 956.5h1.9v1.9h-1.9zM1022.1 1145.5h1.9v1.9h-1.9zM1245.6 1222.2h1.9v1.9h-1.9zM1101.0 962.2h1.9v1.9h-1.9zM1014.6 982.7h1.9v1.9h-1.9zM1241.8 907.9h1.9v1.9h-1.9zM1044.6 924.7h1.9v1.9h-1.9zM1285.0 977.1h1.9v1.9h-1.9zM1067.2 1259.6h1.9v1.9h-1.9zM1091.6 1083.8h1.9v1.9h-1.9zM1069.0 1237.2h1.9v1.9h-1.9zM1202.4 1184.8h1.9v1.9h-1.9zM1138.5 1188.5h1.9v1.9h-1.9zM1016.4 1038.9h1.9v1.9h-1.9zM1091.6 941.6h1.9v1.9h-1.9zM1264.4 1110.0h1.9v1.9h-1.9zM1213.7 1053.8h1.9v1.9h-1.9zM1268.1 1250.3h1.9v1.9h-1.9zM962.0 1048.2h1.9v1.9h-1.9zM1014.6 921.0h1.9v1.9h-1.9zM1097.2 1050.1h1.9v1.9h-1.9zM1129.1 913.5h1.9v1.9h-1.9zM1005.2 1022.0h1.9v1.9h-1.9zM1085.9 1211.0h1.9v1.9h-1.9zM1300.1 1080.0h1.9v1.9h-1.9z"/>
<path fill="#5b9bc9" d="M1198.6 1173.6h1.9v1.9h-1.9zM1288.8 1263.4h1.9v1.9h-1.9zM1238.1 1190.4h1.9v1.9h-1.9zM1022.1 1156.7h1.9v1.9h-1.9zM1003.3 1259.6h1.9v1.9h-1.9zM1159.2 992.1h1.9v1.9h-1.9zM993.9 1173.6h1.9v1.9h-1.9zM1025.8 1053.8h1.9v1.9h-1.9zM1162.9 930.4h1.9v1.9h-1.9zM1048.4 1265.2h1.9v1.9h-1.9zM1097.2 1068.8h1.9v1.9h-1.9zM1168.6 995.8h1.9v1.9h-1.9zM1179.9 1220.3h1.9v1.9h-1.9zM1298.2 913.5h1.9v1.9h-1.9zM1288.8 1188.5h1.9v1.9h-1.9zM1281.3 1042.6h1.9v1.9h-1.9zM1166.7 1070.7h1.9v1.9h-1.9zM1166.7 922.9h1.9v1.9h-1.9zM1234.3 1033.3h1.9v1.9h-1.9zM1315.1 973.4h1.9v1.9h-1.9zM1187.4 1242.8h1.9v1.9h-1.9zM1317.0 1184.8h1.9v1.9h-1.9zM1266.3 1124.9h1.9v1.9h-1.9zM1189.2 913.5h1.9v1.9h-1.9zM1241.8 1128.7h1.9v1.9h-1.9zM1285.0 1093.1h1.9v1.9h-1.9zM1211.8 1102.5h1.9v1.9h-1.9zM1204.3 971.5h1.9v1.9h-1.9zM1129.1 1265.2h1.9v1.9h-1.9zM1333.9 1244.7h1.9v1.9h-1.9zM1140.4 1042.6h1.9v1.9h-1.9zM1193.0 1160.5h1.9v1.9h-1.9zM1262.5 982.7h1.9v1.9h-1.9zM1332.0 1113.7h1.9v1.9h-1.9zM1324.5 1065.1h1.9v1.9h-1.9zM1095.3 1119.3h1.9v1.9h-1.9zM1042.7 911.6h1.9v1.9h-1.9zM1245.6 1057.6h1.9v1.9h-1.9zM984.5 1188.5h1.9v1.9h-1.9zM1089.7 1007.1h1.9v1.9h-1.9zM1298.2 1108.1h1.9v1.9h-1.9zM1170.5 1244.7h1.9v1.9h-1.9zM1176.1 995.8h1.9v1.9h-1.9zM1072.8 1123.1h1.9v1.9h-1.9zM984.5 1272.7h1.9v1.9h-1.9zM1069.0 1171.7h1.9v1.9h-1.9zM1157.3 962.2h1.9v1.9h-1.9zM1084.1 1031.4h1.9v1.9h-1.9zM1110.4 1168.0h1.9v1.9h-1.9zM1106.6 907.9h1.9v1.9h-1.9zM1271.9 932.2h1.9v1.9h-1.9zM1245.6 1104.3h1.9v1.9h-1.9zM1279.4 904.2h1.9v1.9h-1.9zM1054.0 1226.0h1.9v1.9h-1.9zM980.7 1040.7h1.9v1.9h-1.9zM1292.6 1246.5h1.9v1.9h-1.9zM1063.4 1098.7h1.9v1.9h-1.9zM1223.1 1014.5h1.9v1.9h-1.9zM1292.6 1014.5h1.9v1.9h-1.9zM1046.5 926.6h1.9v1.9h-1.9zM1078.4 1255.9h1.9v1.9h-1.9zM1138.5 1252.1h1.9v1.9h-1.9zM1162.9 1016.4h1.9v1.9h-1.9zM1262.5 1044.5h1.9v1.9h-1.9zM1178.0 928.5h1.9v1.9h-1.9zM1029.6 930.4h1.9v1.9h-1.9zM1001.4 930.4h1.9v1.9h-1.9zM1204.3 1237.2h1.9v1.9h-1.9zM1200.5 1020.2h1.9v1.9h-1.9zM1213.7 1270.9h1.9v1.9h-1.9zM1333.9 958.4h1.9v1.9h-1.9zM1204.3 937.8h1.9v1.9h-1.9zM1059.6 1093.1h1.9v1.9h-1.9zM1260.6 1261.5h1.9v1.9h-1.9zM990.1 1014.5h1.9v1.9h-1.9zM1025.8 1102.5h1.9v1.9h-1.9zM1247.5 932.2h1.9v1.9h-1.9zM1213.7 1181.1h1.9v1.9h-1.9zM1183.6 1057.6h1.9v1.9h-1.9zM1104.7 1252.1h1.9v1.9h-1.9zM962.0 1160.5h1.9v1.9h-1.9zM1271.9 1255.9h1.9v1.9h-1.9zM1018.3 1196.0h1.9v1.9h-1.9zM1023.9 1175.4h1.9v1.9h-1.9zM1104.7 1235.3h1.9v1.9h-1.9zM1332.0 1096.9h1.9v1.9h-1.9zM1181.7 1029.5h1.9v1.9h-1.9zM1042.7 1267.1h1.9v1.9h-1.9zM999.5 921.0h1.9v1.9h-1.9zM1138.5 1136.2h1.9v1.9h-1.9zM1161.1 1085.6h1.9v1.9h-1.9zM1089.7 1276.5h1.9v1.9h-1.9zM1168.6 971.5h1.9v1.9h-1.9zM978.9 1042.6h1.9v1.9h-1.9zM1055.9 1119.3h1.9v1.9h-1.9zM1089.7 988.4h1.9v1.9h-1.9zM1273.8 958.4h1.9v1.9h-1.9zM1292.6 1081.9h1.9v1.9h-1.9zM1172.3 1248.4h1.9v1.9h-1.9zM1326.4 1272.7h1.9v1.9h-1.9zM1333.9 1153.0h1.9v1.9h-1.9zM1087.8 1115.6h1.9v1.9h-1.9zM1048.4 1226.0h1.9v1.9h-1.9zM1089.7 1154.9h1.9v1.9h-1.9zM1286.9 1254.0h1.9v1.9h-1.9zM1020.2 1038.9h1.9v1.9h-1.9zM1076.5 1175.4h1.9v1.9h-1.9zM1054.0 1188.5h1.9v1.9h-1.9zM1018.3 1016.4h1.9v1.9h-1.9zM975.1 1130.5h1.9v1.9h-1.9zM1296.3 1246.5h1.9v1.9h-1.9zM1258.7 1111.8h1.9v1.9h-1.9zM1219.3 1018.3h1.9v1.9h-1.9zM1159.2 1100.6h1.9v1.9h-1.9zM1044.6 1147.4h1.9v1.9h-1.9zM1332.0 941.6h1.9v1.9h-1.9zM1303.8 1160.5h1.9v1.9h-1.9zM1099.1 952.8h1.9v1.9h-1.9zM1108.5 1162.3h1.9v1.9h-1.9zM1271.9 979.0h1.9v1.9h-1.9zM1033.3 1037.0h1.9v1.9h-1.9zM1072.8 1044.5h1.9v1.9h-1.9zM1067.2 1194.1h1.9v1.9h-1.9zM1260.6 975.3h1.9v1.9h-1.9zM1168.6 1111.8h1.9v1.9h-1.9zM1018.3 1231.6h1.9v1.9h-1.9zM975.1 1274.6h1.9v1.9h-1.9zM1183.6 999.6h1.9v1.9h-1.9zM967.6 1087.5h1.9v1.9h-1.9zM995.8 1156.7h1.9v1.9h-1.9zM1166.7 921.0h1.9v1.9h-1.9zM1153.6 1265.2h1.9v1.9h-1.9zM1149.8 1083.8h1.9v1.9h-1.9zM1262.5 1016.4h1.9v1.9h-1.9zM1268.1 1046.3h1.9v1.9h-1.9zM1014.6 1102.5h1.9v1.9h-1.9zM1127.3 1184.8h1.9v1.9h-1.9zM1121.6 1123.1h1.9v1.9h-1.9zM1189.2 913.5h1.9v1.9h-1.9zM1007.0 1188.5h1.9v1.9h-1.9zM1114.1 1227.8h1.9v1.9h-1.9z"/>
<path fill="#fb9a99" d="M1241.8 1081.9h1.9v1.9h-1.9zM1258.7 1111.8h1.9v1.9h-1.9zM1270.0 1085.6h1.9v1.9h-1.9zM1174.2 995.8h1.9v1.9h-1.9zM1014.6 1066.9h1.9v1.9h-1.9zM1007.0 1023.9h1.9v1.9h-1.9zM1318.9 1190.4h1.9v1.9h-1.9zM1217.4 1184.8h1.9v1.9h-1.9zM1123.5 975.3h1.9v1.9h-1.9zM1292.6 1254.0h1.9v1.9h-1.9zM1008.9 1181.1h1.9v1.9h-1.9zM1007.0 1263.4h1.9v1.9h-1.9zM1048.4 1242.8h1.9v1.9h-1.9zM1091.6 1175.4h1.9v1.9h-1.9zM1097.2 1259.6h1.9v1.9h-1.9zM1048.4 913.5h1.9v1.9h-1.9zM1241.8 1040.7h1.9v1.9h-1.9zM1258.7 1046.3h1.9v1.9h-1.9zM1204.3 958.4h1.9v1.9h-1.9zM1213.7 1171.7h1.9v1.9h-1.9zM1303.8 1231.6h1.9v1.9h-1.9zM1146.0 1175.4h1.9v1.9h-1.9zM1277.5 1194.1h1.9v1.9h-1.9zM1255.0 1252.1h1.9v1.9h-1.9zM1174.2 921.0h1.9v1.9h-1.9zM1243.7 1068.8h1.9v1.9h-1.9zM1072.8 913.5h1.9v1.9h-1.9zM1286.9 1124.9h1.9v1.9h-1.9zM1170.5 1257.8h1.9v1.9h-1.9zM997.7 1139.9h1.9v1.9h-1.9zM1074.7 1226.0h1.9v1.9h-1.9zM1025.8 1010.8h1.9v1.9h-1.9zM1168.6 1270.9h1.9v1.9h-1.9zM1046.5 941.6h1.9v1.9h-1.9zM1270.0 1181.1h1.9v1.9h-1.9zM1286.9 1216.6h1.9v1.9h-1.9zM1172.3 1153.0h1.9v1.9h-1.9zM1215.5 1207.2h1.9v1.9h-1.9zM1031.5 971.5h1.9v1.9h-1.9zM997.7 1061.3h1.9v1.9h-1.9zM999.5 979.0h1.9v1.9h-1.9zM1178.0 1130.5h1.9v1.9h-1.9zM1054.0 1106.2h1.9v1.9h-1.9zM1007.0 1272.7h1.9v1.9h-1.9zM1258.7 1005.2h1.9v1.9h-1.9zM1320.7 945.3h1.9v1.9h-1.9zM1298.2 1106.2h1.9v1.9h-1.9zM1228.7 941.6h1.9v1.9h-1.9zM1292.6 1111.8h1.9v1.9h-1.9zM1240.0 1216.6h1.9v1.9h-1.9zM1273.8 924.7h1.9v1.9h-1.9zM1078.4 1119.3h1.9v1.9h-1.9zM1007.0 1068.8h1.9v1.9h-1.9zM1067.2 921.0h1.9v1.9h-1.9zM1317.0 1115.6h1.9v1.9h-1.9zM1123.5 1265.2h1.9v1.9h-1.9zM1104.7 1168.0h1.9v1.9h-1.9zM1063.4 1022.0h1.9v1.9h-1.9zM1087.8 1040.7h1.9v1.9h-1.9zM1125.4 973.4h1.9v1.9h-1.9zM1061.5 1005.2h1.9v1.9h-1.9zM1157.3 1229.7h1.9v1.9h-1.9zM1277.5 971.5h1.9v1.9h-1.9zM1020.2 1040.7h1.9v1.9h-1.9zM1114.1 1255.9h1.9v1.9h-1.9zM1238.1 1156.7h1.9v1.9h-1.9zM1328.2 1074.4h1.9v1.9h-1.9zM1206.2 1192.3h1.9v1.9h-1.9zM1106.6 1057.6h1.9v1.9h-1.9zM1119.7 1265.2h1.9v1.9h-1.9zM1296.3 1265.2h1.9v1.9h-1.9zM1243.7 1111.8h1.9v1.9h-1.9zM1224.9 1130.5h1.9v1.9h-1.9zM1016.4 1065.1h1.9v1.9h-1.9zM1255.0 1057.6h1.9v1.9h-1.9zM1027.7 1128.7h1.9v1.9h-1.9zM1016.4 1091.3h1.9v1.9h-1.9zM1264.4 962.2h1.9v1.9h-1.9zM1262.5 1093.1h1.9v1.9h-1.9zM1288.8 1205.4h1.9v1.9h-1.9zM1271.9 1261.5h1.9v1.9h-1.9zM1221.2 1145.5h1.9v1.9h-1.9zM1270.0 1033.3h1.9v1.9h-1.9zM1048.4 1124.9h1.9v1.9h-1.9zM1270.0 1186.7h1.9v1.9h-1.9zM1161.1 1108.1h1.9v1.9h-1.9zM1232.4 1184.8h1.9v1.9h-1.9zM1044.6 1196.0h1.9v1.9h-1.9zM1275.7 964.0h1.9v1.9h-1.9zM1178.0 994.0h1.9v1.9h-1.9zM1166.7 937.8h1.9v1.9h-1.9zM1258.7 922.9h1.9v1.9h-1.9zM1181.7 1031.4h1.9v1.9h-1.9zM1187.4 1074.4h1.9v1.9h-1.9zM1061.5 1177.3h1.9v1.9h-1.9zM1074.7 1267.1h1.9v1.9h-1.9zM1183.6 1057.6h1.9v1.9h-1.9zM1296.3 1040.7h1.9v1.9h-1.9zM1061.5 1216.6h1.9v1.9h-1.9zM1275.7 1272.7h1.9v1.9h-1.9zM1317.0 1276.5h1.9v1.9h-1.9zM1084.1 1134.3h1.9v1.9h-1.9zM1194.9 1224.1h1.9v1.9h-1.9zM971.4 994.0h1.9v1.9h-1.9zM1166.7 1138.0h1.9v1.9h-1.9zM1063.4 1186.7h1.9v1.9h-1.9zM1055.9 969.6h1.9v1.9h-1.9zM1320.7 945.3h1.9v1.9h-1.9zM1022.1 1134.3h1.9v1.9h-1.9zM1101.0 1029.5h1.9v1.9h-1.9zM1258.7 1014.5h1.9v1.9h-1.9zM1110.4 1235.3h1.9v1.9h-1.9zM992.0 988.4h1.9v1.9h-1.9zM1063.4 1008.9h1.9v1.9h-1.9zM1123.5 1003.3h1.9v1.9h-1.9zM999.5 1246.5h1.9v1.9h-1.9zM1129.1 941.6h1.9v1.9h-1.9zM1249.4 1203.5h1.9v1.9h-1.9zM1328.2 969.6h1.9v1.9h-1.9zM1170.5 1091.3h1.9v1.9h-1.9zM1202.4 1171.7h1.9v1.9h-1.9zM1159.2 1237.2h1.9v1.9h-1.9zM1142.3 1044.5h1.9v1.9h-1.9zM1253.1 1149.2h1.9v1.9h-1.9zM1251.2 1033.3h1.9v1.9h-1.9zM969.5 1244.7h1.9v1.9h-1.9zM1238.1 995.8h1.9v1.9h-1.9zM1119.7 926.6h1.9v1.9h-1.9zM977.0 1205.4h1.9v1.9h-1.9zM993.9 1237.2h1.9v1.9h-1.9zM1027.7 1044.5h1.9v1.9h-1.9zM1202.4 1229.7h1.9v1.9h-1.9zM1185.5 1117.4h1.9v1.9h-1.9zM1309.5 1201.6h1.9v1.9h-1.9zM1213.7 1053.8h1.9v1.9h-1.9zM1025.8 1040.7h1.9v1.9h-1.9zM1095.3 1119.3h1.9v1.9h-1.9zM1330.1 1106.2h1.9v1.9h-1.9zM1324.5 1044.5h1.9v1.9h-1.9zM1288.8 1074.4h1.9v1.9h-1.9zM1309.5 1181.1h1.9v1.9h-1.9zM1213.7 1010.8h1.9v1.9h-1.9zM1324.5 1066.9h1.9v1.9h-1.9zM1189.2 911.6h1.9v1.9h-1.9zM988.3 1199.8h1.9v1.9h-1.9zM1112.2 1257.8h1.9v1.9h-1.9zM1249.4 1168.0h1.9v1.9h-1.9zM999.5 1031.4h1.9v1.9h-1.9zM1157.3 1102.5h1.9v1.9h-1.9z"/>
<path fill="#c9a98e" d="M1296.3 1121.2h1.9v1.9h-1.9zM1106.6 1068.8h1.9v1.9h-1.9zM1162.9 1138.0h1.9v1.9h-1.9zM1226.8 1248.4h1.9v1.9h-1.9zM1196.8 1194.1h1.9v1.9h-1.9zM1123.5 1252.1h1.9v1.9h-1.9zM1181.7 1053.8h1.9v1.9h-1.9zM1018.3 1229.7h1.9v1.9h-1.9zM1159.2 1261.5h1.9v1.9h-1.9zM1042.7 1087.5h1.9v1.9h-1.9zM1240.0 1134.3h1.9v1.9h-1.9zM1138.5 1117.4h1.9v1.9h-1.9zM1208.0 1074.4h1.9v1.9h-1.9zM1208.0 1259.6h1.9v1.9h-1.9zM1204.3 1022.0h1.9v1.9h-1.9zM1123.5 1123.1h1.9v1.9h-1.9zM1095.3 964.0h1.9v1.9h-1.9zM1215.5 1248.4h1.9v1.9h-1.9zM1219.3 1016.4h1.9v1.9h-1.9zM1134.8 1130.5h1.9v1.9h-1.9zM1208.0 1106.2h1.9v1.9h-1.9zM1335.8 1156.7h1.9v1.9h-1.9zM1245.6 1216.6h1.9v1.9h-1.9zM1061.5 1132.4h1.9v1.9h-1.9zM1226.8 1005.2h1.9v1.9h-1.9zM1020.2 1220.3h1.9v1.9h-1.9zM1039.0 1255.9h1.9v1.9h-1.9zM1063.4 1007.1h1.9v1.9h-1.9zM1129.1 1194.1h1.9v1.9h-1.9zM967.6 964.0h1.9v1.9h-1.9zM1311.3 1037.0h1.9v1.9h-1.9zM1149.8 1087.5h1.9v1.9h-1.9zM1161.1 1231.6h1.9v1.9h-1.9zM1110.4 1136.2h1.9v1.9h-1.9zM1305.7 1239.0h1.9v1.9h-1.9zM1057.8 1083.8h1.9v1.9h-1.9zM1320.7 1175.4h1.9v1.9h-1.9zM1089.7 1136.2h1.9v1.9h-1.9zM1020.2 1181.1h1.9v1.9h-1.9zM1140.4 1078.2h1.9v1.9h-1.9zM1037.1 1188.5h1.9v1.9h-1.9zM1027.7 1199.8h1.9v1.9h-1.9zM1082.2 1091.3h1.9v1.9h-1.9zM1123.5 979.0h1.9v1.9h-1.9zM1125.4 1175.4h1.9v1.9h-1.9zM1256.9 907.9h1.9v1.9h-1.9zM1146.0 1007.1h1.9v1.9h-1.9zM1285.0 1162.3h1.9v1.9h-1.9zM1281.3 1027.6h1.9v1.9h-1.9zM1074.7 1267.1h1.9v1.9h-1.9zM1305.7 980.9h1.9v1.9h-1.9zM984.5 1087.5h1.9v1.9h-1.9zM1172.3 999.6h1.9v1.9h-1.9zM1029.6 1018.3h1.9v1.9h-1.9zM1072.8 1136.2h1.9v1.9h-1.9zM1052.1 964.0h1.9v1.9h-1.9zM1054.0 1173.6h1.9v1.9h-1.9zM1005.2 952.8h1.9v1.9h-1.9zM1219.3 988.4h1.9v1.9h-1.9zM1264.4 1085.6h1.9v1.9h-1.9zM1114.1 1068.8h1.9v1.9h-1.9zM1255.0 1040.7h1.9v1.9h-1.9zM1241.8 1186.7h1.9v1.9h-1.9zM1134.8 1162.3h1.9v1.9h-1.9zM1213.7 1250.3h1.9v1.9h-1.9zM1114.1 1106.2h1.9v1.9h-1.9zM1125.4 1001.4h1.9v1.9h-1.9zM1074.7 1269.0h1.9v1.9h-1.9zM1082.2 1081.9h1.9v1.9h-1.9zM1288.8 932.2h1.9v1.9h-1.9zM993.9 911.6h1.9v1.9h-1.9zM1249.4 1242.8h1.9v1.9h-1.9zM1234.3 1018.3h1.9v1.9h-1.9zM1097.2 1263.4h1.9v1.9h-1.9zM1324.5 1044.5h1.9v1.9h-1.9zM1183.6 984.6h1.9v1.9h-1.9zM1057.8 1252.1h1.9v1.9h-1.9zM1101.0 988.4h1.9v1.9h-1.9zM1054.0 1068.8h1.9v1.9h-1.9zM1204.3 997.7h1.9v1.9h-1.9zM1238.1 1124.9h1.9v1.9h-1.9z"/>
<path fill="#ff7f00" d="M990.1 952.8h1.9v1.9h-1.9zM1153.6 926.6h1.9v1.9h-1.9zM1084.1 1196.0h1.9v1.9h-1.9zM1138.5 1136.2h1.9v1.9h-1.9zM1281.3 1046.3h1.9v1.9h-1.9zM1215.5 1175.4h1.9v1.9h-1.9zM999.5 990.2h1.9v1.9h-1.9zM1020.2 992.1h1.9v1.9h-1.9zM1191.1 1110.0h1.9v1.9h-1.9zM1157.3 1052.0h1.9v1.9h-1.9zM971.4 1197.9h1.9v1.9h-1.9zM1131.0 1104.3h1.9v1.9h-1.9zM1123.5 1255.9h1.9v1.9h-1.9zM1042.7 1255.9h1.9v1.9h-1.9zM1194.9 969.6h1.9v1.9h-1.9zM1020.2 975.3h1.9v1.9h-1.9zM1112.2 1050.1h1.9v1.9h-1.9zM1097.2 1182.9h1.9v1.9h-1.9zM1027.7 1231.6h1.9v1.9h-1.9zM1087.8 1192.3h1.9v1.9h-1.9zM1161.1 1196.0h1.9v1.9h-1.9zM1063.4 1091.3h1.9v1.9h-1.9zM1136.7 1025.8h1.9v1.9h-1.9zM1003.3 1083.8h1.9v1.9h-1.9zM1076.5 997.7h1.9v1.9h-1.9zM1121.6 1168.0h1.9v1.9h-1.9zM1136.7 926.6h1.9v1.9h-1.9zM1050.2 1166.1h1.9v1.9h-1.9zM1067.2 1117.4h1.9v1.9h-1.9zM1219.3 1248.4h1.9v1.9h-1.9zM997.7 1055.7h1.9v1.9h-1.9zM997.7 1003.3h1.9v1.9h-1.9zM1262.5 960.3h1.9v1.9h-1.9zM1116.0 1074.4h1.9v1.9h-1.9zM1084.1 1005.2h1.9v1.9h-1.9zM1317.0 1240.9h1.9v1.9h-1.9zM1187.4 967.8h1.9v1.9h-1.9zM1140.4 1246.5h1.9v1.9h-1.9zM1266.3 995.8h1.9v1.9h-1.9zM1185.5 1106.2h1.9v1.9h-1.9zM1277.5 1235.3h1.9v1.9h-1.9zM1292.6 943.5h1.9v1.9h-1.9zM1234.3 971.5h1.9v1.9h-1.9zM1063.4 1100.6h1.9v1.9h-1.9zM1330.1 1147.4h1.9v1.9h-1.9zM1020.2 1091.3h1.9v1.9h-1.9zM1093.4 1158.6h1.9v1.9h-1.9zM1213.7 1029.5h1.9v1.9h-1.9zM1255.0 1115.6h1.9v1.9h-1.9zM1061.5 1091.3h1.9v1.9h-1.9zM1157.3 1052.0h1.9v1.9h-1.9zM1219.3 1044.5h1.9v1.9h-1.9zM1217.4 1272.7h1.9v1.9h-1.9zM1119.7 1229.7h1.9v1.9h-1.9zM1007.0 956.5h1.9v1.9h-1.9zM1264.4 1192.3h1.9v1.9h-1.9zM971.4 1166.1h1.9v1.9h-1.9zM1016.4 1007.1h1.9v1.9h-1.9zM1127.3 1184.8h1.9v1.9h-1.9zM1110.4 956.5h1.9v1.9h-1.9zM1273.8 1012.7h1.9v1.9h-1.9zM978.9 904.2h1.9v1.9h-1.9zM984.5 1276.5h1.9v1.9h-1.9zM1221.2 1166.1h1.9v1.9h-1.9zM1301.9 969.6h1.9v1.9h-1.9zM1059.6 1141.8h1.9v1.9h-1.9zM1172.3 943.5h1.9v1.9h-1.9zM1140.4 958.4h1.9v1.9h-1.9zM1108.5 1053.8h1.9v1.9h-1.9zM1162.9 1063.2h1.9v1.9h-1.9zM1219.3 1016.4h1.9v1.9h-1.9zM1001.4 921.0h1.9v1.9h-1.9zM1162.9 973.4h1.9v1.9h-1.9zM1127.3 1132.4h1.9v1.9h-1.9zM1072.8 1216.6h1.9v1.9h-1.9zM1264.4 1124.9h1.9v1.9h-1.9zM1191.1 973.4h1.9v1.9h-1.9zM1059.6 1007.1h1.9v1.9h-1.9zM1260.6 1098.7h1.9v1.9h-1.9zM999.5 1145.5h1.9v1.9h-1.9zM1303.8 1104.3h1.9v1.9h-1.9zM1194.9 1138.0h1.9v1.9h-1.9zM1290.7 1119.3h1.9v1.9h-1.9zM1023.9 952.8h1.9v1.9h-1.9zM1317.0 1008.9h1.9v1.9h-1.9zM1236.2 1194.1h1.9v1.9h-1.9zM992.0 1089.4h1.9v1.9h-1.9zM1258.7 1066.9h1.9v1.9h-1.9zM1251.2 1190.4h1.9v1.9h-1.9zM1027.7 1126.8h1.9v1.9h-1.9zM1153.6 917.3h1.9v1.9h-1.9zM1125.4 1123.1h1.9v1.9h-1.9zM1125.4 1070.7h1.9v1.9h-1.9zM1018.3 1089.4h1.9v1.9h-1.9zM1144.2 956.5h1.9v1.9h-1.9zM1108.5 1001.4h1.9v1.9h-1.9zM1179.9 1029.5h1.9v1.9h-1.9zM1266.3 950.9h1.9v1.9h-1.9zM1162.9 997.7h1.9v1.9h-1.9zM1294.4 1263.4h1.9v1.9h-1.9zM1101.0 1100.6h1.9v1.9h-1.9zM1189.2 1117.4h1.9v1.9h-1.9zM1146.0 1154.9h1.9v1.9h-1.9zM1144.2 1207.2h1.9v1.9h-1.9zM1230.6 1164.2h1.9v1.9h-1.9zM967.6 992.1h1.9v1.9h-1.9zM1072.8 1158.6h1.9v1.9h-1.9zM1023.9 1222.2h1.9v1.9h-1.9zM1260.6 926.6h1.9v1.9h-1.9zM1301.9 1272.7h1.9v1.9h-1.9zM1007.0 1074.4h1.9v1.9h-1.9zM1224.9 909.8h1.9v1.9h-1.9zM1149.8 926.6h1.9v1.9h-1.9zM1318.9 1160.5h1.9v1.9h-1.9zM1332.0 911.6h1.9v1.9h-1.9zM1127.3 1190.4h1.9v1.9h-1.9zM1121.6 1272.7h1.9v1.9h-1.9zM1198.6 1025.8h1.9v1.9h-1.9zM1221.2 988.4h1.9v1.9h-1.9zM1219.3 936.0h1.9v1.9h-1.9zM1142.3 926.6h1.9v1.9h-1.9zM1288.8 1259.6h1.9v1.9h-1.9zM1320.7 1207.2h1.9v1.9h-1.9zM1031.5 1190.4h1.9v1.9h-1.9zM1020.2 1023.9h1.9v1.9h-1.9zM1161.1 1196.0h1.9v1.9h-1.9zM1178.0 1248.4h1.9v1.9h-1.9zM1069.0 1188.5h1.9v1.9h-1.9zM1219.3 1063.2h1.9v1.9h-1.9zM1069.0 977.1h1.9v1.9h-1.9zM1057.8 1168.0h1.9v1.9h-1.9zM1215.5 1201.6h1.9v1.9h-1.9zM1125.4 1053.8h1.9v1.9h-1.9zM1031.5 1181.1h1.9v1.9h-1.9zM1333.9 934.1h1.9v1.9h-1.9zM1140.4 982.7h1.9v1.9h-1.9zM1266.3 1211.0h1.9v1.9h-1.9zM1029.6 975.3h1.9v1.9h-1.9z"/>
<path fill="#f4a46a" d="M1007.0 1227.8h1.9v1.9h-1.9zM1112.2 1242.8h1.9v1.9h-1.9zM1023.9 1263.4h1.9v1.9h-1.9zM1292.6 1218.5h1.9v1.9h-1.9zM1046.5 1265.2h1.9v1.9h-1.9zM997.7 1162.3h1.9v1.9h-1.9zM1249.4 1087.5h1.9v1.9h-1.9zM1286.9 907.9h1.9v1.9h-1.9zM984.5 1265.2h1.9v1.9h-1.9zM1123.5 1123.1h1.9v1.9h-1.9zM1305.7 1239.0h1.9v1.9h-1.9zM1153.6 1227.8h1.9v1.9h-1.9zM1270.0 1240.9h1.9v1.9h-1.9zM1221.2 1171.7h1.9v1.9h-1.9zM1241.8 1169.8h1.9v1.9h-1.9zM1099.1 1018.3h1.9v1.9h-1.9zM1031.5 1151.1h1.9v1.9h-1.9zM1085.9 1111.8h1.9v1.9h-1.9zM1181.7 1117.4h1.9v1.9h-1.9zM1311.3 1177.3h1.9v1.9h-1.9zM1219.3 1065.1h1.9v1.9h-1.9zM1007.0 1087.5h1.9v1.9h-1.9zM1018.3 1196.0h1.9v1.9h-1.9zM1315.1 1153.0h1.9v1.9h-1.9zM1095.3 1237.2h1.9v1.9h-1.9zM1209.9 1050.1h1.9v1.9h-1.9zM1155.4 1267.1h1.9v1.9h-1.9zM1211.8 1166.1h1.9v1.9h-1.9zM1159.2 1132.4h1.9v1.9h-1.9zM1074.7 1123.1h1.9v1.9h-1.9zM997.7 1226.0h1.9v1.9h-1.9zM1317.0 1244.7h1.9v1.9h-1.9zM1149.8 1055.7h1.9v1.9h-1.9zM1144.2 1194.1h1.9v1.9h-1.9zM1042.7 1106.2h1.9v1.9h-1.9zM1286.9 1190.4h1.9v1.9h-1.9zM1215.5 1055.7h1.9v1.9h-1.9zM1110.4 1123.1h1.9v1.9h-1.9zM1335.8 1248.4h1.9v1.9h-1.9zM1089.7 997.7h1.9v1.9h-1.9zM1151.7 1242.8h1.9v1.9h-1.9zM1273.8 1130.5h1.9v1.9h-1.9zM1200.5 1108.1h1.9v1.9h-1.9zM1281.3 1102.5h1.9v1.9h-1.9zM1324.5 990.2h1.9v1.9h-1.9zM1172.3 1033.3h1.9v1.9h-1.9zM1039.0 1194.1h1.9v1.9h-1.9zM1031.5 909.8h1.9v1.9h-1.9zM1288.8 1203.5h1.9v1.9h-1.9zM1179.9 992.1h1.9v1.9h-1.9zM1217.4 1042.6h1.9v1.9h-1.9zM1198.6 1263.4h1.9v1.9h-1.9zM980.7 1162.3h1.9v1.9h-1.9zM988.3 1134.3h1.9v1.9h-1.9zM1149.8 1168.0h1.9v1.9h-1.9zM1260.6 979.0h1.9v1.9h-1.9zM1054.0 1197.9h1.9v1.9h-1.9zM990.1 1154.9h1.9v1.9h-1.9zM1266.3 1038.9h1.9v1.9h-1.9zM1116.0 1007.1h1.9v1.9h-1.9zM1035.2 1276.5h1.9v1.9h-1.9zM1131.0 1083.8h1.9v1.9h-1.9zM1217.4 1186.7h1.9v1.9h-1.9zM1219.3 984.6h1.9v1.9h-1.9zM1215.5 1093.1h1.9v1.9h-1.9zM1179.9 1160.5h1.9v1.9h-1.9zM1142.3 1104.3h1.9v1.9h-1.9zM1101.0 930.4h1.9v1.9h-1.9zM1309.5 960.3h1.9v1.9h-1.9zM1078.4 1276.5h1.9v1.9h-1.9zM1303.8 1141.8h1.9v1.9h-1.9zM1157.3 1053.8h1.9v1.9h-1.9zM1211.8 1145.5h1.9v1.9h-1.9zM1168.6 1080.0h1.9v1.9h-1.9zM1057.8 979.0h1.9v1.9h-1.9zM1097.2 956.5h1.9v1.9h-1.9zM1296.3 1227.8h1.9v1.9h-1.9zM1117.9 956.5h1.9v1.9h-1.9zM1303.8 1231.6h1.9v1.9h-1.9zM1091.6 1267.1h1.9v1.9h-1.9zM988.3 1263.4h1.9v1.9h-1.9zM1061.5 1134.3h1.9v1.9h-1.9zM1240.0 1192.3h1.9v1.9h-1.9zM1215.5 922.9h1.9v1.9h-1.9zM1023.9 1022.0h1.9v1.9h-1.9zM993.9 1227.8h1.9v1.9h-1.9zM1247.5 1106.2h1.9v1.9h-1.9zM1061.5 947.2h1.9v1.9h-1.9zM1131.0 1074.4h1.9v1.9h-1.9zM1326.4 926.6h1.9v1.9h-1.9zM1303.8 1042.6h1.9v1.9h-1.9zM1161.1 1143.6h1.9v1.9h-1.9zM1273.8 1153.0h1.9v1.9h-1.9zM1046.5 1265.2h1.9v1.9h-1.9zM1183.6 1059.4h1.9v1.9h-1.9zM1162.9 984.6h1.9v1.9h-1.9zM1307.6 977.1h1.9v1.9h-1.9zM1168.6 1124.9h1.9v1.9h-1.9zM990.1 909.8h1.9v1.9h-1.9zM1007.0 1265.2h1.9v1.9h-1.9zM1069.0 936.0h1.9v1.9h-1.9zM1023.9 980.9h1.9v1.9h-1.9zM1046.5 911.6h1.9v1.9h-1.9zM1286.9 1181.1h1.9v1.9h-1.9zM1328.2 937.8h1.9v1.9h-1.9zM1020.2 982.7h1.9v1.9h-1.9zM1296.3 1040.7h1.9v1.9h-1.9zM1110.4 1121.2h1.9v1.9h-1.9zM1138.5 932.2h1.9v1.9h-1.9zM1309.5 1211.0h1.9v1.9h-1.9zM1264.4 962.2h1.9v1.9h-1.9zM1219.3 1022.0h1.9v1.9h-1.9zM1076.5 1033.3h1.9v1.9h-1.9zM1127.3 949.1h1.9v1.9h-1.9zM1093.4 1040.7h1.9v1.9h-1.9zM1093.4 1272.7h1.9v1.9h-1.9zM1063.4 975.3h1.9v1.9h-1.9zM1089.7 1027.6h1.9v1.9h-1.9zM1123.5 909.8h1.9v1.9h-1.9zM1204.3 1218.5h1.9v1.9h-1.9zM963.8 1261.5h1.9v1.9h-1.9zM1300.1 1145.5h1.9v1.9h-1.9zM1332.0 1168.0h1.9v1.9h-1.9zM993.9 1226.0h1.9v1.9h-1.9zM1125.4 1093.1h1.9v1.9h-1.9zM1093.4 911.6h1.9v1.9h-1.9zM967.6 1074.4h1.9v1.9h-1.9zM1129.1 1173.6h1.9v1.9h-1.9zM1010.8 1087.5h1.9v1.9h-1.9zM1217.4 1048.2h1.9v1.9h-1.9zM1332.0 1168.0h1.9v1.9h-1.9zM1162.9 1156.7h1.9v1.9h-1.9zM1303.8 1211.0h1.9v1.9h-1.9zM1240.0 1121.2h1.9v1.9h-1.9zM1005.2 1022.0h1.9v1.9h-1.9zM1305.7 994.0h1.9v1.9h-1.9zM1240.0 1005.2h1.9v1.9h-1.9zM1256.9 1158.6h1.9v1.9h-1.9zM1007.0 1168.0h1.9v1.9h-1.9zM1187.4 1269.0h1.9v1.9h-1.9zM1054.0 1263.4h1.9v1.9h-1.9zM1303.8 1164.2h1.9v1.9h-1.9zM1099.1 1124.9h1.9v1.9h-1.9zM1157.3 1027.6h1.9v1.9h-1.9zM1198.6 1081.9h1.9v1.9h-1.9zM1065.3 1257.8h1.9v1.9h-1.9zM1243.7 1149.2h1.9v1.9h-1.9zM1332.0 1136.2h1.9v1.9h-1.9zM988.3 1276.5h1.9v1.9h-1.9zM1074.7 1252.1h1.9v1.9h-1.9zM1166.7 1016.4h1.9v1.9h-1.9zM1317.0 1190.4h1.9v1.9h-1.9zM999.5 937.8h1.9v1.9h-1.9zM1037.1 1188.5h1.9v1.9h-1.9zM1136.7 1074.4h1.9v1.9h-1.9zM1221.2 1134.3h1.9v1.9h-1.9zM1181.7 1029.5h1.9v1.9h-1.9zM1159.2 1124.9h1.9v1.9h-1.9zM1307.6 1020.2h1.9v1.9h-1.9zM995.8 1040.7h1.9v1.9h-1.9zM1042.7 921.0h1.9v1.9h-1.9zM1258.7 999.6h1.9v1.9h-1.9zM1264.4 1184.8h1.9v1.9h-1.9zM1131.0 937.8h1.9v1.9h-1.9zM1082.2 1001.4h1.9v1.9h-1.9zM1089.7 1216.6h1.9v1.9h-1.9zM1324.5 949.1h1.9v1.9h-1.9zM1138.5 1272.7h1.9v1.9h-1.9zM1249.4 1269.0h1.9v1.9h-1.9z"/>
<path fill="#1f78b4" d="M1099.1 1220.3h1.9v1.9h-1.9zM1018.3 1196.0h1.9v1.9h-1.9zM1228.7 1076.3h1.9v1.9h-1.9zM1202.4 1164.2h1.9v1.9h-1.9zM1185.5 1168.0h1.9v1.9h-1.9zM1271.9 932.2h1.9v1.9h-1.9zM962.0 1226.0h1.9v1.9h-1.9zM1059.6 1246.5h1.9v1.9h-1.9zM1266.3 1098.7h1.9v1.9h-1.9zM1196.8 1188.5h1.9v1.9h-1.9zM999.5 1040.7h1.9v1.9h-1.9zM984.5 1194.1h1.9v1.9h-1.9zM1251.2 1240.9h1.9v1.9h-1.9zM963.8 1100.6h1.9v1.9h-1.9zM1125.4 928.5h1.9v1.9h-1.9zM1136.7 932.2h1.9v1.9h-1.9zM1315.1 1025.8h1.9v1.9h-1.9zM1085.9 1220.3h1.9v1.9h-1.9zM1211.8 1196.0h1.9v1.9h-1.9zM1255.0 1085.6h1.9v1.9h-1.9zM1039.0 1267.1h1.9v1.9h-1.9zM1031.5 1201.6h1.9v1.9h-1.9zM1270.0 1134.3h1.9v1.9h-1.9zM1076.5 1246.5h1.9v1.9h-1.9zM1322.6 1016.4h1.9v1.9h-1.9zM1285.0 1248.4h1.9v1.9h-1.9zM963.8 1237.2h1.9v1.9h-1.9zM1131.0 1269.0h1.9v1.9h-1.9zM1307.6 1087.5h1.9v1.9h-1.9zM1114.1 1226.0h1.9v1.9h-1.9zM1301.9 1098.7h1.9v1.9h-1.9zM1292.6 943.5h1.9v1.9h-1.9zM1318.9 1115.6h1.9v1.9h-1.9zM1194.9 1016.4h1.9v1.9h-1.9zM1008.9 1173.6h1.9v1.9h-1.9zM984.5 1257.8h1.9v1.9h-1.9zM1114.1 926.6h1.9v1.9h-1.9zM1255.0 1115.6h1.9v1.9h-1.9zM1305.7 917.3h1.9v1.9h-1.9zM1076.5 1016.4h1.9v1.9h-1.9zM1018.3 1128.7h1.9v1.9h-1.9zM1116.0 1087.5h1.9v1.9h-1.9zM1023.9 1046.3h1.9v1.9h-1.9zM1087.8 1229.7h1.9v1.9h-1.9zM1307.6 962.2h1.9v1.9h-1.9zM1286.9 1220.3h1.9v1.9h-1.9zM999.5 1121.2h1.9v1.9h-1.9zM1149.8 1050.1h1.9v1.9h-1.9zM1271.9 1158.6h1.9v1.9h-1.9zM1258.7 1098.7h1.9v1.9h-1.9zM1059.6 1136.2h1.9v1.9h-1.9zM1044.6 1070.7h1.9v1.9h-1.9zM1215.5 1059.4h1.9v1.9h-1.9zM1181.7 1244.7h1.9v1.9h-1.9zM1243.7 1123.1h1.9v1.9h-1.9zM1084.1 1134.3h1.9v1.9h-1.9zM1332.0 1123.1h1.9v1.9h-1.9zM1074.7 1117.4h1.9v1.9h-1.9zM1249.4 1265.2h1.9v1.9h-1.9zM1059.6 1218.5h1.9v1.9h-1.9zM1294.4 947.2h1.9v1.9h-1.9zM1110.4 956.5h1.9v1.9h-1.9zM1234.3 1066.9h1.9v1.9h-1.9zM1185.5 1022.0h1.9v1.9h-1.9zM1067.2 1087.5h1.9v1.9h-1.9zM1296.3 1254.0h1.9v1.9h-1.9zM1271.9 1074.4h1.9v1.9h-1.9zM1202.4 1053.8h1.9v1.9h-1.9zM990.1 973.4h1.9v1.9h-1.9zM992.0 1169.8h1.9v1.9h-1.9zM1117.9 967.8h1.9v1.9h-1.9zM1279.4 1171.7h1.9v1.9h-1.9zM1140.4 1033.3h1.9v1.9h-1.9zM1258.7 922.9h1.9v1.9h-1.9zM1127.3 1014.5h1.9v1.9h-1.9zM1146.0 1211.0h1.9v1.9h-1.9zM1281.3 1018.3h1.9v1.9h-1.9zM1283.2 1269.0h1.9v1.9h-1.9zM1108.5 1261.5h1.9v1.9h-1.9zM1168.6 1121.2h1.9v1.9h-1.9zM1063.4 1231.6h1.9v1.9h-1.9zM1208.0 1123.1h1.9v1.9h-1.9zM1268.1 1078.2h1.9v1.9h-1.9zM1108.5 960.3h1.9v1.9h-1.9zM1029.6 954.7h1.9v1.9h-1.9zM1209.9 1050.1h1.9v1.9h-1.9zM1162.9 994.0h1.9v1.9h-1.9zM1241.8 1091.3h1.9v1.9h-1.9zM963.8 1052.0h1.9v1.9h-1.9zM1281.3 1151.1h1.9v1.9h-1.9zM1072.8 997.7h1.9v1.9h-1.9zM1247.5 1263.4h1.9v1.9h-1.9zM1234.3 1246.5h1.9v1.9h-1.9zM1332.0 1096.9h1.9v1.9h-1.9zM1140.4 1038.9h1.9v1.9h-1.9zM1193.0 1083.8h1.9v1.9h-1.9zM1262.5 1055.7h1.9v1.9h-1.9zM1018.3 1192.3h1.9v1.9h-1.9zM1285.0 1076.3h1.9v1.9h-1.9zM1132.9 1199.8h1.9v1.9h-1.9zM1277.5 1087.5h1.9v1.9h-1.9zM1240.0 1141.8h1.9v1.9h-1.9zM1123.5 1119.3h1.9v1.9h-1.9zM1255.0 1052.0h1.9v1.9h-1.9zM1178.0 947.2h1.9v1.9h-1.9zM1153.6 1014.5h1.9v1.9h-1.9zM1039.0 949.1h1.9v1.9h-1.9zM1219.3 1098.7h1.9v1.9h-1.9zM1241.8 1029.5h1.9v1.9h-1.9zM1247.5 1263.4h1.9v1.9h-1.9zM1315.1 999.6h1.9v1.9h-1.9zM1140.4 1057.6h1.9v1.9h-1.9zM1311.3 1111.8h1.9v1.9h-1.9zM1168.6 1111.8h1.9v1.9h-1.9zM1044.6 977.1h1.9v1.9h-1.9zM1270.0 1048.2h1.9v1.9h-1.9zM1266.3 964.0h1.9v1.9h-1.9zM1055.9 979.0h1.9v1.9h-1.9zM1240.0 1033.3h1.9v1.9h-1.9zM1074.7 941.6h1.9v1.9h-1.9zM1003.3 1222.2h1.9v1.9h-1.9zM1054.0 1235.3h1.9v1.9h-1.9zM1258.7 1139.9h1.9v1.9h-1.9zM1025.8 1171.7h1.9v1.9h-1.9zM1217.4 1102.5h1.9v1.9h-1.9zM1029.6 1220.3h1.9v1.9h-1.9zM1059.6 1057.6h1.9v1.9h-1.9zM1241.8 1124.9h1.9v1.9h-1.9zM1273.8 1207.2h1.9v1.9h-1.9zM1085.9 1250.3h1.9v1.9h-1.9zM1069.0 1242.8h1.9v1.9h-1.9zM1318.9 1085.6h1.9v1.9h-1.9zM1065.3 1239.0h1.9v1.9h-1.9zM1085.9 1018.3h1.9v1.9h-1.9zM1311.3 1104.3h1.9v1.9h-1.9zM1146.0 909.8h1.9v1.9h-1.9zM1298.2 1136.2h1.9v1.9h-1.9zM969.5 1111.8h1.9v1.9h-1.9zM1251.2 1218.5h1.9v1.9h-1.9zM1170.5 1076.3h1.9v1.9h-1.9zM1035.2 1239.0h1.9v1.9h-1.9zM1243.7 1008.9h1.9v1.9h-1.9zM1292.6 1166.1h1.9v1.9h-1.9zM1238.1 907.9h1.9v1.9h-1.9zM1039.0 1242.8h1.9v1.9h-1.9z"/>
<path fill="#f08a70" d="M1162.9 943.5h1.9v1.9h-1.9zM1101.0 992.1h1.9v1.9h-1.9zM1127.3 1184.8h1.9v1.9h-1.9zM1315.1 984.6h1.9v1.9h-1.9zM1089.7 1046.3h1.9v1.9h-1.9zM1183.6 1018.3h1.9v1.9h-1.9zM1178.0 1214.7h1.9v1.9h-1.9zM1219.3 1057.6h1.9v1.9h-1.9zM992.0 1192.3h1.9v1.9h-1.9zM1209.9 1182.9h1.9v1.9h-1.9zM1311.3 1132.4h1.9v1.9h-1.9zM1172.3 1250.3h1.9v1.9h-1.9zM1243.7 911.6h1.9v1.9h-1.9zM1292.6 1027.6h1.9v1.9h-1.9zM1074.7 1255.9h1.9v1.9h-1.9zM1273.8 936.0h1.9v1.9h-1.9zM1228.7 1242.8h1.9v1.9h-1.9zM999.5 1010.8h1.9v1.9h-1.9zM1048.4 1263.4h1.9v1.9h-1.9zM1146.0 1100.6h1.9v1.9h-1.9zM1085.9 1001.4h1.9v1.9h-1.9zM1264.4 1229.7h1.9v1.9h-1.9zM967.6 1182.9h1.9v1.9h-1.9zM984.5 1117.4h1.9v1.9h-1.9zM1217.4 1048.2h1.9v1.9h-1.9zM1131.0 1117.4h1.9v1.9h-1.9zM1168.6 1250.3h1.9v1.9h-1.9zM1332.0 1087.5h1.9v1.9h-1.9zM1046.5 932.2h1.9v1.9h-1.9zM1048.4 941.6h1.9v1.9h-1.9zM1095.3 1242.8h1.9v1.9h-1.9zM1020.2 1033.3h1.9v1.9h-1.9zM1029.6 936.0h1.9v1.9h-1.9zM1140.4 1212.9h1.9v1.9h-1.9zM1084.1 1166.1h1.9v1.9h-1.9zM1264.4 1196.0h1.9v1.9h-1.9zM1166.7 1240.9h1.9v1.9h-1.9zM1057.8 1194.1h1.9v1.9h-1.9zM1209.9 1050.1h1.9v1.9h-1.9zM1022.1 1128.7h1.9v1.9h-1.9zM1085.9 969.6h1.9v1.9h-1.9zM1300.1 1022.0h1.9v1.9h-1.9zM1296.3 1110.0h1.9v1.9h-1.9zM1322.6 1190.4h1.9v1.9h-1.9zM1185.5 1252.1h1.9v1.9h-1.9zM1052.1 1123.1h1.9v1.9h-1.9zM1108.5 992.1h1.9v1.9h-1.9zM1023.9 1059.4h1.9v1.9h-1.9zM1022.1 1164.2h1.9v1.9h-1.9zM1322.6 1093.1h1.9v1.9h-1.9zM1072.8 1087.5h1.9v1.9h-1.9zM1318.9 1199.8h1.9v1.9h-1.9zM1031.5 1121.2h1.9v1.9h-1.9zM1277.5 1235.3h1.9v1.9h-1.9zM1204.3 1111.8h1.9v1.9h-1.9zM1191.1 1117.4h1.9v1.9h-1.9zM1123.5 1203.5h1.9v1.9h-1.9zM1208.0 1197.9h1.9v1.9h-1.9zM1129.1 1158.6h1.9v1.9h-1.9zM1300.1 1274.6h1.9v1.9h-1.9zM1179.9 1231.6h1.9v1.9h-1.9zM1020.2 1040.7h1.9v1.9h-1.9zM1144.2 1087.5h1.9v1.9h-1.9zM1292.6 1081.9h1.9v1.9h-1.9zM1134.8 1012.7h1.9v1.9h-1.9zM1228.7 1096.9h1.9v1.9h-1.9zM1085.9 1100.6h1.9v1.9h-1.9zM993.9 1235.3h1.9v1.9h-1.9zM1005.2 1068.8h1.9v1.9h-1.9zM1335.8 1055.7h1.9v1.9h-1.9zM1067.2 1106.2h1.9v1.9h-1.9zM1318.9 1115.6h1.9v1.9h-1.9zM1161.1 1231.6h1.9v1.9h-1.9zM1039.0 1168.0h1.9v1.9h-1.9zM1270.0 1042.6h1.9v1.9h-1.9zM1183.6 1177.3h1.9v1.9h-1.9zM1285.0 1233.4h1.9v1.9h-1.9zM1176.1 1100.6h1.9v1.9h-1.9zM1131.0 1203.5h1.9v1.9h-1.9zM1191.1 911.6h1.9v1.9h-1.9zM1082.2 950.9h1.9v1.9h-1.9zM1315.1 1214.7h1.9v1.9h-1.9zM1048.4 1087.5h1.9v1.9h-1.9zM1238.1 1052.0h1.9v1.9h-1.9zM1072.8 956.5h1.9v1.9h-1.9zM1059.6 988.4h1.9v1.9h-1.9zM1061.5 1151.1h1.9v1.9h-1.9zM971.4 1205.4h1.9v1.9h-1.9zM1136.7 1182.9h1.9v1.9h-1.9zM1303.8 1274.6h1.9v1.9h-1.9zM1315.1 1016.4h1.9v1.9h-1.9zM962.0 956.5h1.9v1.9h-1.9z"/>
</g>
<line x1="1150.40" y1="905.10" x2="1150.40" y2="914.82" stroke="#000" stroke-width="1.7"/>
<line x1="1150.40" y1="1277.40" x2="1150.40" y2="1267.68" stroke="#000" stroke-width="1.7"/>
<line x1="962.90" y1="1090.35" x2="972.62" y2="1090.35" stroke="#000" stroke-width="1.7"/>
<line x1="1336.70" y1="1090.35" x2="1326.98" y2="1090.35" stroke="#000" stroke-width="1.7"/>
<rect x="962.90" y="905.10" width="373.80" height="372.30" fill="none" stroke="#000" stroke-width="1.6"/>
<text transform="translate(1075.40 882.30) scale(1.2 1)" font-size="37.8">σ</text>
<text x="1099.28" y="893.64" font-size="29.48">g</text>
<text x="1123.90" y="884.90" font-size="37.8">=</text>
<text x="1218.20" y="882.30" font-size="37.8" text-anchor="end">0.10</text>
<text x="964.10" y="1328.10" font-size="35.6" text-anchor="middle">1</text>
<text x="1152.30" y="1328.10" font-size="35.6" text-anchor="middle">100</text>
<text x="1337.20" y="1328.10" font-size="35.6" text-anchor="middle">200</text>
<text x="1149.50" y="1382.5" font-size="34.4" text-anchor="middle"># Presynaptic neuron <tspan font-style="italic" dx="-2.6">j</tspan></text>
<rect x="1373.70" y="905.10" width="373.30" height="372.30" fill="#b1cde6"/>
<clipPath id="h3c"><rect x="1373.70" y="905.10" width="373.30" height="372.30"/></clipPath>
<g clip-path="url(#h3c)">
<rect x="1373.70" y="1248.40" width="373.30" height="1.87" fill="#7eb0d5" opacity="0.9"/>
<rect x="1373.70" y="1239.05" width="373.30" height="1.87" fill="#7eb0d5" opacity="0.9"/>
<rect x="1373.70" y="1233.43" width="373.30" height="1.87" fill="#7eb0d5" opacity="0.9"/>
<rect x="1373.70" y="1207.24" width="373.30" height="18.71" fill="#7eb0d5" opacity="0.9"/>
<rect x="1373.70" y="1175.44" width="373.30" height="5.61" fill="#7eb0d5" opacity="0.9"/>
<rect x="1373.70" y="1162.34" width="373.30" height="1.87" fill="#7eb0d5" opacity="0.9"/>
<rect x="1373.70" y="1156.73" width="373.30" height="1.87" fill="#7eb0d5" opacity="0.9"/>
<rect x="1373.70" y="1152.99" width="373.30" height="1.87" fill="#7eb0d5" opacity="0.9"/>
<rect x="1373.70" y="1149.25" width="373.30" height="1.87" fill="#7eb0d5" opacity="0.9"/>
<rect x="1373.70" y="1138.02" width="373.30" height="3.74" fill="#7eb0d5" opacity="0.9"/>
<rect x="1373.70" y="1130.54" width="373.30" height="1.87" fill="#7eb0d5" opacity="0.9"/>
<rect x="1373.70" y="1113.70" width="373.30" height="1.87" fill="#7eb0d5" opacity="0.9"/>
<rect x="1373.70" y="1104.35" width="373.30" height="1.87" fill="#7eb0d5" opacity="0.9"/>
<rect x="1373.70" y="1098.73" width="373.30" height="1.87" fill="#7eb0d5" opacity="0.9"/>
<rect x="1373.70" y="1093.12" width="373.30" height="1.87" fill="#7eb0d5" opacity="0.9"/>
<rect x="1373.70" y="1080.02" width="373.30" height="1.87" fill="#7eb0d5" opacity="0.9"/>
<rect x="1373.70" y="1076.28" width="373.30" height="1.87" fill="#7eb0d5" opacity="0.9"/>
<rect x="1373.70" y="1070.67" width="373.30" height="3.74" fill="#7eb0d5" opacity="0.9"/>
<rect x="1373.70" y="1065.06" width="373.30" height="3.74" fill="#7eb0d5" opacity="0.9"/>
<rect x="1373.70" y="1061.32" width="373.30" height="1.87" fill="#7eb0d5" opacity="0.9"/>
<rect x="1373.70" y="1055.70" width="373.30" height="1.87" fill="#7eb0d5" opacity="0.9"/>
<rect x="1373.70" y="1044.48" width="373.30" height="1.87" fill="#7eb0d5" opacity="0.9"/>
<rect x="1373.70" y="1035.12" width="373.30" height="1.87" fill="#7eb0d5" opacity="0.9"/>
<rect x="1373.70" y="1023.90" width="373.30" height="3.74" fill="#7eb0d5" opacity="0.9"/>
<rect x="1373.70" y="1020.16" width="373.30" height="1.87" fill="#7eb0d5" opacity="0.9"/>
<rect x="1373.70" y="1012.67" width="373.30" height="5.61" fill="#7eb0d5" opacity="0.9"/>
<rect x="1373.70" y="1005.19" width="373.30" height="1.87" fill="#7eb0d5" opacity="0.9"/>
<rect x="1373.70" y="993.97" width="373.30" height="1.87" fill="#7eb0d5" opacity="0.9"/>
<rect x="1373.70" y="980.87" width="373.30" height="7.48" fill="#7eb0d5" opacity="0.9"/>
<rect x="1373.70" y="977.13" width="373.30" height="1.87" fill="#7eb0d5" opacity="0.9"/>
<rect x="1373.70" y="971.52" width="373.30" height="3.74" fill="#7eb0d5" opacity="0.9"/>
<rect x="1373.70" y="965.90" width="373.30" height="1.87" fill="#7eb0d5" opacity="0.9"/>
<rect x="1373.70" y="958.42" width="373.30" height="1.87" fill="#7eb0d5" opacity="0.9"/>
<rect x="1373.70" y="954.68" width="373.30" height="1.87" fill="#7eb0d5" opacity="0.9"/>
<rect x="1373.70" y="945.32" width="373.30" height="3.74" fill="#7eb0d5" opacity="0.9"/>
<rect x="1373.70" y="937.84" width="373.30" height="3.74" fill="#7eb0d5" opacity="0.9"/>
<rect x="1373.70" y="934.10" width="373.30" height="1.87" fill="#7eb0d5" opacity="0.9"/>
<rect x="1373.70" y="928.49" width="373.30" height="1.87" fill="#7eb0d5" opacity="0.9"/>
<rect x="1373.70" y="924.74" width="373.30" height="1.87" fill="#7eb0d5" opacity="0.9"/>
<rect x="1373.70" y="915.39" width="373.30" height="5.61" fill="#7eb0d5" opacity="0.9"/>
<rect x="1373.70" y="904.16" width="373.30" height="3.74" fill="#7eb0d5" opacity="0.9"/>
<defs>
<path id="h3p-3" d="M1372.8 0h375.2v1h-375.2z"/>
<path id="h3p0" d="M1372.8 0h3.8v1h-3.8zM1378.4 0h1.9v1h-1.9zM1395.3 0h1.9v1h-1.9zM1399.0 0h7.5v1h-7.5zM1408.4 0h3.8v1h-3.8zM1415.9 0h5.6v1h-5.6zM1425.3 0h18.8v1h-18.8zM1447.8 0h3.8v1h-3.8zM1453.4 0h1.9v1h-1.9zM1457.2 0h3.8v1h-3.8zM1462.8 0h3.8v1h-3.8zM1468.4 0h7.5v1h-7.5zM1477.8 0h3.8v1h-3.8zM1483.4 0h7.5v1h-7.5zM1492.8 0h20.6v1h-20.6zM1515.3 0h11.3v1h-11.3zM1528.5 0h1.9v1h-1.9zM1534.1 0h9.4v1h-9.4zM1545.3 0h7.5v1h-7.5zM1554.7 0h7.5v1h-7.5zM1564.1 0h1.9v1h-1.9zM1567.9 0h7.5v1h-7.5zM1577.2 0h3.8v1h-3.8zM1582.9 0h16.9v1h-16.9zM1601.6 0h45.0v1h-45.0zM1648.5 0h22.5v1h-22.5zM1672.9 0h9.4v1h-9.4zM1684.2 0h1.9v1h-1.9zM1687.9 0h5.6v1h-5.6zM1695.4 0h13.1v1h-13.1zM1710.4 0h7.5v1h-7.5zM1719.8 0h3.8v1h-3.8zM1725.4 0h11.3v1h-11.3zM1740.4 0h7.5v1h-7.5z"/>
<path id="h3p1" d="M1399.0 0h5.6v1h-5.6zM1410.3 0h1.9v1h-1.9zM1415.9 0h5.6v1h-5.6zM1425.3 0h18.8v1h-18.8zM1449.7 0h1.9v1h-1.9zM1453.4 0h1.9v1h-1.9zM1459.1 0h1.9v1h-1.9zM1462.8 0h1.9v1h-1.9zM1470.3 0h5.6v1h-5.6zM1477.8 0h3.8v1h-3.8zM1485.3 0h5.6v1h-5.6zM1492.8 0h9.4v1h-9.4zM1504.1 0h9.4v1h-9.4zM1517.2 0h9.4v1h-9.4zM1528.5 0h1.9v1h-1.9zM1534.1 0h7.5v1h-7.5zM1545.3 0h1.9v1h-1.9zM1549.1 0h3.8v1h-3.8zM1554.7 0h3.8v1h-3.8zM1567.9 0h7.5v1h-7.5zM1577.2 0h3.8v1h-3.8zM1582.9 0h15.0v1h-15.0zM1601.6 0h45.0v1h-45.0zM1648.5 0h22.5v1h-22.5zM1672.9 0h9.4v1h-9.4zM1684.2 0h1.9v1h-1.9zM1687.9 0h5.6v1h-5.6zM1695.4 0h13.1v1h-13.1zM1710.4 0h7.5v1h-7.5zM1719.8 0h3.8v1h-3.8zM1725.4 0h11.3v1h-11.3zM1740.4 0h7.5v1h-7.5z"/>
<path id="h3p2" d="M1399.0 0h5.6v1h-5.6zM1410.3 0h1.9v1h-1.9zM1415.9 0h1.9v1h-1.9zM1425.3 0h18.8v1h-18.8zM1470.3 0h5.6v1h-5.6zM1487.2 0h1.9v1h-1.9zM1492.8 0h9.4v1h-9.4zM1509.7 0h3.8v1h-3.8zM1519.1 0h1.9v1h-1.9zM1536.0 0h3.8v1h-3.8zM1545.3 0h1.9v1h-1.9zM1551.0 0h1.9v1h-1.9zM1556.6 0h1.9v1h-1.9zM1567.9 0h7.5v1h-7.5zM1577.2 0h3.8v1h-3.8zM1582.9 0h13.1v1h-13.1zM1605.4 0h1.9v1h-1.9zM1614.8 0h1.9v1h-1.9zM1622.3 0h16.9v1h-16.9zM1644.8 0h1.9v1h-1.9zM1648.5 0h5.6v1h-5.6zM1656.0 0h1.9v1h-1.9zM1661.6 0h9.4v1h-9.4zM1672.9 0h9.4v1h-9.4zM1684.2 0h1.9v1h-1.9zM1691.7 0h1.9v1h-1.9zM1695.4 0h3.8v1h-3.8zM1702.9 0h5.6v1h-5.6zM1710.4 0h7.5v1h-7.5zM1719.8 0h3.8v1h-3.8zM1725.4 0h11.3v1h-11.3zM1744.2 0h3.8v1h-3.8z"/>
<path id="h3p3" d="M1400.9 0h1.9v1h-1.9zM1410.3 0h1.9v1h-1.9zM1415.9 0h1.9v1h-1.9zM1425.3 0h3.8v1h-3.8zM1430.9 0h1.9v1h-1.9zM1434.7 0h1.9v1h-1.9zM1440.3 0h3.8v1h-3.8zM1470.3 0h5.6v1h-5.6zM1487.2 0h1.9v1h-1.9zM1492.8 0h1.9v1h-1.9zM1496.6 0h1.9v1h-1.9zM1500.3 0h1.9v1h-1.9zM1509.7 0h3.8v1h-3.8zM1519.1 0h1.9v1h-1.9zM1536.0 0h3.8v1h-3.8zM1545.3 0h1.9v1h-1.9zM1551.0 0h1.9v1h-1.9zM1556.6 0h1.9v1h-1.9zM1569.7 0h5.6v1h-5.6zM1577.2 0h3.8v1h-3.8zM1582.9 0h13.1v1h-13.1zM1605.4 0h1.9v1h-1.9zM1614.8 0h1.9v1h-1.9zM1624.1 0h15.0v1h-15.0zM1644.8 0h1.9v1h-1.9zM1648.5 0h5.6v1h-5.6zM1656.0 0h1.9v1h-1.9zM1663.5 0h7.5v1h-7.5zM1672.9 0h9.4v1h-9.4zM1684.2 0h1.9v1h-1.9zM1691.7 0h1.9v1h-1.9zM1695.4 0h3.8v1h-3.8zM1702.9 0h5.6v1h-5.6zM1710.4 0h7.5v1h-7.5zM1719.8 0h3.8v1h-3.8zM1725.4 0h11.3v1h-11.3zM1744.2 0h3.8v1h-3.8z"/>
<path id="h3p4" d="M1400.9 0h1.9v1h-1.9zM1410.3 0h1.9v1h-1.9zM1415.9 0h1.9v1h-1.9zM1425.3 0h3.8v1h-3.8zM1430.9 0h1.9v1h-1.9zM1434.7 0h1.9v1h-1.9zM1440.3 0h3.8v1h-3.8zM1470.3 0h5.6v1h-5.6zM1487.2 0h1.9v1h-1.9zM1492.8 0h1.9v1h-1.9zM1496.6 0h1.9v1h-1.9zM1500.3 0h1.9v1h-1.9zM1509.7 0h3.8v1h-3.8zM1519.1 0h1.9v1h-1.9zM1536.0 0h1.9v1h-1.9zM1545.3 0h1.9v1h-1.9zM1551.0 0h1.9v1h-1.9zM1556.6 0h1.9v1h-1.9zM1569.7 0h1.9v1h-1.9zM1573.5 0h1.9v1h-1.9zM1577.2 0h3.8v1h-3.8zM1582.9 0h3.8v1h-3.8zM1588.5 0h1.9v1h-1.9zM1594.1 0h1.9v1h-1.9zM1605.4 0h1.9v1h-1.9zM1614.8 0h1.9v1h-1.9zM1624.1 0h3.8v1h-3.8zM1629.8 0h1.9v1h-1.9zM1633.5 0h5.6v1h-5.6zM1644.8 0h1.9v1h-1.9zM1656.0 0h1.9v1h-1.9zM1663.5 0h7.5v1h-7.5zM1672.9 0h1.9v1h-1.9zM1676.7 0h3.8v1h-3.8zM1684.2 0h1.9v1h-1.9zM1691.7 0h1.9v1h-1.9zM1695.4 0h1.9v1h-1.9zM1702.9 0h3.8v1h-3.8zM1710.4 0h3.8v1h-3.8zM1716.0 0h1.9v1h-1.9zM1721.7 0h1.9v1h-1.9zM1725.4 0h1.9v1h-1.9zM1731.1 0h5.6v1h-5.6zM1744.2 0h3.8v1h-3.8z"/>
<path id="h3p5" d="M1400.9 0h1.9v1h-1.9zM1410.3 0h1.9v1h-1.9zM1415.9 0h1.9v1h-1.9zM1425.3 0h3.8v1h-3.8zM1430.9 0h1.9v1h-1.9zM1434.7 0h1.9v1h-1.9zM1440.3 0h3.8v1h-3.8zM1470.3 0h5.6v1h-5.6zM1487.2 0h1.9v1h-1.9zM1492.8 0h1.9v1h-1.9zM1496.6 0h1.9v1h-1.9zM1500.3 0h1.9v1h-1.9zM1509.7 0h3.8v1h-3.8zM1519.1 0h1.9v1h-1.9zM1536.0 0h1.9v1h-1.9zM1545.3 0h1.9v1h-1.9zM1551.0 0h1.9v1h-1.9zM1556.6 0h1.9v1h-1.9zM1569.7 0h1.9v1h-1.9zM1573.5 0h1.9v1h-1.9zM1577.2 0h3.8v1h-3.8zM1582.9 0h3.8v1h-3.8zM1588.5 0h1.9v1h-1.9zM1594.1 0h1.9v1h-1.9zM1605.4 0h1.9v1h-1.9zM1614.8 0h1.9v1h-1.9zM1624.1 0h3.8v1h-3.8zM1629.8 0h1.9v1h-1.9zM1633.5 0h5.6v1h-5.6zM1644.8 0h1.9v1h-1.9zM1656.0 0h1.9v1h-1.9zM1663.5 0h7.5v1h-7.5zM1672.9 0h1.9v1h-1.9zM1676.7 0h3.8v1h-3.8zM1684.2 0h1.9v1h-1.9zM1691.7 0h1.9v1h-1.9zM1695.4 0h1.9v1h-1.9zM1702.9 0h3.8v1h-3.8zM1710.4 0h3.8v1h-3.8zM1716.0 0h1.9v1h-1.9zM1721.7 0h1.9v1h-1.9zM1725.4 0h1.9v1h-1.9zM1731.1 0h5.6v1h-5.6zM1744.2 0h3.8v1h-3.8z"/>
<path id="h3p6" d="M1400.9 0h1.9v1h-1.9zM1410.3 0h1.9v1h-1.9zM1425.3 0h3.8v1h-3.8zM1442.2 0h1.9v1h-1.9zM1472.2 0h1.9v1h-1.9zM1487.2 0h1.9v1h-1.9zM1511.6 0h1.9v1h-1.9zM1536.0 0h1.9v1h-1.9zM1545.3 0h1.9v1h-1.9zM1569.7 0h1.9v1h-1.9zM1573.5 0h1.9v1h-1.9zM1577.2 0h1.9v1h-1.9zM1582.9 0h3.8v1h-3.8zM1588.5 0h1.9v1h-1.9zM1594.1 0h1.9v1h-1.9zM1605.4 0h1.9v1h-1.9zM1614.8 0h1.9v1h-1.9zM1624.1 0h3.8v1h-3.8zM1629.8 0h1.9v1h-1.9zM1635.4 0h3.8v1h-3.8zM1644.8 0h1.9v1h-1.9zM1656.0 0h1.9v1h-1.9zM1663.5 0h1.9v1h-1.9zM1669.2 0h1.9v1h-1.9zM1672.9 0h1.9v1h-1.9zM1676.7 0h3.8v1h-3.8zM1684.2 0h1.9v1h-1.9zM1695.4 0h1.9v1h-1.9zM1702.9 0h3.8v1h-3.8zM1710.4 0h3.8v1h-3.8zM1716.0 0h1.9v1h-1.9zM1721.7 0h1.9v1h-1.9zM1725.4 0h1.9v1h-1.9zM1731.1 0h5.6v1h-5.6zM1744.2 0h3.8v1h-3.8z"/>
<path id="h3p7" d="M1536.0 0h1.9v1h-1.9zM1545.3 0h1.9v1h-1.9zM1573.5 0h1.9v1h-1.9zM1577.2 0h1.9v1h-1.9zM1588.5 0h1.9v1h-1.9zM1594.1 0h1.9v1h-1.9zM1605.4 0h1.9v1h-1.9zM1614.8 0h1.9v1h-1.9zM1626.0 0h1.9v1h-1.9zM1629.8 0h1.9v1h-1.9zM1637.3 0h1.9v1h-1.9zM1663.5 0h1.9v1h-1.9zM1672.9 0h1.9v1h-1.9zM1684.2 0h1.9v1h-1.9zM1695.4 0h1.9v1h-1.9zM1710.4 0h3.8v1h-3.8zM1716.0 0h1.9v1h-1.9zM1725.4 0h1.9v1h-1.9zM1731.1 0h5.6v1h-5.6zM1744.2 0h3.8v1h-3.8z"/>
<path id="h3p8" d="M1545.3 0h1.9v1h-1.9zM1588.5 0h1.9v1h-1.9zM1672.9 0h1.9v1h-1.9zM1695.4 0h1.9v1h-1.9zM1716.0 0h1.9v1h-1.9zM1731.1 0h5.6v1h-5.6zM1744.2 0h3.8v1h-3.8z"/>
<path id="h3p9" d="M1545.3 0h1.9v1h-1.9zM1588.5 0h1.9v1h-1.9zM1672.9 0h1.9v1h-1.9zM1695.4 0h1.9v1h-1.9zM1716.0 0h1.9v1h-1.9zM1731.1 0h5.6v1h-5.6zM1744.2 0h3.8v1h-3.8z"/>
<path id="h3p10" d=""/>
</defs>
<g fill="#e31a1c">
<use href="#h3p2" transform="translate(0 1274.39) scale(1 4.14)"/>
<use href="#h3p0" transform="translate(0 1272.52) scale(1 2.27)"/>
<use href="#h3p2" transform="translate(0 1270.65) scale(1 2.27)"/>
<use href="#h3p0" transform="translate(0 1255.69) scale(1 15.37)"/>
<use href="#h3p2" transform="translate(0 1253.81) scale(1 2.27)"/>
<use href="#h3p0" transform="translate(0 1251.94) scale(1 2.27)"/>
<use href="#h3p5" transform="translate(0 1250.07) scale(1 2.27)"/>
<use href="#h3p8" transform="translate(0 1248.20) scale(1 2.27)"/>
<use href="#h3p5" transform="translate(0 1246.33) scale(1 2.27)"/>
<use href="#h3p2" transform="translate(0 1244.46) scale(1 2.27)"/>
<use href="#h3p0" transform="translate(0 1242.59) scale(1 2.27)"/>
<use href="#h3p2" transform="translate(0 1240.72) scale(1 2.27)"/>
<use href="#h3p8" transform="translate(0 1238.85) scale(1 2.27)"/>
<use href="#h3p0" transform="translate(0 1235.11) scale(1 4.14)"/>
<use href="#h3p7" transform="translate(0 1233.23) scale(1 2.27)"/>
<use href="#h3p3" transform="translate(0 1229.49) scale(1 4.14)"/>
<use href="#h3p0" transform="translate(0 1225.75) scale(1 4.14)"/>
<use href="#h3p8" transform="translate(0 1222.01) scale(1 4.14)"/>
<use href="#h3p5" transform="translate(0 1220.14) scale(1 2.27)"/>
<use href="#h3p7" transform="translate(0 1218.27) scale(1 2.27)"/>
<use href="#h3p5" transform="translate(0 1216.40) scale(1 2.27)"/>
<use href="#h3p7" transform="translate(0 1214.53) scale(1 2.27)"/>
<use href="#h3p5" transform="translate(0 1210.78) scale(1 4.14)"/>
<use href="#h3p7" transform="translate(0 1208.91) scale(1 2.27)"/>
<use href="#h3p8" transform="translate(0 1207.04) scale(1 2.27)"/>
<use href="#h3p-3" transform="translate(0 1205.17) scale(1 2.27)"/>
<use href="#h3p0" transform="translate(0 1203.30) scale(1 2.27)"/>
<use href="#h3p2" transform="translate(0 1201.43) scale(1 2.27)"/>
<use href="#h3p3" transform="translate(0 1199.56) scale(1 2.27)"/>
<use href="#h3p0" transform="translate(0 1197.69) scale(1 2.27)"/>
<use href="#h3p3" transform="translate(0 1195.82) scale(1 2.27)"/>
<use href="#h3p0" transform="translate(0 1193.95) scale(1 2.27)"/>
<use href="#h3p2" transform="translate(0 1192.08) scale(1 2.27)"/>
<use href="#h3p3" transform="translate(0 1190.21) scale(1 2.27)"/>
<use href="#h3p0" transform="translate(0 1188.33) scale(1 2.27)"/>
<use href="#h3p3" transform="translate(0 1186.46) scale(1 2.27)"/>
<use href="#h3p2" transform="translate(0 1184.59) scale(1 2.27)"/>
<use href="#h3p0" transform="translate(0 1182.72) scale(1 2.27)"/>
<use href="#h3p2" transform="translate(0 1180.85) scale(1 2.27)"/>
<use href="#h3p7" transform="translate(0 1178.98) scale(1 2.27)"/>
<use href="#h3p8" transform="translate(0 1177.11) scale(1 2.27)"/>
<use href="#h3p7" transform="translate(0 1175.24) scale(1 2.27)"/>
<use href="#h3p0" transform="translate(0 1173.37) scale(1 2.27)"/>
<use href="#h3p3" transform="translate(0 1169.63) scale(1 4.14)"/>
<use href="#h3p0" transform="translate(0 1167.76) scale(1 2.27)"/>
<use href="#h3p2" transform="translate(0 1165.88) scale(1 2.27)"/>
<use href="#h3p3" transform="translate(0 1164.01) scale(1 2.27)"/>
<use href="#h3p8" transform="translate(0 1162.14) scale(1 2.27)"/>
<use href="#h3p4" transform="translate(0 1160.27) scale(1 2.27)"/>
<use href="#h3p0" transform="translate(0 1158.40) scale(1 2.27)"/>
<use href="#h3p7" transform="translate(0 1156.53) scale(1 2.27)"/>
<use href="#h3p5" transform="translate(0 1154.66) scale(1 2.27)"/>
<use href="#h3p7" transform="translate(0 1152.79) scale(1 2.27)"/>
<use href="#h3p5" transform="translate(0 1150.92) scale(1 2.27)"/>
<use href="#h3p7" transform="translate(0 1149.05) scale(1 2.27)"/>
<use href="#h3p2" transform="translate(0 1147.18) scale(1 2.27)"/>
<use href="#h3p3" transform="translate(0 1141.56) scale(1 6.01)"/>
<use href="#h3p7" transform="translate(0 1139.69) scale(1 2.27)"/>
<use href="#h3p8" transform="translate(0 1137.82) scale(1 2.27)"/>
<use href="#h3p0" transform="translate(0 1135.95) scale(1 2.27)"/>
<use href="#h3p2" transform="translate(0 1134.08) scale(1 2.27)"/>
<use href="#h3p3" transform="translate(0 1132.21) scale(1 2.27)"/>
<use href="#h3p7" transform="translate(0 1130.34) scale(1 2.27)"/>
<use href="#h3p3" transform="translate(0 1124.73) scale(1 6.01)"/>
<use href="#h3p1" transform="translate(0 1122.85) scale(1 2.27)"/>
<use href="#h3p3" transform="translate(0 1120.98) scale(1 2.27)"/>
<use href="#h3p0" transform="translate(0 1117.24) scale(1 4.14)"/>
<use href="#h3p3" transform="translate(0 1115.37) scale(1 2.27)"/>
<use href="#h3p9" transform="translate(0 1113.50) scale(1 2.27)"/>
<use href="#h3p6" transform="translate(0 1111.63) scale(1 2.27)"/>
<use href="#h3p3" transform="translate(0 1109.76) scale(1 2.27)"/>
<use href="#h3p2" transform="translate(0 1107.89) scale(1 2.27)"/>
<use href="#h3p1" transform="translate(0 1106.02) scale(1 2.27)"/>
<use href="#h3p2" transform="translate(0 1102.28) scale(1 2.27)"/>
<use href="#h3p3" transform="translate(0 1100.40) scale(1 2.27)"/>
<use href="#h3p7" transform="translate(0 1098.53) scale(1 2.27)"/>
<use href="#h3p0" transform="translate(0 1096.66) scale(1 2.27)"/>
<use href="#h3p3" transform="translate(0 1094.79) scale(1 2.27)"/>
<use href="#h3p7" transform="translate(0 1092.92) scale(1 2.27)"/>
<use href="#h3p2" transform="translate(0 1089.18) scale(1 4.14)"/>
<use href="#h3p0" transform="translate(0 1087.31) scale(1 2.27)"/>
<use href="#h3p2" transform="translate(0 1085.44) scale(1 2.27)"/>
<use href="#h3p0" transform="translate(0 1083.57) scale(1 2.27)"/>
<use href="#h3p5" transform="translate(0 1081.70) scale(1 2.27)"/>
<use href="#h3p8" transform="translate(0 1079.82) scale(1 2.27)"/>
<use href="#h3p6" transform="translate(0 1077.95) scale(1 2.27)"/>
<use href="#h3p9" transform="translate(0 1076.08) scale(1 2.27)"/>
<use href="#h3p0" transform="translate(0 1074.21) scale(1 2.27)"/>
<use href="#h3p9" transform="translate(0 1072.34) scale(1 2.27)"/>
<use href="#h3p7" transform="translate(0 1070.47) scale(1 2.27)"/>
<use href="#h3p0" transform="translate(0 1068.60) scale(1 2.27)"/>
<use href="#h3p8" transform="translate(0 1064.86) scale(1 4.14)"/>
<use href="#h3p6" transform="translate(0 1062.99) scale(1 2.27)"/>
<use href="#h3p6" transform="translate(0 1057.37) scale(1 4.14)"/>
<use href="#h3p9" transform="translate(0 1055.50) scale(1 2.27)"/>
<use href="#h3p3" transform="translate(0 1053.63) scale(1 2.27)"/>
<use href="#h3p2" transform="translate(0 1051.76) scale(1 2.27)"/>
<use href="#h3p0" transform="translate(0 1049.89) scale(1 2.27)"/>
<use href="#h3p3" transform="translate(0 1046.15) scale(1 4.14)"/>
<use href="#h3p9" transform="translate(0 1044.28) scale(1 2.27)"/>
<use href="#h3p3" transform="translate(0 1040.54) scale(1 4.14)"/>
<use href="#h3p4" transform="translate(0 1038.67) scale(1 2.27)"/>
<use href="#h3p3" transform="translate(0 1036.80) scale(1 2.27)"/>
<use href="#h3p9" transform="translate(0 1034.92) scale(1 2.27)"/>
<use href="#h3p3" transform="translate(0 1029.31) scale(1 6.01)"/>
<use href="#h3p5" transform="translate(0 1027.44) scale(1 2.27)"/>
<use href="#h3p8" transform="translate(0 1025.57) scale(1 2.27)"/>
<use href="#h3p9" transform="translate(0 1023.70) scale(1 2.27)"/>
<use href="#h3p6" transform="translate(0 1021.83) scale(1 2.27)"/>
<use href="#h3p9" transform="translate(0 1019.96) scale(1 2.27)"/>
<use href="#h3p6" transform="translate(0 1018.09) scale(1 2.27)"/>
<use href="#h3p7" transform="translate(0 1016.22) scale(1 2.27)"/>
<use href="#h3p8" transform="translate(0 1014.34) scale(1 2.27)"/>
<use href="#h3p9" transform="translate(0 1012.47) scale(1 2.27)"/>
<use href="#h3p3" transform="translate(0 1010.60) scale(1 2.27)"/>
<use href="#h3p4" transform="translate(0 1006.86) scale(1 4.14)"/>
<use href="#h3p8" transform="translate(0 1004.99) scale(1 2.27)"/>
<use href="#h3p1" transform="translate(0 1003.12) scale(1 2.27)"/>
<use href="#h3p6" transform="translate(0 997.51) scale(1 6.01)"/>
<use href="#h3p4" transform="translate(0 995.64) scale(1 2.27)"/>
<use href="#h3p8" transform="translate(0 993.77) scale(1 2.27)"/>
<use href="#h3p3" transform="translate(0 990.02) scale(1 4.14)"/>
<use href="#h3p5" transform="translate(0 988.15) scale(1 2.27)"/>
<use href="#h3p9" transform="translate(0 986.28) scale(1 2.27)"/>
<use href="#h3p7" transform="translate(0 982.54) scale(1 4.14)"/>
<use href="#h3p8" transform="translate(0 980.67) scale(1 2.27)"/>
<use href="#h3p0" transform="translate(0 978.80) scale(1 2.27)"/>
<use href="#h3p6" transform="translate(0 975.06) scale(1 2.27)"/>
<use href="#h3p8" transform="translate(0 971.32) scale(1 4.14)"/>
<use href="#h3p6" transform="translate(0 969.44) scale(1 2.27)"/>
<use href="#h3p0" transform="translate(0 967.57) scale(1 2.27)"/>
<use href="#h3p9" transform="translate(0 965.70) scale(1 2.27)"/>
<use href="#h3p0" transform="translate(0 963.83) scale(1 2.27)"/>
<use href="#h3p3" transform="translate(0 960.09) scale(1 4.14)"/>
<use href="#h3p7" transform="translate(0 958.22) scale(1 2.27)"/>
<use href="#h3p1" transform="translate(0 956.35) scale(1 2.27)"/>
<use href="#h3p6" transform="translate(0 952.61) scale(1 2.27)"/>
<use href="#h3p4" transform="translate(0 948.87) scale(1 4.14)"/>
<use href="#h3p8" transform="translate(0 945.12) scale(1 4.14)"/>
<use href="#h3p6" transform="translate(0 943.25) scale(1 2.27)"/>
<use href="#h3p1" transform="translate(0 941.38) scale(1 2.27)"/>
<use href="#h3p9" transform="translate(0 937.64) scale(1 4.14)"/>
<use href="#h3p6" transform="translate(0 935.77) scale(1 2.27)"/>
<use href="#h3p1" transform="translate(0 932.03) scale(1 2.27)"/>
<use href="#h3p6" transform="translate(0 930.16) scale(1 2.27)"/>
<use href="#h3p8" transform="translate(0 928.29) scale(1 2.27)"/>
<use href="#h3p1" transform="translate(0 926.41) scale(1 2.27)"/>
<use href="#h3p9" transform="translate(0 924.54) scale(1 2.27)"/>
<use href="#h3p6" transform="translate(0 920.80) scale(1 4.14)"/>
<use href="#h3p1" transform="translate(0 911.45) scale(1 4.14)"/>
<use href="#h3p4" transform="translate(0 907.71) scale(1 4.14)"/>
</g>
<rect x="1672.90" y="905.10" width="1.88" height="372.30" fill="#fff" opacity="0.16"/>
<rect x="1731.06" y="905.10" width="1.88" height="372.30" fill="#fff" opacity="0.16"/>
<rect x="1732.93" y="905.10" width="1.88" height="372.30" fill="#fff" opacity="0.16"/>
<rect x="1734.81" y="905.10" width="1.88" height="372.30" fill="#fff" opacity="0.16"/>
<path fill="#ee5a4a" d="M1404.7 1267.1h1.9v1.9h-1.9zM1534.1 956.5h1.9v1.9h-1.9zM1509.7 1123.1h1.9v1.9h-1.9zM1543.5 1130.5h1.9v1.9h-1.9zM1427.2 1035.1h1.9v1.9h-1.9zM1504.1 1119.3h1.9v1.9h-1.9zM1567.9 1274.6h1.9v1.9h-1.9zM1417.8 913.5h1.9v1.9h-1.9zM1539.7 913.5h1.9v1.9h-1.9zM1380.3 1057.6h1.9v1.9h-1.9zM1607.2 926.6h1.9v1.9h-1.9zM1547.2 1244.7h1.9v1.9h-1.9zM1592.2 1132.4h1.9v1.9h-1.9zM1502.2 1117.4h1.9v1.9h-1.9zM1402.8 1040.7h1.9v1.9h-1.9zM1567.9 1145.5h1.9v1.9h-1.9zM1404.7 1068.8h1.9v1.9h-1.9zM1545.3 1025.8h1.9v1.9h-1.9zM1729.2 909.8h1.9v1.9h-1.9zM1695.4 982.7h1.9v1.9h-1.9zM1607.2 1259.6h1.9v1.9h-1.9zM1652.3 1171.7h1.9v1.9h-1.9zM1547.2 984.6h1.9v1.9h-1.9zM1468.4 1145.5h1.9v1.9h-1.9zM1652.3 1147.4h1.9v1.9h-1.9zM1609.1 964.0h1.9v1.9h-1.9zM1687.9 1212.9h1.9v1.9h-1.9zM1415.9 969.6h1.9v1.9h-1.9zM1721.7 1001.4h1.9v1.9h-1.9zM1596.0 1068.8h1.9v1.9h-1.9zM1620.4 1158.6h1.9v1.9h-1.9zM1667.3 1246.5h1.9v1.9h-1.9zM1384.0 1008.9h1.9v1.9h-1.9zM1714.2 1212.9h1.9v1.9h-1.9zM1440.3 1216.6h1.9v1.9h-1.9zM1419.7 1007.1h1.9v1.9h-1.9zM1744.2 924.7h1.9v1.9h-1.9zM1470.3 1168.0h1.9v1.9h-1.9zM1624.1 1057.6h1.9v1.9h-1.9zM1485.3 1267.1h1.9v1.9h-1.9zM1607.2 1106.2h1.9v1.9h-1.9zM1612.9 1197.9h1.9v1.9h-1.9zM1732.9 906.0h1.9v1.9h-1.9zM1697.3 1141.8h1.9v1.9h-1.9zM1500.3 1190.4h1.9v1.9h-1.9zM1657.9 1042.6h1.9v1.9h-1.9zM1554.7 926.6h1.9v1.9h-1.9zM1376.5 1128.7h1.9v1.9h-1.9zM1577.2 1052.0h1.9v1.9h-1.9zM1521.0 1151.1h1.9v1.9h-1.9zM1521.0 911.6h1.9v1.9h-1.9zM1468.4 1083.8h1.9v1.9h-1.9zM1594.1 1242.8h1.9v1.9h-1.9zM1659.8 999.6h1.9v1.9h-1.9zM1667.3 1160.5h1.9v1.9h-1.9zM1551.0 1231.6h1.9v1.9h-1.9zM1732.9 984.6h1.9v1.9h-1.9zM1496.6 1186.7h1.9v1.9h-1.9zM1674.8 1124.9h1.9v1.9h-1.9zM1537.8 1033.3h1.9v1.9h-1.9zM1693.5 1096.9h1.9v1.9h-1.9zM1710.4 922.9h1.9v1.9h-1.9zM1669.2 1081.9h1.9v1.9h-1.9zM1729.2 1042.6h1.9v1.9h-1.9zM1472.2 997.7h1.9v1.9h-1.9zM1667.3 1143.6h1.9v1.9h-1.9zM1487.2 1081.9h1.9v1.9h-1.9zM1487.2 1156.7h1.9v1.9h-1.9zM1423.4 1124.9h1.9v1.9h-1.9zM1536.0 1207.2h1.9v1.9h-1.9zM1736.7 1078.2h1.9v1.9h-1.9zM1665.4 1018.3h1.9v1.9h-1.9zM1551.0 1111.8h1.9v1.9h-1.9zM1551.0 1171.7h1.9v1.9h-1.9zM1530.3 1095.0h1.9v1.9h-1.9zM1545.3 1177.3h1.9v1.9h-1.9zM1521.0 1001.4h1.9v1.9h-1.9zM1539.7 1182.9h1.9v1.9h-1.9zM1438.4 1141.8h1.9v1.9h-1.9zM1590.4 1246.5h1.9v1.9h-1.9zM1554.7 1207.2h1.9v1.9h-1.9zM1652.3 1145.5h1.9v1.9h-1.9zM1672.9 1218.5h1.9v1.9h-1.9zM1678.5 1156.7h1.9v1.9h-1.9zM1400.9 936.0h1.9v1.9h-1.9zM1537.8 1151.1h1.9v1.9h-1.9zM1507.8 1203.5h1.9v1.9h-1.9zM1631.6 1197.9h1.9v1.9h-1.9zM1543.5 1050.1h1.9v1.9h-1.9zM1496.6 928.5h1.9v1.9h-1.9zM1697.3 1196.0h1.9v1.9h-1.9zM1633.5 1229.7h1.9v1.9h-1.9zM1682.3 1115.6h1.9v1.9h-1.9zM1425.3 988.4h1.9v1.9h-1.9zM1590.4 1108.1h1.9v1.9h-1.9zM1521.0 1182.9h1.9v1.9h-1.9zM1712.3 1066.9h1.9v1.9h-1.9zM1706.7 1186.7h1.9v1.9h-1.9zM1592.2 1080.0h1.9v1.9h-1.9zM1421.5 1117.4h1.9v1.9h-1.9zM1588.5 1214.7h1.9v1.9h-1.9zM1519.1 1186.7h1.9v1.9h-1.9zM1648.5 1061.3h1.9v1.9h-1.9zM1442.2 1244.7h1.9v1.9h-1.9zM1686.0 1126.8h1.9v1.9h-1.9zM1507.8 1257.8h1.9v1.9h-1.9zM1408.4 1182.9h1.9v1.9h-1.9zM1504.1 1261.5h1.9v1.9h-1.9zM1732.9 911.6h1.9v1.9h-1.9zM1618.5 1050.1h1.9v1.9h-1.9zM1481.6 1100.6h1.9v1.9h-1.9zM1417.8 1252.1h1.9v1.9h-1.9zM1447.8 1072.5h1.9v1.9h-1.9zM1712.3 965.9h1.9v1.9h-1.9zM1650.4 1229.7h1.9v1.9h-1.9zM1669.2 1156.7h1.9v1.9h-1.9zM1601.6 1182.9h1.9v1.9h-1.9zM1521.0 1265.2h1.9v1.9h-1.9zM1676.7 943.5h1.9v1.9h-1.9zM1663.5 1111.8h1.9v1.9h-1.9zM1712.3 930.4h1.9v1.9h-1.9zM1539.7 1158.6h1.9v1.9h-1.9zM1434.7 1115.6h1.9v1.9h-1.9zM1605.4 922.9h1.9v1.9h-1.9zM1485.3 1132.4h1.9v1.9h-1.9zM1695.4 1209.1h1.9v1.9h-1.9zM1545.3 1177.3h1.9v1.9h-1.9zM1727.3 969.6h1.9v1.9h-1.9zM1464.7 941.6h1.9v1.9h-1.9zM1626.0 990.2h1.9v1.9h-1.9zM1592.2 1050.1h1.9v1.9h-1.9zM1732.9 973.4h1.9v1.9h-1.9zM1697.3 982.7h1.9v1.9h-1.9zM1438.4 1095.0h1.9v1.9h-1.9zM1410.3 924.7h1.9v1.9h-1.9zM1507.8 1087.5h1.9v1.9h-1.9zM1614.8 1020.2h1.9v1.9h-1.9zM1708.5 965.9h1.9v1.9h-1.9zM1438.4 1199.8h1.9v1.9h-1.9zM1650.4 1181.1h1.9v1.9h-1.9zM1400.9 1027.6h1.9v1.9h-1.9zM1746.1 1080.0h1.9v1.9h-1.9zM1496.6 952.8h1.9v1.9h-1.9zM1642.9 911.6h1.9v1.9h-1.9zM1496.6 1126.8h1.9v1.9h-1.9zM1504.1 956.5h1.9v1.9h-1.9zM1714.2 1134.3h1.9v1.9h-1.9zM1654.1 1186.7h1.9v1.9h-1.9zM1421.5 1226.0h1.9v1.9h-1.9zM1586.6 1169.8h1.9v1.9h-1.9zM1618.5 1068.8h1.9v1.9h-1.9zM1659.8 911.6h1.9v1.9h-1.9zM1710.4 1076.3h1.9v1.9h-1.9zM1665.4 1115.6h1.9v1.9h-1.9zM1425.3 1139.9h1.9v1.9h-1.9zM1449.7 1263.4h1.9v1.9h-1.9zM1504.1 913.5h1.9v1.9h-1.9zM1672.9 1025.8h1.9v1.9h-1.9zM1434.7 1038.9h1.9v1.9h-1.9zM1729.2 1196.0h1.9v1.9h-1.9zM1554.7 1254.0h1.9v1.9h-1.9zM1596.0 1074.4h1.9v1.9h-1.9zM1526.6 1272.7h1.9v1.9h-1.9zM1691.7 1007.1h1.9v1.9h-1.9zM1665.4 962.2h1.9v1.9h-1.9zM1515.3 1106.2h1.9v1.9h-1.9zM1656.0 926.6h1.9v1.9h-1.9zM1571.6 1196.0h1.9v1.9h-1.9zM1468.4 1240.9h1.9v1.9h-1.9zM1622.3 1089.4h1.9v1.9h-1.9zM1650.4 1188.5h1.9v1.9h-1.9zM1391.5 950.9h1.9v1.9h-1.9zM1680.4 1029.5h1.9v1.9h-1.9zM1534.1 1252.1h1.9v1.9h-1.9zM1624.1 1007.1h1.9v1.9h-1.9zM1603.5 926.6h1.9v1.9h-1.9zM1410.3 1153.0h1.9v1.9h-1.9zM1487.2 1128.7h1.9v1.9h-1.9zM1562.2 913.5h1.9v1.9h-1.9zM1639.1 1072.5h1.9v1.9h-1.9zM1635.4 936.0h1.9v1.9h-1.9zM1596.0 1182.9h1.9v1.9h-1.9zM1605.4 1169.8h1.9v1.9h-1.9zM1624.1 1008.9h1.9v1.9h-1.9zM1560.3 1272.7h1.9v1.9h-1.9zM1596.0 1087.5h1.9v1.9h-1.9zM1605.4 930.4h1.9v1.9h-1.9zM1545.3 1113.7h1.9v1.9h-1.9zM1603.5 1235.3h1.9v1.9h-1.9zM1500.3 1038.9h1.9v1.9h-1.9zM1729.2 1164.2h1.9v1.9h-1.9zM1686.0 926.6h1.9v1.9h-1.9zM1451.5 1235.3h1.9v1.9h-1.9zM1654.1 1212.9h1.9v1.9h-1.9zM1440.3 1141.8h1.9v1.9h-1.9zM1635.4 1087.5h1.9v1.9h-1.9zM1734.8 1044.5h1.9v1.9h-1.9zM1706.7 1199.8h1.9v1.9h-1.9zM1500.3 921.0h1.9v1.9h-1.9zM1746.1 1162.3h1.9v1.9h-1.9zM1684.2 1055.7h1.9v1.9h-1.9zM1687.9 1272.7h1.9v1.9h-1.9zM1697.3 911.6h1.9v1.9h-1.9zM1573.5 1070.7h1.9v1.9h-1.9zM1732.9 1175.4h1.9v1.9h-1.9zM1746.1 928.5h1.9v1.9h-1.9zM1528.5 1272.7h1.9v1.9h-1.9zM1440.3 1169.8h1.9v1.9h-1.9zM1399.0 1053.8h1.9v1.9h-1.9zM1477.8 941.6h1.9v1.9h-1.9zM1408.4 1083.8h1.9v1.9h-1.9zM1704.8 1229.7h1.9v1.9h-1.9zM1648.5 1242.8h1.9v1.9h-1.9zM1727.3 1008.9h1.9v1.9h-1.9zM1631.6 1134.3h1.9v1.9h-1.9zM1487.2 1229.7h1.9v1.9h-1.9zM1372.8 1267.1h1.9v1.9h-1.9zM1504.1 1085.6h1.9v1.9h-1.9zM1500.3 1171.7h1.9v1.9h-1.9zM1429.0 1111.8h1.9v1.9h-1.9zM1746.1 1113.7h1.9v1.9h-1.9zM1609.1 1261.5h1.9v1.9h-1.9zM1597.9 1106.2h1.9v1.9h-1.9zM1505.9 967.8h1.9v1.9h-1.9zM1436.5 1117.4h1.9v1.9h-1.9zM1442.2 1111.8h1.9v1.9h-1.9z"/>
<path fill="#c9a98e" d="M1521.0 911.6h1.9v1.9h-1.9zM1521.0 1261.5h1.9v1.9h-1.9zM1586.6 1091.3h1.9v1.9h-1.9zM1582.9 1078.2h1.9v1.9h-1.9zM1594.1 1098.7h1.9v1.9h-1.9zM1584.7 1059.4h1.9v1.9h-1.9zM1650.4 962.2h1.9v1.9h-1.9zM1567.9 1274.6h1.9v1.9h-1.9zM1597.9 1272.7h1.9v1.9h-1.9zM1496.6 990.2h1.9v1.9h-1.9zM1656.0 1038.9h1.9v1.9h-1.9zM1410.3 922.9h1.9v1.9h-1.9zM1408.4 979.0h1.9v1.9h-1.9zM1457.2 1083.8h1.9v1.9h-1.9zM1417.8 1252.1h1.9v1.9h-1.9zM1492.8 962.2h1.9v1.9h-1.9zM1582.9 1018.3h1.9v1.9h-1.9zM1678.5 907.9h1.9v1.9h-1.9zM1702.9 909.8h1.9v1.9h-1.9zM1596.0 956.5h1.9v1.9h-1.9zM1400.9 949.1h1.9v1.9h-1.9zM1430.9 1190.4h1.9v1.9h-1.9zM1457.2 1136.2h1.9v1.9h-1.9zM1425.3 1220.3h1.9v1.9h-1.9zM1656.0 1063.2h1.9v1.9h-1.9zM1695.4 994.0h1.9v1.9h-1.9zM1710.4 1093.1h1.9v1.9h-1.9zM1746.1 952.8h1.9v1.9h-1.9zM1477.8 1083.8h1.9v1.9h-1.9zM1539.7 1087.5h1.9v1.9h-1.9zM1731.1 1025.8h1.9v1.9h-1.9zM1633.5 1160.5h1.9v1.9h-1.9zM1485.3 1096.9h1.9v1.9h-1.9zM1639.1 1168.0h1.9v1.9h-1.9zM1453.4 964.0h1.9v1.9h-1.9zM1596.0 979.0h1.9v1.9h-1.9zM1656.0 1168.0h1.9v1.9h-1.9zM1496.6 1121.2h1.9v1.9h-1.9zM1462.8 1106.2h1.9v1.9h-1.9zM1665.4 1132.4h1.9v1.9h-1.9zM1603.5 1263.4h1.9v1.9h-1.9zM1515.3 1197.9h1.9v1.9h-1.9zM1704.8 1057.6h1.9v1.9h-1.9zM1429.0 1102.5h1.9v1.9h-1.9zM1408.4 1252.1h1.9v1.9h-1.9zM1629.8 1139.9h1.9v1.9h-1.9zM1592.2 960.3h1.9v1.9h-1.9zM1449.7 1123.1h1.9v1.9h-1.9zM1721.7 1059.4h1.9v1.9h-1.9zM1459.1 964.0h1.9v1.9h-1.9zM1425.3 922.9h1.9v1.9h-1.9zM1678.5 990.2h1.9v1.9h-1.9zM1695.4 1214.7h1.9v1.9h-1.9zM1719.8 1196.0h1.9v1.9h-1.9zM1725.4 1149.2h1.9v1.9h-1.9zM1663.5 943.5h1.9v1.9h-1.9zM1633.5 1141.8h1.9v1.9h-1.9zM1419.7 956.5h1.9v1.9h-1.9zM1415.9 1027.6h1.9v1.9h-1.9zM1534.1 1182.9h1.9v1.9h-1.9zM1746.1 1179.2h1.9v1.9h-1.9zM1487.2 1063.2h1.9v1.9h-1.9zM1472.2 921.0h1.9v1.9h-1.9zM1551.0 1038.9h1.9v1.9h-1.9zM1648.5 1164.2h1.9v1.9h-1.9zM1656.0 1211.0h1.9v1.9h-1.9zM1556.6 1231.6h1.9v1.9h-1.9zM1519.1 1160.5h1.9v1.9h-1.9zM1459.1 1235.3h1.9v1.9h-1.9zM1639.1 1194.1h1.9v1.9h-1.9zM1592.2 1029.5h1.9v1.9h-1.9zM1710.4 1156.7h1.9v1.9h-1.9zM1620.4 1182.9h1.9v1.9h-1.9zM1522.8 1257.8h1.9v1.9h-1.9zM1612.9 932.2h1.9v1.9h-1.9zM1492.8 1164.2h1.9v1.9h-1.9zM1558.5 967.8h1.9v1.9h-1.9zM1596.0 1096.9h1.9v1.9h-1.9zM1667.3 1229.7h1.9v1.9h-1.9zM1430.9 1171.7h1.9v1.9h-1.9zM1631.6 1196.0h1.9v1.9h-1.9zM1607.2 1203.5h1.9v1.9h-1.9zM1586.6 1166.1h1.9v1.9h-1.9zM1594.1 1156.7h1.9v1.9h-1.9zM1727.3 1100.6h1.9v1.9h-1.9zM1468.4 1269.0h1.9v1.9h-1.9zM1702.9 1154.9h1.9v1.9h-1.9zM1496.6 1031.4h1.9v1.9h-1.9zM1449.7 1117.4h1.9v1.9h-1.9zM1618.5 1272.7h1.9v1.9h-1.9zM1524.7 926.6h1.9v1.9h-1.9zM1654.1 1068.8h1.9v1.9h-1.9zM1522.8 1255.9h1.9v1.9h-1.9zM1680.4 1166.1h1.9v1.9h-1.9zM1590.4 1147.4h1.9v1.9h-1.9zM1631.6 1182.9h1.9v1.9h-1.9zM1659.8 1123.1h1.9v1.9h-1.9zM1567.9 1240.9h1.9v1.9h-1.9zM1436.5 1117.4h1.9v1.9h-1.9zM1509.7 1250.3h1.9v1.9h-1.9zM1639.1 1188.5h1.9v1.9h-1.9zM1564.1 1255.9h1.9v1.9h-1.9zM1680.4 1276.5h1.9v1.9h-1.9zM1477.8 1261.5h1.9v1.9h-1.9zM1492.8 1160.5h1.9v1.9h-1.9zM1603.5 1087.5h1.9v1.9h-1.9zM1624.1 1057.6h1.9v1.9h-1.9zM1468.4 1261.5h1.9v1.9h-1.9zM1425.3 997.7h1.9v1.9h-1.9zM1547.2 1068.8h1.9v1.9h-1.9zM1515.3 1136.2h1.9v1.9h-1.9zM1672.9 980.9h1.9v1.9h-1.9zM1695.4 1224.1h1.9v1.9h-1.9zM1712.3 952.8h1.9v1.9h-1.9zM1731.1 984.6h1.9v1.9h-1.9zM1734.8 1070.7h1.9v1.9h-1.9zM1659.8 926.6h1.9v1.9h-1.9zM1594.1 1059.4h1.9v1.9h-1.9zM1665.4 1008.9h1.9v1.9h-1.9zM1614.8 1242.8h1.9v1.9h-1.9zM1716.0 1179.2h1.9v1.9h-1.9zM1652.3 1145.5h1.9v1.9h-1.9zM1659.8 1255.9h1.9v1.9h-1.9zM1605.4 969.6h1.9v1.9h-1.9zM1573.5 1016.4h1.9v1.9h-1.9zM1434.7 1164.2h1.9v1.9h-1.9zM1676.7 950.9h1.9v1.9h-1.9zM1697.3 1042.6h1.9v1.9h-1.9zM1459.1 1265.2h1.9v1.9h-1.9zM1669.2 988.4h1.9v1.9h-1.9zM1687.9 967.8h1.9v1.9h-1.9zM1537.8 1229.7h1.9v1.9h-1.9zM1551.0 1164.2h1.9v1.9h-1.9zM1734.8 1020.2h1.9v1.9h-1.9zM1746.1 1233.4h1.9v1.9h-1.9zM1522.8 1203.5h1.9v1.9h-1.9zM1727.3 1164.2h1.9v1.9h-1.9zM1744.2 1098.7h1.9v1.9h-1.9zM1410.3 921.0h1.9v1.9h-1.9zM1521.0 1237.2h1.9v1.9h-1.9zM1695.4 1138.0h1.9v1.9h-1.9zM1592.2 1166.1h1.9v1.9h-1.9zM1457.2 1226.0h1.9v1.9h-1.9zM1665.4 1046.3h1.9v1.9h-1.9zM1496.6 1250.3h1.9v1.9h-1.9zM1659.8 1074.4h1.9v1.9h-1.9zM1678.5 1216.6h1.9v1.9h-1.9z"/>
<path fill="#5b9bc9" d="M1430.9 1119.3h1.9v1.9h-1.9zM1528.5 1194.1h1.9v1.9h-1.9zM1729.2 1171.7h1.9v1.9h-1.9zM1479.7 979.0h1.9v1.9h-1.9zM1547.2 1003.3h1.9v1.9h-1.9zM1603.5 1199.8h1.9v1.9h-1.9zM1438.4 992.1h1.9v1.9h-1.9zM1627.9 1046.3h1.9v1.9h-1.9zM1652.3 1085.6h1.9v1.9h-1.9zM1536.0 1156.7h1.9v1.9h-1.9zM1618.5 1194.1h1.9v1.9h-1.9zM1687.9 964.0h1.9v1.9h-1.9zM1650.4 1139.9h1.9v1.9h-1.9zM1734.8 939.7h1.9v1.9h-1.9zM1603.5 941.6h1.9v1.9h-1.9zM1652.3 1008.9h1.9v1.9h-1.9zM1622.3 1192.3h1.9v1.9h-1.9zM1674.8 962.2h1.9v1.9h-1.9zM1528.5 1203.5h1.9v1.9h-1.9zM1648.5 1081.9h1.9v1.9h-1.9zM1639.1 1173.6h1.9v1.9h-1.9zM1496.6 995.8h1.9v1.9h-1.9zM1644.8 1151.1h1.9v1.9h-1.9zM1408.4 1263.4h1.9v1.9h-1.9zM1372.8 1259.6h1.9v1.9h-1.9zM1729.2 960.3h1.9v1.9h-1.9zM1534.1 1257.8h1.9v1.9h-1.9zM1584.7 949.1h1.9v1.9h-1.9zM1547.2 1265.2h1.9v1.9h-1.9zM1629.8 915.4h1.9v1.9h-1.9zM1449.7 1164.2h1.9v1.9h-1.9zM1684.2 1057.6h1.9v1.9h-1.9zM1626.0 971.5h1.9v1.9h-1.9zM1496.6 1216.6h1.9v1.9h-1.9zM1596.0 1224.1h1.9v1.9h-1.9zM1517.2 1246.5h1.9v1.9h-1.9zM1669.2 997.7h1.9v1.9h-1.9zM1528.5 1257.8h1.9v1.9h-1.9zM1556.6 1121.2h1.9v1.9h-1.9zM1419.7 1038.9h1.9v1.9h-1.9zM1631.6 1012.7h1.9v1.9h-1.9zM1462.8 1194.1h1.9v1.9h-1.9zM1417.8 1074.4h1.9v1.9h-1.9zM1642.9 913.5h1.9v1.9h-1.9zM1444.0 1158.6h1.9v1.9h-1.9zM1571.6 1160.5h1.9v1.9h-1.9zM1577.2 1016.4h1.9v1.9h-1.9zM1716.0 986.5h1.9v1.9h-1.9zM1573.5 1057.6h1.9v1.9h-1.9zM1674.8 1211.0h1.9v1.9h-1.9zM1650.4 1192.3h1.9v1.9h-1.9zM1596.0 1261.5h1.9v1.9h-1.9zM1522.8 1197.9h1.9v1.9h-1.9zM1515.3 1242.8h1.9v1.9h-1.9zM1727.3 1091.3h1.9v1.9h-1.9zM1597.9 1197.9h1.9v1.9h-1.9zM1639.1 932.2h1.9v1.9h-1.9zM1528.5 1203.5h1.9v1.9h-1.9zM1618.5 1235.3h1.9v1.9h-1.9zM1717.9 1121.2h1.9v1.9h-1.9zM1515.3 1265.2h1.9v1.9h-1.9zM1374.6 932.2h1.9v1.9h-1.9zM1622.3 1033.3h1.9v1.9h-1.9zM1519.1 1031.4h1.9v1.9h-1.9zM1697.3 1134.3h1.9v1.9h-1.9zM1695.4 1153.0h1.9v1.9h-1.9zM1434.7 960.3h1.9v1.9h-1.9zM1485.3 1050.1h1.9v1.9h-1.9zM1717.9 1173.6h1.9v1.9h-1.9zM1440.3 1081.9h1.9v1.9h-1.9zM1552.8 1145.5h1.9v1.9h-1.9zM1710.4 928.5h1.9v1.9h-1.9zM1440.3 1270.9h1.9v1.9h-1.9zM1500.3 1149.2h1.9v1.9h-1.9zM1740.4 1108.1h1.9v1.9h-1.9zM1400.9 1057.6h1.9v1.9h-1.9zM1579.1 1134.3h1.9v1.9h-1.9zM1417.8 1263.4h1.9v1.9h-1.9zM1577.2 1207.2h1.9v1.9h-1.9zM1539.7 1252.1h1.9v1.9h-1.9zM1505.9 1022.0h1.9v1.9h-1.9zM1665.4 1016.4h1.9v1.9h-1.9zM1490.9 1156.7h1.9v1.9h-1.9zM1633.5 1121.2h1.9v1.9h-1.9zM1485.3 1267.1h1.9v1.9h-1.9zM1474.1 1081.9h1.9v1.9h-1.9zM1689.8 992.1h1.9v1.9h-1.9zM1667.3 1190.4h1.9v1.9h-1.9zM1500.3 1007.1h1.9v1.9h-1.9zM1629.8 994.0h1.9v1.9h-1.9zM1616.6 1261.5h1.9v1.9h-1.9zM1507.8 1096.9h1.9v1.9h-1.9zM1444.0 1078.2h1.9v1.9h-1.9zM1601.6 1237.2h1.9v1.9h-1.9zM1618.5 1194.1h1.9v1.9h-1.9zM1605.4 922.9h1.9v1.9h-1.9zM1521.0 1068.8h1.9v1.9h-1.9zM1674.8 992.1h1.9v1.9h-1.9zM1633.5 1212.9h1.9v1.9h-1.9zM1710.4 922.9h1.9v1.9h-1.9zM1434.7 1151.1h1.9v1.9h-1.9zM1665.4 1100.6h1.9v1.9h-1.9zM1410.3 1250.3h1.9v1.9h-1.9zM1667.3 1121.2h1.9v1.9h-1.9zM1492.8 1147.4h1.9v1.9h-1.9zM1597.9 1235.3h1.9v1.9h-1.9zM1665.4 975.3h1.9v1.9h-1.9zM1706.7 1246.5h1.9v1.9h-1.9zM1442.2 952.8h1.9v1.9h-1.9zM1429.0 1063.2h1.9v1.9h-1.9zM1607.2 964.0h1.9v1.9h-1.9zM1633.5 1014.5h1.9v1.9h-1.9zM1464.7 1259.6h1.9v1.9h-1.9zM1652.3 1184.8h1.9v1.9h-1.9zM1676.7 1081.9h1.9v1.9h-1.9zM1410.3 1201.6h1.9v1.9h-1.9zM1704.8 1001.4h1.9v1.9h-1.9zM1429.0 1257.8h1.9v1.9h-1.9zM1447.8 1267.1h1.9v1.9h-1.9zM1519.1 1190.4h1.9v1.9h-1.9zM1584.7 1063.2h1.9v1.9h-1.9zM1654.1 926.6h1.9v1.9h-1.9zM1746.1 1197.9h1.9v1.9h-1.9zM1551.0 949.1h1.9v1.9h-1.9zM1577.2 1214.7h1.9v1.9h-1.9zM1607.2 1263.4h1.9v1.9h-1.9zM1582.9 1027.6h1.9v1.9h-1.9zM1654.1 1106.2h1.9v1.9h-1.9zM1421.5 1132.4h1.9v1.9h-1.9zM1635.4 1050.1h1.9v1.9h-1.9zM1641.0 1218.5h1.9v1.9h-1.9zM1457.2 1068.8h1.9v1.9h-1.9zM1699.2 1108.1h1.9v1.9h-1.9zM1415.9 952.8h1.9v1.9h-1.9zM1560.3 941.6h1.9v1.9h-1.9zM1689.8 1259.6h1.9v1.9h-1.9zM1661.6 1194.1h1.9v1.9h-1.9zM1654.1 1192.3h1.9v1.9h-1.9zM1727.3 1008.9h1.9v1.9h-1.9zM1699.2 1276.5h1.9v1.9h-1.9zM1717.9 1136.2h1.9v1.9h-1.9zM1541.6 1255.9h1.9v1.9h-1.9zM1697.3 1126.8h1.9v1.9h-1.9zM1614.8 1005.2h1.9v1.9h-1.9zM1372.8 1055.7h1.9v1.9h-1.9zM1436.5 1169.8h1.9v1.9h-1.9zM1539.7 971.5h1.9v1.9h-1.9zM1515.3 1119.3h1.9v1.9h-1.9zM1498.4 1270.9h1.9v1.9h-1.9zM1676.7 922.9h1.9v1.9h-1.9zM1536.0 1139.9h1.9v1.9h-1.9zM1656.0 950.9h1.9v1.9h-1.9zM1451.5 1130.5h1.9v1.9h-1.9zM1635.4 1081.9h1.9v1.9h-1.9zM1519.1 909.8h1.9v1.9h-1.9zM1592.2 1160.5h1.9v1.9h-1.9zM1579.1 1235.3h1.9v1.9h-1.9zM1436.5 1091.3h1.9v1.9h-1.9zM1710.4 1087.5h1.9v1.9h-1.9zM1521.0 1035.1h1.9v1.9h-1.9zM1551.0 1186.7h1.9v1.9h-1.9zM1729.2 1096.9h1.9v1.9h-1.9zM1485.3 1269.0h1.9v1.9h-1.9zM1650.4 1053.8h1.9v1.9h-1.9zM1656.0 1197.9h1.9v1.9h-1.9zM1509.7 992.1h1.9v1.9h-1.9zM1714.2 924.7h1.9v1.9h-1.9zM1522.8 1252.1h1.9v1.9h-1.9zM1691.7 962.2h1.9v1.9h-1.9zM1445.9 965.9h1.9v1.9h-1.9zM1716.0 1113.7h1.9v1.9h-1.9zM1695.4 947.2h1.9v1.9h-1.9zM1672.9 1025.8h1.9v1.9h-1.9zM1684.2 1113.7h1.9v1.9h-1.9zM1596.0 937.8h1.9v1.9h-1.9zM1459.1 990.2h1.9v1.9h-1.9zM1714.2 1091.3h1.9v1.9h-1.9zM1603.5 964.0h1.9v1.9h-1.9zM1622.3 1132.4h1.9v1.9h-1.9zM1657.9 1265.2h1.9v1.9h-1.9zM1560.3 947.2h1.9v1.9h-1.9zM1487.2 917.3h1.9v1.9h-1.9zM1536.0 986.5h1.9v1.9h-1.9zM1644.8 1018.3h1.9v1.9h-1.9zM1519.1 1048.2h1.9v1.9h-1.9zM1667.3 1229.7h1.9v1.9h-1.9zM1475.9 1106.2h1.9v1.9h-1.9zM1382.1 913.5h1.9v1.9h-1.9zM1582.9 1059.4h1.9v1.9h-1.9zM1519.1 1214.7h1.9v1.9h-1.9zM1577.2 1070.7h1.9v1.9h-1.9zM1571.6 921.0h1.9v1.9h-1.9zM1665.4 1211.0h1.9v1.9h-1.9zM1449.7 926.6h1.9v1.9h-1.9zM1440.3 1033.3h1.9v1.9h-1.9zM1734.8 986.5h1.9v1.9h-1.9zM1541.6 1096.9h1.9v1.9h-1.9zM1727.3 960.3h1.9v1.9h-1.9zM1474.1 1154.9h1.9v1.9h-1.9zM1652.3 1048.2h1.9v1.9h-1.9zM1672.9 1066.9h1.9v1.9h-1.9zM1528.5 1227.8h1.9v1.9h-1.9zM1704.8 1154.9h1.9v1.9h-1.9zM1744.2 1132.4h1.9v1.9h-1.9zM1500.3 1169.8h1.9v1.9h-1.9zM1716.0 919.1h1.9v1.9h-1.9zM1498.4 1052.0h1.9v1.9h-1.9zM1732.9 1098.7h1.9v1.9h-1.9zM1382.1 1035.1h1.9v1.9h-1.9zM1684.2 941.6h1.9v1.9h-1.9zM1560.3 1237.2h1.9v1.9h-1.9zM1438.4 1244.7h1.9v1.9h-1.9zM1560.3 1037.0h1.9v1.9h-1.9zM1597.9 1171.7h1.9v1.9h-1.9zM1459.1 1050.1h1.9v1.9h-1.9zM1449.7 932.2h1.9v1.9h-1.9zM1496.6 1068.8h1.9v1.9h-1.9zM1648.5 1196.0h1.9v1.9h-1.9zM1648.5 1154.9h1.9v1.9h-1.9zM1618.5 1227.8h1.9v1.9h-1.9zM1378.4 1076.3h1.9v1.9h-1.9zM1519.1 1042.6h1.9v1.9h-1.9zM1581.0 1197.9h1.9v1.9h-1.9z"/>
<path fill="#f4a46a" d="M1528.5 1269.0h1.9v1.9h-1.9zM1590.4 1196.0h1.9v1.9h-1.9zM1432.8 909.8h1.9v1.9h-1.9zM1639.1 1197.9h1.9v1.9h-1.9zM1740.4 1190.4h1.9v1.9h-1.9zM1457.2 1119.3h1.9v1.9h-1.9zM1650.4 950.9h1.9v1.9h-1.9zM1641.0 1102.5h1.9v1.9h-1.9zM1680.4 1038.9h1.9v1.9h-1.9zM1687.9 1003.3h1.9v1.9h-1.9zM1496.6 992.1h1.9v1.9h-1.9zM1464.7 1153.0h1.9v1.9h-1.9zM1631.6 934.1h1.9v1.9h-1.9zM1436.5 1042.6h1.9v1.9h-1.9zM1719.8 1113.7h1.9v1.9h-1.9zM1629.8 1053.8h1.9v1.9h-1.9zM1496.6 1018.3h1.9v1.9h-1.9zM1624.1 1250.3h1.9v1.9h-1.9zM1627.9 1108.1h1.9v1.9h-1.9zM1560.3 977.1h1.9v1.9h-1.9zM1539.7 999.6h1.9v1.9h-1.9zM1434.7 1231.6h1.9v1.9h-1.9zM1511.6 1175.4h1.9v1.9h-1.9zM1633.5 1046.3h1.9v1.9h-1.9zM1522.8 1199.8h1.9v1.9h-1.9zM1704.8 1211.0h1.9v1.9h-1.9zM1560.3 1123.1h1.9v1.9h-1.9zM1442.2 937.8h1.9v1.9h-1.9zM1697.3 962.2h1.9v1.9h-1.9zM1584.7 958.4h1.9v1.9h-1.9zM1659.8 911.6h1.9v1.9h-1.9zM1374.6 979.0h1.9v1.9h-1.9zM1432.8 1171.7h1.9v1.9h-1.9zM1731.1 982.7h1.9v1.9h-1.9zM1706.7 1037.0h1.9v1.9h-1.9zM1558.5 1197.9h1.9v1.9h-1.9zM1505.9 964.0h1.9v1.9h-1.9zM1629.8 982.7h1.9v1.9h-1.9zM1470.3 1190.4h1.9v1.9h-1.9zM1470.3 1151.1h1.9v1.9h-1.9zM1716.0 1248.4h1.9v1.9h-1.9zM1676.7 1008.9h1.9v1.9h-1.9zM1567.9 1108.1h1.9v1.9h-1.9zM1738.6 1117.4h1.9v1.9h-1.9zM1746.1 965.9h1.9v1.9h-1.9zM1665.4 1145.5h1.9v1.9h-1.9zM1656.0 1085.6h1.9v1.9h-1.9zM1415.9 1231.6h1.9v1.9h-1.9zM1605.4 1080.0h1.9v1.9h-1.9zM1586.6 1240.9h1.9v1.9h-1.9zM1721.7 997.7h1.9v1.9h-1.9zM1425.3 1233.4h1.9v1.9h-1.9zM1380.3 1057.6h1.9v1.9h-1.9zM1552.8 1214.7h1.9v1.9h-1.9zM1500.3 1151.1h1.9v1.9h-1.9zM1710.4 1065.1h1.9v1.9h-1.9zM1736.7 960.3h1.9v1.9h-1.9zM1588.5 1160.5h1.9v1.9h-1.9zM1611.0 926.6h1.9v1.9h-1.9zM1421.5 1168.0h1.9v1.9h-1.9zM1618.5 1158.6h1.9v1.9h-1.9zM1594.1 1233.4h1.9v1.9h-1.9zM1734.8 1076.3h1.9v1.9h-1.9zM1545.3 1179.2h1.9v1.9h-1.9zM1635.4 1220.3h1.9v1.9h-1.9zM1492.8 1081.9h1.9v1.9h-1.9zM1691.7 973.4h1.9v1.9h-1.9zM1517.2 1257.8h1.9v1.9h-1.9zM1505.9 990.2h1.9v1.9h-1.9zM1502.2 1083.8h1.9v1.9h-1.9zM1579.1 1029.5h1.9v1.9h-1.9zM1453.4 1197.9h1.9v1.9h-1.9zM1524.7 1138.0h1.9v1.9h-1.9zM1678.5 1164.2h1.9v1.9h-1.9zM1378.4 1074.4h1.9v1.9h-1.9zM1586.6 1151.1h1.9v1.9h-1.9zM1594.1 1132.4h1.9v1.9h-1.9zM1712.3 1179.2h1.9v1.9h-1.9zM1571.6 960.3h1.9v1.9h-1.9zM1453.4 1158.6h1.9v1.9h-1.9zM1697.3 1171.7h1.9v1.9h-1.9zM1410.3 1027.6h1.9v1.9h-1.9zM1575.4 911.6h1.9v1.9h-1.9zM1736.7 1196.0h1.9v1.9h-1.9zM1697.3 1160.5h1.9v1.9h-1.9zM1744.2 1014.5h1.9v1.9h-1.9zM1607.2 1123.1h1.9v1.9h-1.9zM1447.8 1050.1h1.9v1.9h-1.9zM1626.0 943.5h1.9v1.9h-1.9zM1594.1 1226.0h1.9v1.9h-1.9zM1586.6 1254.0h1.9v1.9h-1.9zM1536.0 1022.0h1.9v1.9h-1.9zM1432.8 1270.9h1.9v1.9h-1.9zM1663.5 1194.1h1.9v1.9h-1.9zM1492.8 1078.2h1.9v1.9h-1.9zM1603.5 1173.6h1.9v1.9h-1.9zM1406.5 1257.8h1.9v1.9h-1.9zM1635.4 1115.6h1.9v1.9h-1.9zM1637.3 921.0h1.9v1.9h-1.9zM1462.8 1117.4h1.9v1.9h-1.9zM1603.5 1267.1h1.9v1.9h-1.9zM1447.8 1265.2h1.9v1.9h-1.9zM1596.0 1265.2h1.9v1.9h-1.9zM1661.6 1037.0h1.9v1.9h-1.9zM1537.8 1211.0h1.9v1.9h-1.9zM1665.4 1001.4h1.9v1.9h-1.9zM1714.2 1138.0h1.9v1.9h-1.9zM1582.9 999.6h1.9v1.9h-1.9zM1558.5 1194.1h1.9v1.9h-1.9zM1494.7 1046.3h1.9v1.9h-1.9zM1744.2 1222.2h1.9v1.9h-1.9zM1564.1 1158.6h1.9v1.9h-1.9zM1372.8 965.9h1.9v1.9h-1.9zM1652.3 1048.2h1.9v1.9h-1.9zM1502.2 1136.2h1.9v1.9h-1.9zM1659.8 1229.7h1.9v1.9h-1.9zM1543.5 1117.4h1.9v1.9h-1.9zM1650.4 1055.7h1.9v1.9h-1.9zM1457.2 1263.4h1.9v1.9h-1.9zM1704.8 907.9h1.9v1.9h-1.9zM1549.1 1044.5h1.9v1.9h-1.9zM1419.7 1031.4h1.9v1.9h-1.9zM1502.2 1168.0h1.9v1.9h-1.9zM1624.1 1250.3h1.9v1.9h-1.9zM1727.3 1270.9h1.9v1.9h-1.9zM1372.8 1203.5h1.9v1.9h-1.9zM1641.0 1003.3h1.9v1.9h-1.9zM1532.2 1076.3h1.9v1.9h-1.9zM1419.7 1158.6h1.9v1.9h-1.9zM1537.8 1053.8h1.9v1.9h-1.9zM1399.0 1052.0h1.9v1.9h-1.9zM1479.7 1197.9h1.9v1.9h-1.9zM1706.7 1111.8h1.9v1.9h-1.9zM1539.7 1267.1h1.9v1.9h-1.9zM1384.0 1169.8h1.9v1.9h-1.9zM1558.5 1252.1h1.9v1.9h-1.9zM1515.3 1235.3h1.9v1.9h-1.9zM1605.4 921.0h1.9v1.9h-1.9zM1560.3 1121.2h1.9v1.9h-1.9zM1674.8 1162.3h1.9v1.9h-1.9zM1734.8 1059.4h1.9v1.9h-1.9zM1425.3 922.9h1.9v1.9h-1.9zM1415.9 1141.8h1.9v1.9h-1.9zM1519.1 962.2h1.9v1.9h-1.9zM1539.7 964.0h1.9v1.9h-1.9zM1680.4 1216.6h1.9v1.9h-1.9zM1519.1 1211.0h1.9v1.9h-1.9zM1475.9 1154.9h1.9v1.9h-1.9zM1502.2 1269.0h1.9v1.9h-1.9zM1702.9 997.7h1.9v1.9h-1.9zM1415.9 962.2h1.9v1.9h-1.9zM1582.9 1246.5h1.9v1.9h-1.9zM1494.7 1201.6h1.9v1.9h-1.9zM1579.1 909.8h1.9v1.9h-1.9zM1571.6 1254.0h1.9v1.9h-1.9zM1629.8 1040.7h1.9v1.9h-1.9zM1663.5 1065.1h1.9v1.9h-1.9zM1725.4 1156.7h1.9v1.9h-1.9zM1573.5 1175.4h1.9v1.9h-1.9zM1588.5 1145.5h1.9v1.9h-1.9zM1719.8 1171.7h1.9v1.9h-1.9zM1712.3 1179.2h1.9v1.9h-1.9zM1590.4 1044.5h1.9v1.9h-1.9zM1627.9 1100.6h1.9v1.9h-1.9zM1391.5 1022.0h1.9v1.9h-1.9zM1652.3 1048.2h1.9v1.9h-1.9zM1419.7 1003.3h1.9v1.9h-1.9zM1505.9 956.5h1.9v1.9h-1.9zM1442.2 1138.0h1.9v1.9h-1.9zM1536.0 1246.5h1.9v1.9h-1.9zM1372.8 1063.2h1.9v1.9h-1.9zM1648.5 1190.4h1.9v1.9h-1.9zM1592.2 1184.8h1.9v1.9h-1.9zM1732.9 1218.5h1.9v1.9h-1.9zM1554.7 1096.9h1.9v1.9h-1.9zM1732.9 1012.7h1.9v1.9h-1.9zM1389.6 1087.5h1.9v1.9h-1.9zM1633.5 1057.6h1.9v1.9h-1.9zM1395.3 1269.0h1.9v1.9h-1.9zM1644.8 1250.3h1.9v1.9h-1.9zM1701.0 1106.2h1.9v1.9h-1.9zM1560.3 1203.5h1.9v1.9h-1.9zM1732.9 1035.1h1.9v1.9h-1.9zM1440.3 1008.9h1.9v1.9h-1.9zM1562.2 958.4h1.9v1.9h-1.9zM1554.7 1265.2h1.9v1.9h-1.9zM1412.2 1096.9h1.9v1.9h-1.9zM1442.2 1259.6h1.9v1.9h-1.9zM1661.6 1053.8h1.9v1.9h-1.9zM1560.3 1087.5h1.9v1.9h-1.9zM1740.4 952.8h1.9v1.9h-1.9zM1551.0 1078.2h1.9v1.9h-1.9zM1672.9 977.1h1.9v1.9h-1.9zM1468.4 992.1h1.9v1.9h-1.9zM1577.2 930.4h1.9v1.9h-1.9zM1706.7 1179.2h1.9v1.9h-1.9zM1384.0 1220.3h1.9v1.9h-1.9zM1672.9 924.7h1.9v1.9h-1.9zM1646.6 1110.0h1.9v1.9h-1.9zM1609.1 1055.7h1.9v1.9h-1.9zM1607.2 919.1h1.9v1.9h-1.9zM1462.8 1087.5h1.9v1.9h-1.9zM1603.5 1272.7h1.9v1.9h-1.9zM1505.9 913.5h1.9v1.9h-1.9zM1734.8 924.7h1.9v1.9h-1.9zM1400.9 921.0h1.9v1.9h-1.9zM1432.8 1010.8h1.9v1.9h-1.9zM1674.8 1211.0h1.9v1.9h-1.9zM1742.3 1248.4h1.9v1.9h-1.9zM1551.0 1211.0h1.9v1.9h-1.9zM1556.6 1145.5h1.9v1.9h-1.9zM1421.5 1104.3h1.9v1.9h-1.9zM1597.9 932.2h1.9v1.9h-1.9zM1702.9 1020.2h1.9v1.9h-1.9zM1725.4 958.4h1.9v1.9h-1.9zM1374.6 1052.0h1.9v1.9h-1.9zM1596.0 1050.1h1.9v1.9h-1.9zM1404.7 1229.7h1.9v1.9h-1.9zM1592.2 1254.0h1.9v1.9h-1.9zM1427.2 975.3h1.9v1.9h-1.9zM1742.3 932.2h1.9v1.9h-1.9zM1522.8 1117.4h1.9v1.9h-1.9zM1744.2 1020.2h1.9v1.9h-1.9zM1429.0 1095.0h1.9v1.9h-1.9zM1487.2 1220.3h1.9v1.9h-1.9z"/>
<path fill="#fdbf6f" d="M1669.2 950.9h1.9v1.9h-1.9zM1545.3 1138.0h1.9v1.9h-1.9zM1537.8 1240.9h1.9v1.9h-1.9zM1601.6 1074.4h1.9v1.9h-1.9zM1489.1 1201.6h1.9v1.9h-1.9zM1475.9 1254.0h1.9v1.9h-1.9zM1479.7 1186.7h1.9v1.9h-1.9zM1639.1 1252.1h1.9v1.9h-1.9zM1652.3 1211.0h1.9v1.9h-1.9zM1547.2 1003.3h1.9v1.9h-1.9zM1706.7 1061.3h1.9v1.9h-1.9zM1536.0 1096.9h1.9v1.9h-1.9zM1746.1 1093.1h1.9v1.9h-1.9zM1614.8 1057.6h1.9v1.9h-1.9zM1462.8 1042.6h1.9v1.9h-1.9zM1661.6 1132.4h1.9v1.9h-1.9zM1665.4 1100.6h1.9v1.9h-1.9zM1494.7 1066.9h1.9v1.9h-1.9zM1646.6 1197.9h1.9v1.9h-1.9zM1502.2 1207.2h1.9v1.9h-1.9zM1601.6 1188.5h1.9v1.9h-1.9zM1483.4 1265.2h1.9v1.9h-1.9zM1633.5 994.0h1.9v1.9h-1.9zM1714.2 1085.6h1.9v1.9h-1.9zM1663.5 1055.7h1.9v1.9h-1.9zM1470.3 909.8h1.9v1.9h-1.9zM1556.6 1046.3h1.9v1.9h-1.9zM1479.7 911.6h1.9v1.9h-1.9zM1627.9 1010.8h1.9v1.9h-1.9zM1616.6 1083.8h1.9v1.9h-1.9zM1609.1 1096.9h1.9v1.9h-1.9zM1618.5 1257.8h1.9v1.9h-1.9zM1646.6 1265.2h1.9v1.9h-1.9zM1528.5 1194.1h1.9v1.9h-1.9zM1586.6 1141.8h1.9v1.9h-1.9zM1682.3 964.0h1.9v1.9h-1.9zM1596.0 1269.0h1.9v1.9h-1.9zM1438.4 1040.7h1.9v1.9h-1.9zM1657.9 904.2h1.9v1.9h-1.9zM1626.0 984.6h1.9v1.9h-1.9zM1631.6 1164.2h1.9v1.9h-1.9zM1569.7 1216.6h1.9v1.9h-1.9zM1648.5 1124.9h1.9v1.9h-1.9zM1536.0 1025.8h1.9v1.9h-1.9zM1644.8 1066.9h1.9v1.9h-1.9zM1393.4 922.9h1.9v1.9h-1.9zM1676.7 958.4h1.9v1.9h-1.9zM1530.3 1227.8h1.9v1.9h-1.9zM1702.9 1093.1h1.9v1.9h-1.9zM1470.3 990.2h1.9v1.9h-1.9zM1631.6 1027.6h1.9v1.9h-1.9zM1631.6 1055.7h1.9v1.9h-1.9zM1470.3 1111.8h1.9v1.9h-1.9zM1372.8 1087.5h1.9v1.9h-1.9zM1547.2 1136.2h1.9v1.9h-1.9zM1421.5 960.3h1.9v1.9h-1.9zM1507.8 924.7h1.9v1.9h-1.9zM1672.9 904.2h1.9v1.9h-1.9zM1641.0 913.5h1.9v1.9h-1.9zM1567.9 1205.4h1.9v1.9h-1.9zM1721.7 1063.2h1.9v1.9h-1.9zM1597.9 1081.9h1.9v1.9h-1.9zM1551.0 949.1h1.9v1.9h-1.9zM1498.4 1134.3h1.9v1.9h-1.9zM1395.3 1265.2h1.9v1.9h-1.9zM1522.8 1173.6h1.9v1.9h-1.9zM1699.2 1052.0h1.9v1.9h-1.9zM1599.7 1272.7h1.9v1.9h-1.9zM1406.5 1052.0h1.9v1.9h-1.9zM1744.2 1149.2h1.9v1.9h-1.9zM1633.5 1145.5h1.9v1.9h-1.9zM1522.8 1096.9h1.9v1.9h-1.9zM1738.6 1235.3h1.9v1.9h-1.9zM1699.2 1130.5h1.9v1.9h-1.9zM1532.2 1052.0h1.9v1.9h-1.9zM1429.0 1145.5h1.9v1.9h-1.9zM1691.7 1053.8h1.9v1.9h-1.9zM1496.6 1010.8h1.9v1.9h-1.9zM1744.2 1209.1h1.9v1.9h-1.9zM1475.9 1104.3h1.9v1.9h-1.9zM1586.6 1117.4h1.9v1.9h-1.9zM1704.8 943.5h1.9v1.9h-1.9zM1536.0 921.0h1.9v1.9h-1.9zM1644.8 921.0h1.9v1.9h-1.9zM1659.8 1083.8h1.9v1.9h-1.9zM1464.7 1087.5h1.9v1.9h-1.9zM1734.8 1239.0h1.9v1.9h-1.9zM1721.7 930.4h1.9v1.9h-1.9zM1637.3 1023.9h1.9v1.9h-1.9zM1472.2 1018.3h1.9v1.9h-1.9zM1577.2 999.6h1.9v1.9h-1.9zM1489.1 1091.3h1.9v1.9h-1.9zM1586.6 1194.1h1.9v1.9h-1.9zM1378.4 1074.4h1.9v1.9h-1.9zM1551.0 1048.2h1.9v1.9h-1.9zM1487.2 1250.3h1.9v1.9h-1.9zM1419.7 1252.1h1.9v1.9h-1.9zM1656.0 1149.2h1.9v1.9h-1.9zM1667.3 1121.2h1.9v1.9h-1.9zM1460.9 979.0h1.9v1.9h-1.9zM1432.8 1102.5h1.9v1.9h-1.9zM1399.0 1267.1h1.9v1.9h-1.9zM1654.1 977.1h1.9v1.9h-1.9zM1434.7 1190.4h1.9v1.9h-1.9zM1669.2 1070.7h1.9v1.9h-1.9zM1620.4 911.6h1.9v1.9h-1.9zM1521.0 1212.9h1.9v1.9h-1.9zM1629.8 1046.3h1.9v1.9h-1.9zM1468.4 1046.3h1.9v1.9h-1.9zM1729.2 1192.3h1.9v1.9h-1.9zM1556.6 1250.3h1.9v1.9h-1.9zM1704.8 1175.4h1.9v1.9h-1.9zM1631.6 1124.9h1.9v1.9h-1.9zM1577.2 952.8h1.9v1.9h-1.9zM1650.4 988.4h1.9v1.9h-1.9zM1612.9 1123.1h1.9v1.9h-1.9zM1721.7 958.4h1.9v1.9h-1.9zM1507.8 1083.8h1.9v1.9h-1.9zM1746.1 1055.7h1.9v1.9h-1.9zM1644.8 958.4h1.9v1.9h-1.9zM1429.0 1055.7h1.9v1.9h-1.9zM1395.3 917.3h1.9v1.9h-1.9zM1652.3 1007.1h1.9v1.9h-1.9zM1564.1 1263.4h1.9v1.9h-1.9zM1652.3 909.8h1.9v1.9h-1.9zM1474.1 1117.4h1.9v1.9h-1.9zM1474.1 1196.0h1.9v1.9h-1.9zM1629.8 982.7h1.9v1.9h-1.9zM1714.2 1186.7h1.9v1.9h-1.9zM1691.7 1151.1h1.9v1.9h-1.9zM1725.4 1139.9h1.9v1.9h-1.9zM1438.4 1186.7h1.9v1.9h-1.9zM1641.0 1134.3h1.9v1.9h-1.9zM1731.1 1016.4h1.9v1.9h-1.9zM1725.4 945.3h1.9v1.9h-1.9zM1417.8 1227.8h1.9v1.9h-1.9zM1631.6 950.9h1.9v1.9h-1.9zM1731.1 945.3h1.9v1.9h-1.9zM1629.8 924.7h1.9v1.9h-1.9zM1601.6 1269.0h1.9v1.9h-1.9zM1676.7 1220.3h1.9v1.9h-1.9zM1590.4 934.1h1.9v1.9h-1.9zM1616.6 1068.8h1.9v1.9h-1.9zM1627.9 1095.0h1.9v1.9h-1.9zM1423.4 1072.5h1.9v1.9h-1.9zM1511.6 969.6h1.9v1.9h-1.9zM1729.2 1229.7h1.9v1.9h-1.9zM1447.8 1190.4h1.9v1.9h-1.9zM1579.1 1121.2h1.9v1.9h-1.9zM1487.2 975.3h1.9v1.9h-1.9zM1376.5 1089.4h1.9v1.9h-1.9zM1449.7 1173.6h1.9v1.9h-1.9zM1545.3 1175.4h1.9v1.9h-1.9zM1584.7 943.5h1.9v1.9h-1.9zM1485.3 1136.2h1.9v1.9h-1.9zM1626.0 1111.8h1.9v1.9h-1.9zM1687.9 1227.8h1.9v1.9h-1.9zM1536.0 971.5h1.9v1.9h-1.9zM1558.5 982.7h1.9v1.9h-1.9zM1425.3 1016.4h1.9v1.9h-1.9zM1560.3 1119.3h1.9v1.9h-1.9zM1427.2 1151.1h1.9v1.9h-1.9zM1701.0 932.2h1.9v1.9h-1.9zM1524.7 995.8h1.9v1.9h-1.9zM1556.6 1171.7h1.9v1.9h-1.9zM1727.3 1158.6h1.9v1.9h-1.9zM1590.4 1108.1h1.9v1.9h-1.9zM1618.5 1096.9h1.9v1.9h-1.9zM1637.3 921.0h1.9v1.9h-1.9zM1575.4 1254.0h1.9v1.9h-1.9zM1519.1 1229.7h1.9v1.9h-1.9zM1395.3 1252.1h1.9v1.9h-1.9zM1650.4 1121.2h1.9v1.9h-1.9zM1584.7 1151.1h1.9v1.9h-1.9zM1596.0 1070.7h1.9v1.9h-1.9zM1500.3 1212.9h1.9v1.9h-1.9zM1423.4 1151.1h1.9v1.9h-1.9zM1376.5 932.2h1.9v1.9h-1.9zM1457.2 1263.4h1.9v1.9h-1.9zM1667.3 907.9h1.9v1.9h-1.9zM1744.2 1156.7h1.9v1.9h-1.9zM1678.5 1128.7h1.9v1.9h-1.9zM1447.8 1269.0h1.9v1.9h-1.9zM1732.9 906.0h1.9v1.9h-1.9zM1504.1 1267.1h1.9v1.9h-1.9zM1702.9 1209.1h1.9v1.9h-1.9zM1612.9 1117.4h1.9v1.9h-1.9zM1434.7 1274.6h1.9v1.9h-1.9zM1676.7 1212.9h1.9v1.9h-1.9zM1669.2 1111.8h1.9v1.9h-1.9zM1672.9 1139.9h1.9v1.9h-1.9zM1725.4 922.9h1.9v1.9h-1.9zM1714.2 990.2h1.9v1.9h-1.9zM1678.5 922.9h1.9v1.9h-1.9zM1706.7 992.1h1.9v1.9h-1.9zM1515.3 1235.3h1.9v1.9h-1.9zM1541.6 1068.8h1.9v1.9h-1.9zM1459.1 1197.9h1.9v1.9h-1.9zM1490.9 1037.0h1.9v1.9h-1.9zM1374.6 1261.5h1.9v1.9h-1.9zM1710.4 999.6h1.9v1.9h-1.9zM1430.9 1211.0h1.9v1.9h-1.9zM1682.3 1089.4h1.9v1.9h-1.9zM1509.7 1145.5h1.9v1.9h-1.9zM1581.0 1196.0h1.9v1.9h-1.9zM1648.5 1270.9h1.9v1.9h-1.9zM1635.4 1111.8h1.9v1.9h-1.9zM1436.5 1048.2h1.9v1.9h-1.9zM1558.5 1010.8h1.9v1.9h-1.9zM1536.0 922.9h1.9v1.9h-1.9zM1635.4 1057.6h1.9v1.9h-1.9zM1605.4 1130.5h1.9v1.9h-1.9zM1425.3 1008.9h1.9v1.9h-1.9zM1434.7 1029.5h1.9v1.9h-1.9zM1732.9 1130.5h1.9v1.9h-1.9zM1479.7 1168.0h1.9v1.9h-1.9zM1706.7 1029.5h1.9v1.9h-1.9zM1419.7 1182.9h1.9v1.9h-1.9zM1590.4 1199.8h1.9v1.9h-1.9zM1716.0 1070.7h1.9v1.9h-1.9zM1588.5 1207.2h1.9v1.9h-1.9zM1528.5 941.6h1.9v1.9h-1.9zM1551.0 1126.8h1.9v1.9h-1.9zM1594.1 1130.5h1.9v1.9h-1.9zM1569.7 988.4h1.9v1.9h-1.9zM1558.5 1269.0h1.9v1.9h-1.9zM1650.4 1121.2h1.9v1.9h-1.9zM1414.0 1194.1h1.9v1.9h-1.9zM1588.5 994.0h1.9v1.9h-1.9zM1571.6 1276.5h1.9v1.9h-1.9zM1710.4 1209.1h1.9v1.9h-1.9zM1509.7 1248.4h1.9v1.9h-1.9zM1596.0 1136.2h1.9v1.9h-1.9zM1627.9 1008.9h1.9v1.9h-1.9zM1719.8 1027.6h1.9v1.9h-1.9zM1648.5 1115.6h1.9v1.9h-1.9z"/>
<path fill="#fb9a99" d="M1554.7 990.2h1.9v1.9h-1.9zM1657.9 1104.3h1.9v1.9h-1.9zM1522.8 1136.2h1.9v1.9h-1.9zM1631.6 1038.9h1.9v1.9h-1.9zM1732.9 1248.4h1.9v1.9h-1.9zM1400.9 1246.5h1.9v1.9h-1.9zM1500.3 1100.6h1.9v1.9h-1.9zM1639.1 1171.7h1.9v1.9h-1.9zM1509.7 1229.7h1.9v1.9h-1.9zM1667.3 1199.8h1.9v1.9h-1.9zM1556.6 1033.3h1.9v1.9h-1.9zM1492.8 909.8h1.9v1.9h-1.9zM1596.0 1050.1h1.9v1.9h-1.9zM1560.3 926.6h1.9v1.9h-1.9zM1500.3 1231.6h1.9v1.9h-1.9zM1434.7 1100.6h1.9v1.9h-1.9zM1734.8 1076.3h1.9v1.9h-1.9zM1571.6 1199.8h1.9v1.9h-1.9zM1701.0 1192.3h1.9v1.9h-1.9zM1547.2 1098.7h1.9v1.9h-1.9zM1596.0 1123.1h1.9v1.9h-1.9zM1502.2 1227.8h1.9v1.9h-1.9zM1554.7 1147.4h1.9v1.9h-1.9zM1729.2 1254.0h1.9v1.9h-1.9zM1562.2 1123.1h1.9v1.9h-1.9zM1429.0 1184.8h1.9v1.9h-1.9zM1594.1 1093.1h1.9v1.9h-1.9zM1496.6 1010.8h1.9v1.9h-1.9zM1567.9 1042.6h1.9v1.9h-1.9zM1507.8 1117.4h1.9v1.9h-1.9zM1455.3 995.8h1.9v1.9h-1.9zM1477.8 926.6h1.9v1.9h-1.9zM1663.5 1022.0h1.9v1.9h-1.9zM1573.5 1068.8h1.9v1.9h-1.9zM1509.7 1018.3h1.9v1.9h-1.9zM1571.6 907.9h1.9v1.9h-1.9zM1624.1 1083.8h1.9v1.9h-1.9zM1519.1 1048.2h1.9v1.9h-1.9zM1477.8 1074.4h1.9v1.9h-1.9zM1624.1 1048.2h1.9v1.9h-1.9zM1588.5 934.1h1.9v1.9h-1.9zM1637.3 1018.3h1.9v1.9h-1.9zM1421.5 1070.7h1.9v1.9h-1.9zM1629.8 936.0h1.9v1.9h-1.9zM1597.9 1182.9h1.9v1.9h-1.9zM1522.8 1267.1h1.9v1.9h-1.9zM1710.4 1078.2h1.9v1.9h-1.9zM1672.9 1222.2h1.9v1.9h-1.9zM1545.3 1201.6h1.9v1.9h-1.9zM1592.2 990.2h1.9v1.9h-1.9zM1573.5 1156.7h1.9v1.9h-1.9zM1597.9 913.5h1.9v1.9h-1.9zM1509.7 922.9h1.9v1.9h-1.9zM1744.2 924.7h1.9v1.9h-1.9zM1378.4 1168.0h1.9v1.9h-1.9zM1425.3 1093.1h1.9v1.9h-1.9zM1526.6 906.0h1.9v1.9h-1.9zM1521.0 1033.3h1.9v1.9h-1.9zM1539.7 932.2h1.9v1.9h-1.9zM1412.2 1027.6h1.9v1.9h-1.9zM1588.5 1139.9h1.9v1.9h-1.9zM1558.5 1182.9h1.9v1.9h-1.9zM1393.4 969.6h1.9v1.9h-1.9zM1629.8 1016.4h1.9v1.9h-1.9zM1596.0 1203.5h1.9v1.9h-1.9zM1603.5 1237.2h1.9v1.9h-1.9zM1716.0 982.7h1.9v1.9h-1.9zM1564.1 1087.5h1.9v1.9h-1.9zM1669.2 1025.8h1.9v1.9h-1.9zM1592.2 1111.8h1.9v1.9h-1.9zM1417.8 956.5h1.9v1.9h-1.9zM1732.9 1156.7h1.9v1.9h-1.9zM1637.3 1081.9h1.9v1.9h-1.9zM1419.7 1267.1h1.9v1.9h-1.9zM1716.0 1093.1h1.9v1.9h-1.9zM1594.1 952.8h1.9v1.9h-1.9zM1496.6 1100.6h1.9v1.9h-1.9zM1494.7 1192.3h1.9v1.9h-1.9zM1665.4 1128.7h1.9v1.9h-1.9zM1661.6 1181.1h1.9v1.9h-1.9zM1659.8 1087.5h1.9v1.9h-1.9zM1438.4 973.4h1.9v1.9h-1.9zM1502.2 1106.2h1.9v1.9h-1.9zM1744.2 977.1h1.9v1.9h-1.9zM1457.2 1068.8h1.9v1.9h-1.9zM1521.0 1269.0h1.9v1.9h-1.9zM1637.3 997.7h1.9v1.9h-1.9zM1562.2 1254.0h1.9v1.9h-1.9zM1440.3 1231.6h1.9v1.9h-1.9zM1579.1 1046.3h1.9v1.9h-1.9zM1474.1 1031.4h1.9v1.9h-1.9zM1618.5 1203.5h1.9v1.9h-1.9zM1494.7 1110.0h1.9v1.9h-1.9zM1605.4 1063.2h1.9v1.9h-1.9zM1721.7 921.0h1.9v1.9h-1.9zM1661.6 1031.4h1.9v1.9h-1.9zM1539.7 932.2h1.9v1.9h-1.9zM1470.3 1151.1h1.9v1.9h-1.9zM1539.7 1252.1h1.9v1.9h-1.9zM1736.7 1038.9h1.9v1.9h-1.9zM1496.6 1186.7h1.9v1.9h-1.9zM1684.2 1139.9h1.9v1.9h-1.9zM1746.1 1098.7h1.9v1.9h-1.9zM1631.6 1175.4h1.9v1.9h-1.9zM1425.3 1212.9h1.9v1.9h-1.9zM1479.7 1242.8h1.9v1.9h-1.9zM1624.1 1130.5h1.9v1.9h-1.9zM1534.1 1050.1h1.9v1.9h-1.9zM1731.1 1042.6h1.9v1.9h-1.9zM1577.2 1022.0h1.9v1.9h-1.9zM1429.0 1164.2h1.9v1.9h-1.9zM1444.0 1255.9h1.9v1.9h-1.9zM1549.1 995.8h1.9v1.9h-1.9zM1665.4 995.8h1.9v1.9h-1.9zM1404.7 1226.0h1.9v1.9h-1.9zM1447.8 1272.7h1.9v1.9h-1.9zM1417.8 1074.4h1.9v1.9h-1.9zM1644.8 1136.2h1.9v1.9h-1.9zM1732.9 1080.0h1.9v1.9h-1.9zM1393.4 934.1h1.9v1.9h-1.9zM1459.1 975.3h1.9v1.9h-1.9zM1691.7 1145.5h1.9v1.9h-1.9zM1674.8 909.8h1.9v1.9h-1.9zM1372.8 1222.2h1.9v1.9h-1.9zM1699.2 926.6h1.9v1.9h-1.9zM1648.5 1132.4h1.9v1.9h-1.9zM1635.4 1038.9h1.9v1.9h-1.9zM1650.4 1212.9h1.9v1.9h-1.9zM1584.7 1093.1h1.9v1.9h-1.9zM1551.0 936.0h1.9v1.9h-1.9zM1567.9 1242.8h1.9v1.9h-1.9zM1380.3 980.9h1.9v1.9h-1.9zM1526.6 1158.6h1.9v1.9h-1.9zM1710.4 937.8h1.9v1.9h-1.9zM1502.2 1168.0h1.9v1.9h-1.9zM1498.4 1179.2h1.9v1.9h-1.9zM1717.9 919.1h1.9v1.9h-1.9zM1584.7 1175.4h1.9v1.9h-1.9zM1736.7 1048.2h1.9v1.9h-1.9zM1462.8 1261.5h1.9v1.9h-1.9zM1665.4 1259.6h1.9v1.9h-1.9zM1534.1 979.0h1.9v1.9h-1.9zM1631.6 1042.6h1.9v1.9h-1.9zM1697.3 1255.9h1.9v1.9h-1.9zM1614.8 1072.5h1.9v1.9h-1.9zM1462.8 1083.8h1.9v1.9h-1.9zM1534.1 1188.5h1.9v1.9h-1.9zM1414.0 1007.1h1.9v1.9h-1.9zM1742.3 1166.1h1.9v1.9h-1.9zM1536.0 1227.8h1.9v1.9h-1.9zM1552.8 1055.7h1.9v1.9h-1.9zM1607.2 1136.2h1.9v1.9h-1.9zM1596.0 936.0h1.9v1.9h-1.9zM1530.3 937.8h1.9v1.9h-1.9zM1539.7 1269.0h1.9v1.9h-1.9zM1611.0 1166.1h1.9v1.9h-1.9zM1678.5 921.0h1.9v1.9h-1.9zM1462.8 1072.5h1.9v1.9h-1.9zM1387.8 1207.2h1.9v1.9h-1.9zM1742.3 1123.1h1.9v1.9h-1.9zM1731.1 1233.4h1.9v1.9h-1.9zM1489.1 1222.2h1.9v1.9h-1.9zM1384.0 1158.6h1.9v1.9h-1.9zM1611.0 1154.9h1.9v1.9h-1.9zM1430.9 1059.4h1.9v1.9h-1.9zM1611.0 1252.1h1.9v1.9h-1.9zM1667.3 1033.3h1.9v1.9h-1.9zM1551.0 1151.1h1.9v1.9h-1.9zM1626.0 1214.7h1.9v1.9h-1.9zM1558.5 1087.5h1.9v1.9h-1.9zM1708.5 1074.4h1.9v1.9h-1.9zM1648.5 928.5h1.9v1.9h-1.9zM1509.7 1211.0h1.9v1.9h-1.9zM1644.8 988.4h1.9v1.9h-1.9zM1648.5 1083.8h1.9v1.9h-1.9zM1708.5 975.3h1.9v1.9h-1.9zM1453.4 1263.4h1.9v1.9h-1.9zM1582.9 1267.1h1.9v1.9h-1.9zM1594.1 1233.4h1.9v1.9h-1.9zM1445.9 1027.6h1.9v1.9h-1.9zM1701.0 1080.0h1.9v1.9h-1.9zM1605.4 958.4h1.9v1.9h-1.9zM1579.1 995.8h1.9v1.9h-1.9zM1537.8 1270.9h1.9v1.9h-1.9zM1402.8 1037.0h1.9v1.9h-1.9zM1374.6 988.4h1.9v1.9h-1.9zM1556.6 909.8h1.9v1.9h-1.9zM1477.8 1214.7h1.9v1.9h-1.9zM1577.2 1072.5h1.9v1.9h-1.9zM1556.6 1220.3h1.9v1.9h-1.9zM1453.4 1158.6h1.9v1.9h-1.9zM1716.0 986.5h1.9v1.9h-1.9zM1384.0 1171.7h1.9v1.9h-1.9zM1513.5 1087.5h1.9v1.9h-1.9zM1592.2 1010.8h1.9v1.9h-1.9zM1498.4 1089.4h1.9v1.9h-1.9zM1425.3 1175.4h1.9v1.9h-1.9z"/>
<path fill="#1f78b4" d="M1633.5 1042.6h1.9v1.9h-1.9zM1626.0 1138.0h1.9v1.9h-1.9zM1547.2 1031.4h1.9v1.9h-1.9zM1614.8 1066.9h1.9v1.9h-1.9zM1477.8 1136.2h1.9v1.9h-1.9zM1554.7 1068.8h1.9v1.9h-1.9zM1629.8 1059.4h1.9v1.9h-1.9zM1674.8 1065.1h1.9v1.9h-1.9zM1678.5 1160.5h1.9v1.9h-1.9zM1746.1 1012.7h1.9v1.9h-1.9zM1573.5 1098.7h1.9v1.9h-1.9zM1714.2 1143.6h1.9v1.9h-1.9zM1721.7 1218.5h1.9v1.9h-1.9zM1624.1 943.5h1.9v1.9h-1.9zM1434.7 1016.4h1.9v1.9h-1.9zM1509.7 1081.9h1.9v1.9h-1.9zM1534.1 1229.7h1.9v1.9h-1.9zM1701.0 1244.7h1.9v1.9h-1.9zM1697.3 1110.0h1.9v1.9h-1.9zM1704.8 975.3h1.9v1.9h-1.9zM1579.1 1229.7h1.9v1.9h-1.9zM1445.9 906.0h1.9v1.9h-1.9zM1498.4 960.3h1.9v1.9h-1.9zM1517.2 1074.4h1.9v1.9h-1.9zM1725.4 1022.0h1.9v1.9h-1.9zM1554.7 1242.8h1.9v1.9h-1.9zM1633.5 1164.2h1.9v1.9h-1.9zM1485.3 1117.4h1.9v1.9h-1.9zM1528.5 1226.0h1.9v1.9h-1.9zM1462.8 1087.5h1.9v1.9h-1.9zM1415.9 1059.4h1.9v1.9h-1.9zM1442.2 909.8h1.9v1.9h-1.9zM1434.7 1154.9h1.9v1.9h-1.9zM1746.1 947.2h1.9v1.9h-1.9zM1702.9 930.4h1.9v1.9h-1.9zM1727.3 1052.0h1.9v1.9h-1.9zM1415.9 1110.0h1.9v1.9h-1.9zM1579.1 960.3h1.9v1.9h-1.9zM1618.5 1136.2h1.9v1.9h-1.9zM1372.8 1203.5h1.9v1.9h-1.9zM1612.9 932.2h1.9v1.9h-1.9zM1712.3 1149.2h1.9v1.9h-1.9zM1706.7 943.5h1.9v1.9h-1.9zM1474.1 984.6h1.9v1.9h-1.9zM1372.8 1246.5h1.9v1.9h-1.9zM1517.2 1074.4h1.9v1.9h-1.9zM1582.9 1203.5h1.9v1.9h-1.9zM1725.4 1070.7h1.9v1.9h-1.9zM1569.7 1057.6h1.9v1.9h-1.9zM1399.0 1229.7h1.9v1.9h-1.9zM1639.1 913.5h1.9v1.9h-1.9zM1492.8 1068.8h1.9v1.9h-1.9zM1736.7 1269.0h1.9v1.9h-1.9zM1642.9 1207.2h1.9v1.9h-1.9zM1672.9 980.9h1.9v1.9h-1.9zM1438.4 1042.6h1.9v1.9h-1.9zM1627.9 1029.5h1.9v1.9h-1.9zM1577.2 1078.2h1.9v1.9h-1.9zM1532.2 1061.3h1.9v1.9h-1.9zM1517.2 913.5h1.9v1.9h-1.9zM1629.8 1156.7h1.9v1.9h-1.9zM1579.1 1141.8h1.9v1.9h-1.9zM1485.3 1252.1h1.9v1.9h-1.9zM1492.8 992.1h1.9v1.9h-1.9zM1400.9 1160.5h1.9v1.9h-1.9zM1425.3 1154.9h1.9v1.9h-1.9zM1607.2 1169.8h1.9v1.9h-1.9zM1684.2 1003.3h1.9v1.9h-1.9zM1671.0 950.9h1.9v1.9h-1.9zM1430.9 1164.2h1.9v1.9h-1.9zM1629.8 1218.5h1.9v1.9h-1.9zM1597.9 1168.0h1.9v1.9h-1.9zM1558.5 1252.1h1.9v1.9h-1.9zM1479.7 999.6h1.9v1.9h-1.9zM1509.7 1138.0h1.9v1.9h-1.9zM1659.8 1119.3h1.9v1.9h-1.9zM1406.5 1259.6h1.9v1.9h-1.9zM1404.7 1050.1h1.9v1.9h-1.9zM1601.6 1235.3h1.9v1.9h-1.9zM1393.4 986.5h1.9v1.9h-1.9zM1584.7 994.0h1.9v1.9h-1.9zM1590.4 1154.9h1.9v1.9h-1.9zM1436.5 1085.6h1.9v1.9h-1.9zM1744.2 958.4h1.9v1.9h-1.9zM1680.4 1108.1h1.9v1.9h-1.9zM1447.8 1227.8h1.9v1.9h-1.9zM1541.6 1226.0h1.9v1.9h-1.9zM1633.5 1196.0h1.9v1.9h-1.9zM1513.5 1259.6h1.9v1.9h-1.9zM1479.7 1119.3h1.9v1.9h-1.9zM1432.8 1244.7h1.9v1.9h-1.9zM1678.5 1081.9h1.9v1.9h-1.9zM1515.3 1182.9h1.9v1.9h-1.9zM1607.2 1136.2h1.9v1.9h-1.9zM1496.6 1154.9h1.9v1.9h-1.9zM1378.4 1083.8h1.9v1.9h-1.9zM1637.3 1106.2h1.9v1.9h-1.9zM1742.3 1166.1h1.9v1.9h-1.9zM1607.2 1194.1h1.9v1.9h-1.9zM1661.6 1031.4h1.9v1.9h-1.9zM1678.5 1066.9h1.9v1.9h-1.9zM1569.7 1089.4h1.9v1.9h-1.9zM1714.2 1201.6h1.9v1.9h-1.9zM1601.6 958.4h1.9v1.9h-1.9zM1659.8 1066.9h1.9v1.9h-1.9zM1584.7 1010.8h1.9v1.9h-1.9zM1648.5 1007.1h1.9v1.9h-1.9zM1429.0 1108.1h1.9v1.9h-1.9zM1562.2 1252.1h1.9v1.9h-1.9zM1415.9 930.4h1.9v1.9h-1.9zM1440.3 999.6h1.9v1.9h-1.9zM1626.0 1177.3h1.9v1.9h-1.9zM1622.3 1023.9h1.9v1.9h-1.9zM1536.0 921.0h1.9v1.9h-1.9zM1665.4 1128.7h1.9v1.9h-1.9zM1549.1 1168.0h1.9v1.9h-1.9zM1556.6 950.9h1.9v1.9h-1.9zM1637.3 1076.3h1.9v1.9h-1.9zM1695.4 1070.7h1.9v1.9h-1.9zM1706.7 1154.9h1.9v1.9h-1.9zM1729.2 1212.9h1.9v1.9h-1.9zM1395.3 1272.7h1.9v1.9h-1.9zM1481.6 1104.3h1.9v1.9h-1.9zM1725.4 952.8h1.9v1.9h-1.9zM1507.8 1235.3h1.9v1.9h-1.9zM1558.5 941.6h1.9v1.9h-1.9zM1417.8 1203.5h1.9v1.9h-1.9zM1509.7 1053.8h1.9v1.9h-1.9zM1714.2 975.3h1.9v1.9h-1.9zM1429.0 1166.1h1.9v1.9h-1.9zM1691.7 1141.8h1.9v1.9h-1.9zM1545.3 1025.8h1.9v1.9h-1.9zM1612.9 990.2h1.9v1.9h-1.9zM1421.5 1248.4h1.9v1.9h-1.9zM1626.0 1066.9h1.9v1.9h-1.9zM1577.2 945.3h1.9v1.9h-1.9zM1706.7 1110.0h1.9v1.9h-1.9zM1710.4 1139.9h1.9v1.9h-1.9zM1592.2 1033.3h1.9v1.9h-1.9zM1376.5 1093.1h1.9v1.9h-1.9zM1656.0 952.8h1.9v1.9h-1.9zM1714.2 1031.4h1.9v1.9h-1.9zM1635.4 1016.4h1.9v1.9h-1.9zM1425.3 1246.5h1.9v1.9h-1.9zM1571.6 1151.1h1.9v1.9h-1.9zM1462.8 1173.6h1.9v1.9h-1.9zM1430.9 969.6h1.9v1.9h-1.9zM1524.7 1194.1h1.9v1.9h-1.9zM1738.6 1173.6h1.9v1.9h-1.9zM1734.8 1156.7h1.9v1.9h-1.9zM1462.8 1269.0h1.9v1.9h-1.9zM1462.8 1272.7h1.9v1.9h-1.9zM1537.8 921.0h1.9v1.9h-1.9zM1684.2 1093.1h1.9v1.9h-1.9zM1697.3 1091.3h1.9v1.9h-1.9zM1459.1 1226.0h1.9v1.9h-1.9zM1438.4 1276.5h1.9v1.9h-1.9zM1736.7 1061.3h1.9v1.9h-1.9zM1738.6 1227.8h1.9v1.9h-1.9zM1642.9 1270.9h1.9v1.9h-1.9zM1472.2 988.4h1.9v1.9h-1.9zM1399.0 1040.7h1.9v1.9h-1.9zM1616.6 926.6h1.9v1.9h-1.9zM1564.1 1197.9h1.9v1.9h-1.9zM1519.1 1063.2h1.9v1.9h-1.9zM1479.7 1050.1h1.9v1.9h-1.9zM1644.8 1173.6h1.9v1.9h-1.9zM1414.0 1085.6h1.9v1.9h-1.9zM1616.6 1194.1h1.9v1.9h-1.9zM1389.6 1123.1h1.9v1.9h-1.9zM1466.6 1046.3h1.9v1.9h-1.9zM1451.5 1205.4h1.9v1.9h-1.9zM1415.9 1231.6h1.9v1.9h-1.9zM1659.8 1220.3h1.9v1.9h-1.9zM1498.4 997.7h1.9v1.9h-1.9zM1449.7 1096.9h1.9v1.9h-1.9zM1667.3 1229.7h1.9v1.9h-1.9zM1588.5 1209.1h1.9v1.9h-1.9zM1702.9 1083.8h1.9v1.9h-1.9zM1509.7 1081.9h1.9v1.9h-1.9zM1674.8 1270.9h1.9v1.9h-1.9zM1693.5 1257.8h1.9v1.9h-1.9zM1571.6 1124.9h1.9v1.9h-1.9zM1556.6 1196.0h1.9v1.9h-1.9zM1539.7 1106.2h1.9v1.9h-1.9zM1746.1 1070.7h1.9v1.9h-1.9zM1400.9 997.7h1.9v1.9h-1.9zM1519.1 990.2h1.9v1.9h-1.9zM1399.0 1102.5h1.9v1.9h-1.9zM1472.2 1130.5h1.9v1.9h-1.9zM1477.8 1046.3h1.9v1.9h-1.9zM1472.2 1065.1h1.9v1.9h-1.9zM1596.0 1173.6h1.9v1.9h-1.9zM1742.3 926.6h1.9v1.9h-1.9zM1521.0 1158.6h1.9v1.9h-1.9zM1406.5 1154.9h1.9v1.9h-1.9zM1571.6 1124.9h1.9v1.9h-1.9zM1470.3 1018.3h1.9v1.9h-1.9zM1633.5 1018.3h1.9v1.9h-1.9zM1582.9 1038.9h1.9v1.9h-1.9zM1644.8 907.9h1.9v1.9h-1.9zM1502.2 1237.2h1.9v1.9h-1.9z"/>
<path fill="#ff7f00" d="M1644.8 1083.8h1.9v1.9h-1.9zM1496.6 1018.3h1.9v1.9h-1.9zM1408.4 913.5h1.9v1.9h-1.9zM1558.5 979.0h1.9v1.9h-1.9zM1421.5 962.2h1.9v1.9h-1.9zM1616.6 1235.3h1.9v1.9h-1.9zM1374.6 1255.9h1.9v1.9h-1.9zM1449.7 1068.8h1.9v1.9h-1.9zM1472.2 943.5h1.9v1.9h-1.9zM1438.4 982.7h1.9v1.9h-1.9zM1710.4 1153.0h1.9v1.9h-1.9zM1629.8 1076.3h1.9v1.9h-1.9zM1511.6 1216.6h1.9v1.9h-1.9zM1554.7 1147.4h1.9v1.9h-1.9zM1661.6 1042.6h1.9v1.9h-1.9zM1639.1 1065.1h1.9v1.9h-1.9zM1500.3 1100.6h1.9v1.9h-1.9zM1408.4 1252.1h1.9v1.9h-1.9zM1427.2 1022.0h1.9v1.9h-1.9zM1534.1 1147.4h1.9v1.9h-1.9zM1567.9 1244.7h1.9v1.9h-1.9zM1507.8 1158.6h1.9v1.9h-1.9zM1554.7 1261.5h1.9v1.9h-1.9zM1487.2 999.6h1.9v1.9h-1.9zM1494.7 1121.2h1.9v1.9h-1.9zM1597.9 967.8h1.9v1.9h-1.9zM1521.0 1263.4h1.9v1.9h-1.9zM1740.4 1134.3h1.9v1.9h-1.9zM1601.6 1074.4h1.9v1.9h-1.9zM1427.2 1168.0h1.9v1.9h-1.9zM1537.8 1190.4h1.9v1.9h-1.9zM1496.6 1007.1h1.9v1.9h-1.9zM1399.0 1052.0h1.9v1.9h-1.9zM1592.2 995.8h1.9v1.9h-1.9zM1729.2 1190.4h1.9v1.9h-1.9zM1556.6 1010.8h1.9v1.9h-1.9zM1740.4 1147.4h1.9v1.9h-1.9zM1515.3 956.5h1.9v1.9h-1.9zM1415.9 1007.1h1.9v1.9h-1.9zM1635.4 995.8h1.9v1.9h-1.9zM1618.5 1168.0h1.9v1.9h-1.9zM1402.8 1085.6h1.9v1.9h-1.9zM1442.2 1022.0h1.9v1.9h-1.9zM1419.7 1252.1h1.9v1.9h-1.9zM1425.3 994.0h1.9v1.9h-1.9zM1414.0 1139.9h1.9v1.9h-1.9zM1691.7 1229.7h1.9v1.9h-1.9zM1475.9 1214.7h1.9v1.9h-1.9zM1440.3 1229.7h1.9v1.9h-1.9zM1637.3 1091.3h1.9v1.9h-1.9zM1562.2 1149.2h1.9v1.9h-1.9zM1558.5 1252.1h1.9v1.9h-1.9zM1667.3 1081.9h1.9v1.9h-1.9zM1627.9 1095.0h1.9v1.9h-1.9zM1423.4 1096.9h1.9v1.9h-1.9zM1515.3 926.6h1.9v1.9h-1.9zM1554.7 1257.8h1.9v1.9h-1.9zM1519.1 1158.6h1.9v1.9h-1.9zM1721.7 1070.7h1.9v1.9h-1.9zM1659.8 1255.9h1.9v1.9h-1.9zM1601.6 954.7h1.9v1.9h-1.9zM1596.0 1184.8h1.9v1.9h-1.9zM1500.3 1216.6h1.9v1.9h-1.9zM1689.8 1110.0h1.9v1.9h-1.9zM1695.4 1224.1h1.9v1.9h-1.9zM1657.9 1235.3h1.9v1.9h-1.9zM1732.9 1066.9h1.9v1.9h-1.9zM1719.8 992.1h1.9v1.9h-1.9zM1537.8 962.2h1.9v1.9h-1.9zM1402.8 1089.4h1.9v1.9h-1.9zM1667.3 950.9h1.9v1.9h-1.9zM1522.8 979.0h1.9v1.9h-1.9zM1627.9 1136.2h1.9v1.9h-1.9zM1427.2 952.8h1.9v1.9h-1.9zM1569.7 999.6h1.9v1.9h-1.9zM1605.4 1239.0h1.9v1.9h-1.9zM1652.3 1100.6h1.9v1.9h-1.9zM1624.1 936.0h1.9v1.9h-1.9zM1502.2 1265.2h1.9v1.9h-1.9zM1374.6 1259.6h1.9v1.9h-1.9zM1551.0 1063.2h1.9v1.9h-1.9zM1614.8 982.7h1.9v1.9h-1.9zM1558.5 1227.8h1.9v1.9h-1.9zM1665.4 1117.4h1.9v1.9h-1.9zM1577.2 994.0h1.9v1.9h-1.9zM1502.2 1257.8h1.9v1.9h-1.9zM1556.6 949.1h1.9v1.9h-1.9zM1530.3 1033.3h1.9v1.9h-1.9zM1592.2 1166.1h1.9v1.9h-1.9zM1665.4 1113.7h1.9v1.9h-1.9zM1567.9 1201.6h1.9v1.9h-1.9zM1427.2 1052.0h1.9v1.9h-1.9zM1732.9 1233.4h1.9v1.9h-1.9zM1551.0 1042.6h1.9v1.9h-1.9zM1719.8 1052.0h1.9v1.9h-1.9zM1708.5 1267.1h1.9v1.9h-1.9zM1592.2 992.1h1.9v1.9h-1.9zM1624.1 975.3h1.9v1.9h-1.9zM1601.6 1182.9h1.9v1.9h-1.9zM1725.4 1209.1h1.9v1.9h-1.9zM1507.8 947.2h1.9v1.9h-1.9zM1684.2 1080.0h1.9v1.9h-1.9zM1440.3 1022.0h1.9v1.9h-1.9zM1633.5 995.8h1.9v1.9h-1.9zM1657.9 1263.4h1.9v1.9h-1.9zM1620.4 1061.3h1.9v1.9h-1.9zM1547.2 1083.8h1.9v1.9h-1.9zM1539.7 1081.9h1.9v1.9h-1.9zM1635.4 1211.0h1.9v1.9h-1.9zM1669.2 1027.6h1.9v1.9h-1.9zM1719.8 1192.3h1.9v1.9h-1.9zM1569.7 1212.9h1.9v1.9h-1.9zM1517.2 1083.8h1.9v1.9h-1.9zM1567.9 1048.2h1.9v1.9h-1.9zM1746.1 924.7h1.9v1.9h-1.9zM1434.7 1220.3h1.9v1.9h-1.9zM1479.7 1096.9h1.9v1.9h-1.9zM1524.7 967.8h1.9v1.9h-1.9zM1719.8 1110.0h1.9v1.9h-1.9zM1505.9 1003.3h1.9v1.9h-1.9zM1614.8 1143.6h1.9v1.9h-1.9zM1468.4 1194.1h1.9v1.9h-1.9zM1731.1 1224.1h1.9v1.9h-1.9zM1631.6 992.1h1.9v1.9h-1.9zM1507.8 1074.4h1.9v1.9h-1.9zM1648.5 1126.8h1.9v1.9h-1.9zM1477.8 986.5h1.9v1.9h-1.9zM1721.7 1111.8h1.9v1.9h-1.9zM1719.8 1166.1h1.9v1.9h-1.9zM1689.8 1106.2h1.9v1.9h-1.9zM1581.0 1274.6h1.9v1.9h-1.9zM1429.0 1181.1h1.9v1.9h-1.9zM1528.5 1065.1h1.9v1.9h-1.9zM1663.5 1025.8h1.9v1.9h-1.9zM1445.9 1091.3h1.9v1.9h-1.9zM1504.1 1235.3h1.9v1.9h-1.9zM1609.1 1182.9h1.9v1.9h-1.9zM1551.0 1141.8h1.9v1.9h-1.9zM1521.0 1093.1h1.9v1.9h-1.9zM1646.6 1158.6h1.9v1.9h-1.9zM1521.0 1272.7h1.9v1.9h-1.9zM1438.4 1061.3h1.9v1.9h-1.9zM1746.1 1035.1h1.9v1.9h-1.9zM1592.2 1250.3h1.9v1.9h-1.9zM1536.0 1130.5h1.9v1.9h-1.9zM1616.6 1153.0h1.9v1.9h-1.9zM1519.1 909.8h1.9v1.9h-1.9zM1607.2 1074.4h1.9v1.9h-1.9zM1691.7 1038.9h1.9v1.9h-1.9zM1541.6 1269.0h1.9v1.9h-1.9zM1397.1 1207.2h1.9v1.9h-1.9zM1496.6 997.7h1.9v1.9h-1.9zM1402.8 1102.5h1.9v1.9h-1.9zM1667.3 922.9h1.9v1.9h-1.9zM1592.2 1231.6h1.9v1.9h-1.9zM1419.7 913.5h1.9v1.9h-1.9zM1641.0 924.7h1.9v1.9h-1.9zM1732.9 1130.5h1.9v1.9h-1.9zM1436.5 1177.3h1.9v1.9h-1.9zM1492.8 1010.8h1.9v1.9h-1.9zM1678.5 1081.9h1.9v1.9h-1.9zM1447.8 1203.5h1.9v1.9h-1.9zM1492.8 1128.7h1.9v1.9h-1.9zM1502.2 1081.9h1.9v1.9h-1.9zM1654.1 1259.6h1.9v1.9h-1.9zM1661.6 1102.5h1.9v1.9h-1.9zM1622.3 1192.3h1.9v1.9h-1.9zM1740.4 1108.1h1.9v1.9h-1.9zM1620.4 1235.3h1.9v1.9h-1.9zM1521.0 1197.9h1.9v1.9h-1.9zM1466.6 1110.0h1.9v1.9h-1.9zM1560.3 1158.6h1.9v1.9h-1.9zM1599.7 1154.9h1.9v1.9h-1.9zM1573.5 1156.7h1.9v1.9h-1.9zM1710.4 1156.7h1.9v1.9h-1.9zM1449.7 1074.4h1.9v1.9h-1.9zM1577.2 943.5h1.9v1.9h-1.9zM1714.2 1164.2h1.9v1.9h-1.9zM1684.2 1153.0h1.9v1.9h-1.9zM1509.7 1164.2h1.9v1.9h-1.9zM1592.2 1181.1h1.9v1.9h-1.9zM1374.6 1257.8h1.9v1.9h-1.9zM1601.6 1074.4h1.9v1.9h-1.9zM1746.1 1065.1h1.9v1.9h-1.9zM1487.2 1220.3h1.9v1.9h-1.9zM1729.2 1254.0h1.9v1.9h-1.9zM1742.3 1201.6h1.9v1.9h-1.9zM1496.6 1008.9h1.9v1.9h-1.9zM1717.9 1259.6h1.9v1.9h-1.9zM1374.6 979.0h1.9v1.9h-1.9zM1453.4 1177.3h1.9v1.9h-1.9zM1719.8 1169.8h1.9v1.9h-1.9zM1693.5 1168.0h1.9v1.9h-1.9zM1676.7 1124.9h1.9v1.9h-1.9zM1502.2 1252.1h1.9v1.9h-1.9zM1429.0 1053.8h1.9v1.9h-1.9zM1622.3 1061.3h1.9v1.9h-1.9zM1702.9 1111.8h1.9v1.9h-1.9zM1498.4 1231.6h1.9v1.9h-1.9zM1717.9 1269.0h1.9v1.9h-1.9zM1588.5 947.2h1.9v1.9h-1.9zM1430.9 1046.3h1.9v1.9h-1.9zM1519.1 1027.6h1.9v1.9h-1.9zM1631.6 1031.4h1.9v1.9h-1.9zM1470.3 1190.4h1.9v1.9h-1.9zM1721.7 1134.3h1.9v1.9h-1.9zM1697.3 1091.3h1.9v1.9h-1.9zM1537.8 1110.0h1.9v1.9h-1.9zM1586.6 952.8h1.9v1.9h-1.9zM1611.0 1270.9h1.9v1.9h-1.9zM1492.8 1141.8h1.9v1.9h-1.9zM1374.6 975.3h1.9v1.9h-1.9zM1412.2 1061.3h1.9v1.9h-1.9zM1494.7 1147.4h1.9v1.9h-1.9zM1438.4 1192.3h1.9v1.9h-1.9zM1468.4 1038.9h1.9v1.9h-1.9zM1567.9 1274.6h1.9v1.9h-1.9z"/>
<path fill="#f08a70" d="M1442.2 930.4h1.9v1.9h-1.9zM1440.3 1100.6h1.9v1.9h-1.9zM1704.8 936.0h1.9v1.9h-1.9zM1434.7 1042.6h1.9v1.9h-1.9zM1474.1 1216.6h1.9v1.9h-1.9zM1459.1 1074.4h1.9v1.9h-1.9zM1603.5 941.6h1.9v1.9h-1.9zM1571.6 1037.0h1.9v1.9h-1.9zM1637.3 1179.2h1.9v1.9h-1.9zM1702.9 1211.0h1.9v1.9h-1.9zM1417.8 1083.8h1.9v1.9h-1.9zM1697.3 1164.2h1.9v1.9h-1.9zM1429.0 1134.3h1.9v1.9h-1.9zM1404.7 1252.1h1.9v1.9h-1.9zM1419.7 1083.8h1.9v1.9h-1.9zM1744.2 958.4h1.9v1.9h-1.9zM1627.9 1240.9h1.9v1.9h-1.9zM1571.6 1270.9h1.9v1.9h-1.9zM1627.9 1201.6h1.9v1.9h-1.9zM1744.2 945.3h1.9v1.9h-1.9zM1474.1 1042.6h1.9v1.9h-1.9zM1684.2 1139.9h1.9v1.9h-1.9zM1487.2 1246.5h1.9v1.9h-1.9zM1549.1 913.5h1.9v1.9h-1.9zM1536.0 1085.6h1.9v1.9h-1.9zM1612.9 1188.5h1.9v1.9h-1.9zM1631.6 1110.0h1.9v1.9h-1.9zM1536.0 1059.4h1.9v1.9h-1.9zM1479.7 1068.8h1.9v1.9h-1.9zM1657.9 1136.2h1.9v1.9h-1.9zM1744.2 1098.7h1.9v1.9h-1.9zM1588.5 1224.1h1.9v1.9h-1.9zM1477.8 1096.9h1.9v1.9h-1.9zM1648.5 1134.3h1.9v1.9h-1.9zM1429.0 1052.0h1.9v1.9h-1.9zM1650.4 1033.3h1.9v1.9h-1.9zM1588.5 1209.1h1.9v1.9h-1.9zM1620.4 1259.6h1.9v1.9h-1.9zM1624.1 932.2h1.9v1.9h-1.9zM1624.1 1018.3h1.9v1.9h-1.9zM1584.7 949.1h1.9v1.9h-1.9zM1734.8 1012.7h1.9v1.9h-1.9zM1468.4 1203.5h1.9v1.9h-1.9zM1447.8 1194.1h1.9v1.9h-1.9zM1665.4 1231.6h1.9v1.9h-1.9zM1551.0 1048.2h1.9v1.9h-1.9zM1689.8 1182.9h1.9v1.9h-1.9zM1596.0 1083.8h1.9v1.9h-1.9zM1500.3 1048.2h1.9v1.9h-1.9zM1601.6 1265.2h1.9v1.9h-1.9zM1712.3 1149.2h1.9v1.9h-1.9zM1579.1 1141.8h1.9v1.9h-1.9zM1577.2 1130.5h1.9v1.9h-1.9zM1549.1 1235.3h1.9v1.9h-1.9zM1588.5 1014.5h1.9v1.9h-1.9zM1545.3 928.5h1.9v1.9h-1.9zM1517.2 1263.4h1.9v1.9h-1.9zM1672.9 1130.5h1.9v1.9h-1.9zM1680.4 1231.6h1.9v1.9h-1.9zM1551.0 1008.9h1.9v1.9h-1.9zM1716.0 1175.4h1.9v1.9h-1.9zM1536.0 1052.0h1.9v1.9h-1.9zM1515.3 1050.1h1.9v1.9h-1.9zM1395.3 964.0h1.9v1.9h-1.9zM1400.9 1270.9h1.9v1.9h-1.9zM1659.8 1188.5h1.9v1.9h-1.9zM1453.4 1265.2h1.9v1.9h-1.9zM1582.9 1226.0h1.9v1.9h-1.9zM1648.5 1037.0h1.9v1.9h-1.9zM1504.1 926.6h1.9v1.9h-1.9zM1731.1 1044.5h1.9v1.9h-1.9zM1678.5 975.3h1.9v1.9h-1.9zM1680.4 1048.2h1.9v1.9h-1.9zM1554.7 1158.6h1.9v1.9h-1.9zM1729.2 1141.8h1.9v1.9h-1.9zM1667.3 1158.6h1.9v1.9h-1.9zM1616.6 1074.4h1.9v1.9h-1.9zM1603.5 1123.1h1.9v1.9h-1.9zM1607.2 1136.2h1.9v1.9h-1.9zM1684.2 1132.4h1.9v1.9h-1.9zM1746.1 971.5h1.9v1.9h-1.9zM1725.4 1255.9h1.9v1.9h-1.9zM1652.3 1181.1h1.9v1.9h-1.9zM1500.3 1141.8h1.9v1.9h-1.9zM1584.7 995.8h1.9v1.9h-1.9zM1372.8 1235.3h1.9v1.9h-1.9zM1487.2 921.0h1.9v1.9h-1.9zM1719.8 1265.2h1.9v1.9h-1.9zM1569.7 999.6h1.9v1.9h-1.9zM1549.1 1265.2h1.9v1.9h-1.9zM1719.8 1169.8h1.9v1.9h-1.9zM1592.2 1143.6h1.9v1.9h-1.9zM1402.8 1201.6h1.9v1.9h-1.9zM1541.6 967.8h1.9v1.9h-1.9zM1537.8 1276.5h1.9v1.9h-1.9zM1631.6 1255.9h1.9v1.9h-1.9zM1399.0 1270.9h1.9v1.9h-1.9zM1744.2 1063.2h1.9v1.9h-1.9zM1657.9 1269.0h1.9v1.9h-1.9zM1588.5 1156.7h1.9v1.9h-1.9zM1545.3 1020.2h1.9v1.9h-1.9zM1712.3 984.6h1.9v1.9h-1.9zM1637.3 1111.8h1.9v1.9h-1.9zM1440.3 1186.7h1.9v1.9h-1.9zM1440.3 950.9h1.9v1.9h-1.9zM1551.0 1033.3h1.9v1.9h-1.9zM1727.3 992.1h1.9v1.9h-1.9zM1620.4 1194.1h1.9v1.9h-1.9zM1536.0 1093.1h1.9v1.9h-1.9zM1427.2 1211.0h1.9v1.9h-1.9zM1498.4 1192.3h1.9v1.9h-1.9zM1746.1 1205.4h1.9v1.9h-1.9zM1612.9 1203.5h1.9v1.9h-1.9zM1626.0 922.9h1.9v1.9h-1.9zM1517.2 1182.9h1.9v1.9h-1.9zM1641.0 956.5h1.9v1.9h-1.9zM1410.3 1250.3h1.9v1.9h-1.9zM1430.9 1126.8h1.9v1.9h-1.9zM1629.8 922.9h1.9v1.9h-1.9zM1470.3 950.9h1.9v1.9h-1.9zM1586.6 992.1h1.9v1.9h-1.9zM1633.5 1132.4h1.9v1.9h-1.9zM1714.2 992.1h1.9v1.9h-1.9zM1474.1 1246.5h1.9v1.9h-1.9zM1669.2 1211.0h1.9v1.9h-1.9zM1509.7 1143.6h1.9v1.9h-1.9zM1594.1 1057.6h1.9v1.9h-1.9z"/>
</g>
<line x1="1560.95" y1="905.10" x2="1560.95" y2="914.82" stroke="#000" stroke-width="1.7"/>
<line x1="1560.95" y1="1277.40" x2="1560.95" y2="1267.68" stroke="#000" stroke-width="1.7"/>
<line x1="1373.70" y1="1090.35" x2="1383.42" y2="1090.35" stroke="#000" stroke-width="1.7"/>
<line x1="1747.00" y1="1090.35" x2="1737.28" y2="1090.35" stroke="#000" stroke-width="1.7"/>
<rect x="1373.70" y="905.10" width="373.30" height="372.30" fill="none" stroke="#000" stroke-width="1.6"/>
<text transform="translate(1485.95 882.30) scale(1.2 1)" font-size="37.8">σ</text>
<text x="1509.83" y="893.64" font-size="29.48">g</text>
<text x="1534.45" y="884.90" font-size="37.8">=</text>
<text x="1628.75" y="882.30" font-size="37.8" text-anchor="end">0.15</text>
<text x="1383.10" y="1328.10" font-size="35.6" text-anchor="middle">1</text>
<text x="1571.50" y="1328.10" font-size="35.6" text-anchor="middle">100</text>
<text x="1756.20" y="1328.10" font-size="35.6" text-anchor="middle">200</text>
<text x="1557.50" y="1382.5" font-size="34.4" text-anchor="middle"># Presynaptic neuron <tspan font-style="italic" dx="-2.6">j</tspan></text>
<text x="124.30" y="916.50" font-size="35.4" text-anchor="end">200</text>
<text x="124.30" y="1102.30" font-size="35.4" text-anchor="end">100</text>
<text x="124.30" y="1287.40" font-size="35.4" text-anchor="end">1</text>
<text x="28" y="1090" font-size="33.5" text-anchor="middle" transform="rotate(-90 28 1090)"># Postsynaptic neuron <tspan font-style="italic" dx="-1.4">i</tspan></text>
<defs><linearGradient id="cb" x1="0" y1="1" x2="0" y2="0"><stop offset="0" stop-color="#e3eef8"/><stop offset="0.2" stop-color="#1f78b4"/><stop offset="0.4" stop-color="#fdbf6f"/><stop offset="0.6" stop-color="#ff7f00"/><stop offset="0.8" stop-color="#fb9a99"/><stop offset="1" stop-color="#e31a1c"/></linearGradient></defs>
<rect x="1755.7" y="905.1" width="18.20" height="372.30" fill="url(#cb)"/>
<line x1="1755.70" y1="1202.94" x2="1773.90" y2="1202.94" stroke="#000" stroke-width="1.3"/>
<line x1="1755.70" y1="1128.48" x2="1773.90" y2="1128.48" stroke="#000" stroke-width="1.3"/>
<line x1="1755.70" y1="1054.02" x2="1773.90" y2="1054.02" stroke="#000" stroke-width="1.3"/>
<line x1="1755.70" y1="979.56" x2="1773.90" y2="979.56" stroke="#000" stroke-width="1.3"/>
<rect x="1755.70" y="905.10" width="18.20" height="372.30" fill="none" stroke="#000" stroke-width="1.3"/>
<text x="1838.40" y="1288.50" font-size="35.3" text-anchor="end">0.0</text>
<text x="1838.40" y="1214.22" font-size="35.3" text-anchor="end">0.2</text>
<text x="1838.40" y="1139.94" font-size="35.3" text-anchor="end">0.4</text>
<text x="1838.40" y="1065.66" font-size="35.3" text-anchor="end">0.6</text>
<text x="1838.40" y="991.38" font-size="35.3" text-anchor="end">0.8</text>
<text x="1838.40" y="917.10" font-size="35.3" text-anchor="end">1.0</text>
<text x="1886.70" y="1091.40" font-size="34.5" text-anchor="middle" transform="rotate(-90 1886.70 1091.40)">Synaptic strength</text>
</svg>
</body></html>
